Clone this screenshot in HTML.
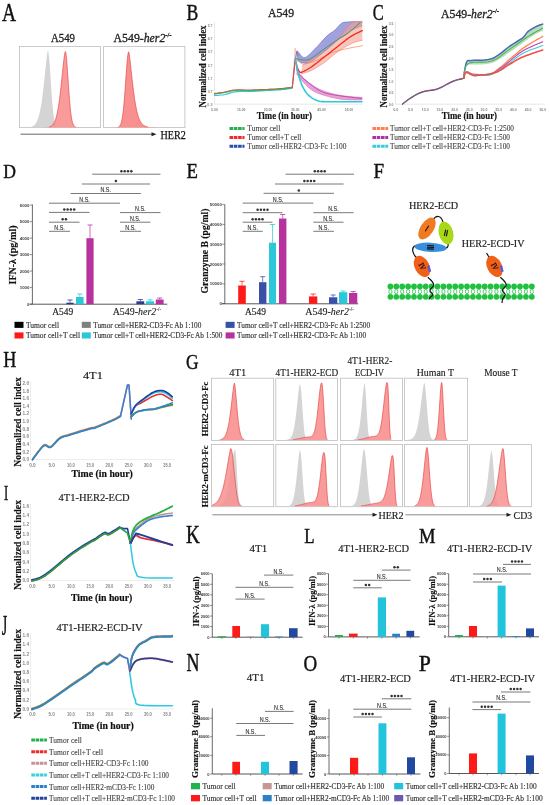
<!DOCTYPE html>
<html><head><meta charset="utf-8"><style>
html,body{margin:0;padding:0;background:#fff;}
svg{display:block;will-change:transform;}
</style></head><body>
<svg width="550" height="805" viewBox="0 0 550 805">
<rect x="0" y="0" width="550" height="805" fill="#fff"/>
<text transform="translate(2.00 20.90) scale(0.805 1)" font-family="Liberation Serif" font-size="24.24" fill="#111" stroke="#111" stroke-width="0.45">A</text>
<text transform="translate(186.40 20.34) scale(0.796 1)" font-family="Liberation Serif" font-size="22.21" fill="#111" stroke="#111" stroke-width="0.45">B</text>
<text transform="translate(372.70 20.18) scale(0.737 1)" font-family="Liberation Serif" font-size="22.16" fill="#111" stroke="#111" stroke-width="0.45">C</text>
<text transform="translate(3.30 178.15) scale(0.910 1)" font-family="Liberation Serif" font-size="19.32" fill="#111" stroke="#111" stroke-width="0.45">D</text>
<text transform="translate(186.40 178.20) scale(0.862 1)" font-family="Liberation Serif" font-size="21.68" fill="#111" stroke="#111" stroke-width="0.45">E</text>
<text transform="translate(373.60 178.20) scale(0.913 1)" font-family="Liberation Serif" font-size="20.92" fill="#111" stroke="#111" stroke-width="0.45">F</text>
<text transform="translate(3.30 367.30) scale(0.813 1)" font-family="Liberation Serif" font-size="22.29" fill="#111" stroke="#111" stroke-width="0.45">H</text>
<text transform="translate(186.00 368.78) scale(0.792 1)" font-family="Liberation Serif" font-size="22.01" fill="#111" stroke="#111" stroke-width="0.45">G</text>
<text transform="translate(4.00 500.40) scale(0.591 1)" font-family="Liberation Serif" font-size="21.37" fill="#111" stroke="#111" stroke-width="0.45">I</text>
<text transform="translate(1.80 635.21) scale(0.491 1)" font-family="Liberation Serif" font-size="28.72" fill="#111" stroke="#111" stroke-width="0.45">J</text>
<text transform="translate(186.00 542.80) scale(0.768 1)" font-family="Liberation Serif" font-size="24.89" fill="#111" stroke="#111" stroke-width="0.45">K</text>
<text transform="translate(304.20 543.20) scale(0.807 1)" font-family="Liberation Serif" font-size="20.92" fill="#111" stroke="#111" stroke-width="0.45">L</text>
<text transform="translate(419.00 542.60) scale(0.927 1)" font-family="Liberation Serif" font-size="20.00" fill="#111" stroke="#111" stroke-width="0.45">M</text>
<text transform="translate(186.50 671.00) scale(0.737 1)" font-family="Liberation Serif" font-size="24.43" fill="#111" stroke="#111" stroke-width="0.45">N</text>
<text transform="translate(303.60 671.07) scale(0.807 1)" font-family="Liberation Serif" font-size="23.49" fill="#111" stroke="#111" stroke-width="0.45">O</text>
<text transform="translate(418.70 671.00) scale(0.921 1)" font-family="Liberation Serif" font-size="23.66" fill="#111" stroke="#111" stroke-width="0.45">P</text>
<text x="51" y="41.6" font-family="Liberation Serif" font-size="11.5" font-weight="normal" font-style="normal" text-anchor="start" fill="#222" textLength="24" lengthAdjust="spacingAndGlyphs" stroke="#222" stroke-width="0.3">A549</text>
<text x="113.6" y="41.6" font-family="Liberation Serif" font-size="11.5" font-weight="normal" font-style="normal" text-anchor="start" fill="#222" textLength="58" lengthAdjust="spacingAndGlyphs" stroke="#222" stroke-width="0.3">A549-<tspan font-style="italic">her2</tspan><tspan font-size="6.5" dy="-4.5">-/-</tspan></text>
<rect x="19.5" y="46.4" width="81" height="81.2" fill="none" stroke="#bdbdbd" stroke-width="0.8"/>
<rect x="103.6" y="46.4" width="81.3" height="81.2" fill="none" stroke="#bdbdbd" stroke-width="0.8"/>
<path d="M20.0,127.4 L20.00,127.40 L20.50,127.40 L21.00,127.40 L21.50,127.39 L22.00,127.39 L22.50,127.39 L23.00,127.39 L23.50,127.38 L24.00,127.38 L24.50,127.37 L25.00,127.37 L25.50,127.36 L26.00,127.34 L26.50,127.33 L27.00,127.31 L27.50,127.28 L28.00,127.25 L28.50,127.21 L29.00,127.16 L29.50,127.10 L30.00,127.02 L30.50,126.93 L31.00,126.82 L31.50,126.68 L32.00,126.51 L32.50,126.30 L33.00,126.05 L33.50,125.75 L34.00,125.38 L34.50,124.95 L35.00,124.43 L35.50,123.82 L36.00,123.10 L36.50,122.25 L37.00,121.26 L37.50,120.11 L38.00,118.78 L38.50,117.25 L39.00,115.49 L39.50,113.50 L40.00,111.24 L40.50,108.70 L41.00,105.88 L41.50,102.74 L42.00,99.30 L42.50,95.55 L43.00,91.51 L43.50,87.19 L44.00,82.63 L44.50,77.89 L45.00,73.04 L45.50,68.18 L46.00,63.42 L46.50,58.95 L47.00,54.98 L47.50,51.85 L47.90,50.50 L48.00,50.57 L48.50,52.45 L49.00,56.50 L49.50,62.23 L50.00,69.13 L50.50,76.69 L51.00,84.41 L51.50,91.89 L52.00,98.80 L52.50,104.94 L53.00,110.20 L53.50,114.54 L54.00,118.02 L54.50,120.72 L55.00,122.76 L55.50,124.25 L56.00,125.31 L56.50,126.05 L57.00,126.55 L57.50,126.87 L58.00,127.08 L58.50,127.21 L59.00,127.29 L59.50,127.34 L60.00,127.37 L60.50,127.38 L61.00,127.39 L61.50,127.40 L62.00,127.40 L62.50,127.40 L63.00,127.40 L63.50,127.40 L64.00,127.40 L64.50,127.40 L65.00,127.40 L65.50,127.40 L66.00,127.40 L66.50,127.40 L67.00,127.40 L67.50,127.40 L68.00,127.40 L68.50,127.40 L69.00,127.40 L69.50,127.40 L70.00,127.40 L70.50,127.40 L71.00,127.40 L71.50,127.40 L72.00,127.40 L72.50,127.40 L73.00,127.40 L73.50,127.40 L74.00,127.40 L74.50,127.40 L75.00,127.40 L75.50,127.40 L76.00,127.40 L76.50,127.40 L77.00,127.40 L77.50,127.40 L78.00,127.40 L78.50,127.40 L79.00,127.40 L79.50,127.40 L80.00,127.40 L80.50,127.40 L81.00,127.40 L81.50,127.40 L82.00,127.40 L82.50,127.40 L83.00,127.40 L83.50,127.40 L84.00,127.40 L84.50,127.40 L85.00,127.40 L85.50,127.40 L86.00,127.40 L86.50,127.40 L87.00,127.40 L87.50,127.40 L88.00,127.40 L88.50,127.40 L89.00,127.40 L89.50,127.40 L90.00,127.40 L90.50,127.40 L91.00,127.40 L91.50,127.40 L92.00,127.40 L92.50,127.40 L93.00,127.40 L93.50,127.40 L94.00,127.40 L94.50,127.40 L95.00,127.40 L95.50,127.40 L96.00,127.40 L96.50,127.40 L97.00,127.40 L97.50,127.40 L98.00,127.40 L98.50,127.40 L99.00,127.40 L99.50,127.40 L100.00,127.40 L100.0,127.4 Z" fill="#d4d4d4" fill-opacity="1.0" stroke="none"/>
<path d="M20.0,127.4 L20.00,127.40 L20.50,127.40 L21.00,127.40 L21.50,127.40 L22.00,127.40 L22.50,127.40 L23.00,127.40 L23.50,127.40 L24.00,127.40 L24.50,127.40 L25.00,127.40 L25.50,127.40 L26.00,127.40 L26.50,127.40 L27.00,127.40 L27.50,127.40 L28.00,127.40 L28.50,127.40 L29.00,127.40 L29.50,127.40 L30.00,127.40 L30.50,127.40 L31.00,127.40 L31.50,127.40 L32.00,127.40 L32.50,127.40 L33.00,127.40 L33.50,127.40 L34.00,127.40 L34.50,127.40 L35.00,127.40 L35.50,127.40 L36.00,127.40 L36.50,127.40 L37.00,127.40 L37.50,127.40 L38.00,127.40 L38.50,127.40 L39.00,127.40 L39.50,127.40 L40.00,127.40 L40.50,127.40 L41.00,127.40 L41.50,127.39 L42.00,127.39 L42.50,127.39 L43.00,127.38 L43.50,127.38 L44.00,127.37 L44.50,127.36 L45.00,127.35 L45.50,127.33 L46.00,127.31 L46.50,127.28 L47.00,127.24 L47.50,127.19 L48.00,127.13 L48.50,127.05 L49.00,126.95 L49.50,126.82 L50.00,126.66 L50.50,126.46 L51.00,126.21 L51.50,125.91 L52.00,125.53 L52.50,125.08 L53.00,124.52 L53.50,123.86 L54.00,123.06 L54.50,122.11 L55.00,120.98 L55.50,119.66 L56.00,118.12 L56.50,116.33 L57.00,114.28 L57.50,111.94 L58.00,109.29 L58.50,106.32 L59.00,103.03 L59.50,99.40 L60.00,95.46 L60.50,91.22 L61.00,86.72 L61.50,82.01 L62.00,77.17 L62.50,72.29 L63.00,67.48 L63.50,62.90 L64.00,58.71 L64.50,55.15 L65.00,52.51 L65.40,51.50 L65.50,51.60 L66.00,53.91 L66.50,58.44 L67.00,64.53 L67.50,71.58 L68.00,79.06 L68.50,86.54 L69.00,93.66 L69.50,100.15 L70.00,105.87 L70.50,110.76 L71.00,114.80 L71.50,118.05 L72.00,120.61 L72.50,122.56 L73.00,124.02 L73.50,125.08 L74.00,125.84 L74.50,126.37 L75.00,126.74 L75.50,126.98 L76.00,127.14 L76.50,127.24 L77.00,127.30 L77.50,127.34 L78.00,127.37 L78.50,127.38 L79.00,127.39 L79.50,127.39 L80.00,127.40 L80.50,127.40 L81.00,127.40 L81.50,127.40 L82.00,127.40 L82.50,127.40 L83.00,127.40 L83.50,127.40 L84.00,127.40 L84.50,127.40 L85.00,127.40 L85.50,127.40 L86.00,127.40 L86.50,127.40 L87.00,127.40 L87.50,127.40 L88.00,127.40 L88.50,127.40 L89.00,127.40 L89.50,127.40 L90.00,127.40 L90.50,127.40 L91.00,127.40 L91.50,127.40 L92.00,127.40 L92.50,127.40 L93.00,127.40 L93.50,127.40 L94.00,127.40 L94.50,127.40 L95.00,127.40 L95.50,127.40 L96.00,127.40 L96.50,127.40 L97.00,127.40 L97.50,127.40 L98.00,127.40 L98.50,127.40 L99.00,127.40 L99.50,127.40 L100.00,127.40 L100.0,127.4 Z" fill="#f89090" fill-opacity="0.9" stroke="none"/>
<path d="M49.00,126.95 L49.50,126.82 L50.00,126.66 L50.50,126.46 L51.00,126.21 L51.50,125.91 L52.00,125.53 L52.50,125.08 L53.00,124.52 L53.50,123.86 L54.00,123.06 L54.50,122.11 L55.00,120.98 L55.50,119.66 L56.00,118.12 L56.50,116.33 L57.00,114.28 L57.50,111.94 L58.00,109.29 L58.50,106.32 L59.00,103.03 L59.50,99.40 L60.00,95.46 L60.50,91.22 L61.00,86.72 L61.50,82.01 L62.00,77.17 L62.50,72.29 L63.00,67.48 L63.50,62.90 L64.00,58.71 L64.50,55.15 L65.00,52.51 L65.40,51.50 L65.50,51.60 L66.00,53.91 L66.50,58.44 L67.00,64.53 L67.50,71.58 L68.00,79.06 L68.50,86.54 L69.00,93.66 L69.50,100.15 L70.00,105.87 L70.50,110.76 L71.00,114.80 L71.50,118.05 L72.00,120.61 L72.50,122.56 L73.00,124.02 L73.50,125.08 L74.00,125.84 L74.50,126.37 L75.00,126.74 L75.50,126.98" fill="none" stroke="#e84848" stroke-width="0.7" stroke-linejoin="round"/>
<path d="M104.0,127.4 L104.00,127.40 L104.50,127.40 L105.00,127.40 L105.50,127.40 L106.00,127.40 L106.50,127.40 L107.00,127.40 L107.50,127.40 L108.00,127.40 L108.50,127.40 L109.00,127.40 L109.50,127.40 L110.00,127.40 L110.50,127.40 L111.00,127.40 L111.50,127.40 L112.00,127.40 L112.50,127.40 L113.00,127.40 L113.50,127.40 L114.00,127.40 L114.50,127.39 L115.00,127.39 L115.50,127.38 L116.00,127.36 L116.50,127.33 L117.00,127.29 L117.50,127.21 L118.00,127.09 L118.50,126.90 L119.00,126.61 L119.50,126.17 L120.00,125.54 L120.50,124.64 L121.00,123.40 L121.50,121.71 L122.00,119.48 L122.50,116.61 L123.00,113.02 L123.50,108.64 L124.00,103.47 L124.50,97.54 L125.00,90.97 L125.50,83.96 L126.00,76.79 L126.50,69.80 L127.00,63.40 L127.50,58.03 L128.00,54.10 L128.50,52.02 L128.70,51.80 L129.00,52.94 L129.50,56.19 L130.00,60.23 L130.50,64.65 L131.00,69.26 L131.50,73.91 L132.00,78.48 L132.50,82.92 L133.00,87.16 L133.50,91.17 L134.00,94.93 L134.50,98.42 L135.00,101.64 L135.50,104.58 L136.00,107.27 L136.50,109.70 L137.00,111.88 L137.50,113.85 L138.00,115.60 L138.50,117.15 L139.00,118.53 L139.50,119.74 L140.00,120.81 L140.50,121.74 L141.00,122.55 L141.50,123.26 L142.00,123.87 L142.50,124.40 L143.00,124.86 L143.50,125.25 L144.00,125.58 L144.50,125.87 L145.00,126.11 L145.50,126.32 L146.00,126.50 L146.50,126.65 L147.00,126.77 L147.50,126.88 L148.00,126.97 L148.50,127.04 L149.00,127.10 L149.50,127.15 L150.00,127.20 L150.50,127.23 L151.00,127.26 L151.50,127.29 L152.00,127.31 L152.50,127.33 L153.00,127.34 L153.50,127.35 L154.00,127.36 L154.50,127.37 L155.00,127.37 L155.50,127.38 L156.00,127.38 L156.50,127.39 L157.00,127.39 L157.50,127.39 L158.00,127.39 L158.50,127.39 L159.00,127.40 L159.50,127.40 L160.00,127.40 L160.50,127.40 L161.00,127.40 L161.50,127.40 L162.00,127.40 L162.50,127.40 L163.00,127.40 L163.50,127.40 L164.00,127.40 L164.50,127.40 L165.00,127.40 L165.50,127.40 L166.00,127.40 L166.50,127.40 L167.00,127.40 L167.50,127.40 L168.00,127.40 L168.50,127.40 L169.00,127.40 L169.50,127.40 L170.00,127.40 L170.50,127.40 L171.00,127.40 L171.50,127.40 L172.00,127.40 L172.50,127.40 L173.00,127.40 L173.50,127.40 L174.00,127.40 L174.50,127.40 L175.00,127.40 L175.50,127.40 L176.00,127.40 L176.50,127.40 L177.00,127.40 L177.50,127.40 L178.00,127.40 L178.50,127.40 L179.00,127.40 L179.50,127.40 L180.00,127.40 L180.50,127.40 L181.00,127.40 L181.50,127.40 L182.00,127.40 L182.50,127.40 L183.00,127.40 L183.50,127.40 L184.00,127.40 L184.0,127.4 Z" fill="#f89090" fill-opacity="1.0" stroke="none"/>
<path d="M118.50,126.90 L119.00,126.61 L119.50,126.17 L120.00,125.54 L120.50,124.64 L121.00,123.40 L121.50,121.71 L122.00,119.48 L122.50,116.61 L123.00,113.02 L123.50,108.64 L124.00,103.47 L124.50,97.54 L125.00,90.97 L125.50,83.96 L126.00,76.79 L126.50,69.80 L127.00,63.40 L127.50,58.03 L128.00,54.10 L128.50,52.02 L128.70,51.80 L129.00,52.94 L129.50,56.19 L130.00,60.23 L130.50,64.65 L131.00,69.26 L131.50,73.91 L132.00,78.48 L132.50,82.92 L133.00,87.16 L133.50,91.17 L134.00,94.93 L134.50,98.42 L135.00,101.64 L135.50,104.58 L136.00,107.27 L136.50,109.70 L137.00,111.88 L137.50,113.85 L138.00,115.60 L138.50,117.15 L139.00,118.53 L139.50,119.74 L140.00,120.81 L140.50,121.74 L141.00,122.55 L141.50,123.26 L142.00,123.87 L142.50,124.40 L143.00,124.86 L143.50,125.25 L144.00,125.58 L144.50,125.87 L145.00,126.11 L145.50,126.32 L146.00,126.50 L146.50,126.65 L147.00,126.77 L147.50,126.88 L148.00,126.97" fill="none" stroke="#e84848" stroke-width="0.7" stroke-linejoin="round"/>
<line x1="20.5" y1="134.2" x2="154" y2="134.2" stroke="#666" stroke-width="1.0"/>
<path d="M156.5,134.2 L151.5,132.2 L151.5,136.2 Z" fill="#222"/>
<text x="160.5" y="139" font-family="Liberation Serif" font-size="12" font-weight="normal" font-style="normal" text-anchor="start" fill="#111" textLength="25.3" lengthAdjust="spacingAndGlyphs" stroke="#111" stroke-width="0.25">HER2</text>
<text x="281" y="17.3" font-family="Liberation Serif" font-size="11.8" font-weight="normal" font-style="normal" text-anchor="middle" fill="#222" stroke="#222" stroke-width="0.3">A549</text>
<line x1="214.5" y1="22" x2="214.5" y2="104.2" stroke="#d8d8d8" stroke-width="0.6"/>
<line x1="214.5" y1="104.2" x2="363" y2="104.2" stroke="#d8d8d8" stroke-width="0.6"/>
<text x="212.5" y="27.2" font-family="Liberation Sans" font-size="4.0" font-weight="bold" font-style="normal" text-anchor="end" fill="#888" textLength="4.800000000000001" lengthAdjust="spacingAndGlyphs">5.7</text>
<text x="212.5" y="40.3" font-family="Liberation Sans" font-size="4.0" font-weight="bold" font-style="normal" text-anchor="end" fill="#888" textLength="4.800000000000001" lengthAdjust="spacingAndGlyphs">4.7</text>
<text x="212.5" y="53.4" font-family="Liberation Sans" font-size="4.0" font-weight="bold" font-style="normal" text-anchor="end" fill="#888" textLength="4.800000000000001" lengthAdjust="spacingAndGlyphs">3.7</text>
<text x="212.5" y="66.5" font-family="Liberation Sans" font-size="4.0" font-weight="bold" font-style="normal" text-anchor="end" fill="#888" textLength="4.800000000000001" lengthAdjust="spacingAndGlyphs">2.7</text>
<text x="212.5" y="79.60000000000001" font-family="Liberation Sans" font-size="4.0" font-weight="bold" font-style="normal" text-anchor="end" fill="#888" textLength="4.800000000000001" lengthAdjust="spacingAndGlyphs">1.7</text>
<text x="212.5" y="92.7" font-family="Liberation Sans" font-size="4.0" font-weight="bold" font-style="normal" text-anchor="end" fill="#888" textLength="4.800000000000001" lengthAdjust="spacingAndGlyphs">0.7</text>
<text x="212.5" y="105.80000000000001" font-family="Liberation Sans" font-size="4.0" font-weight="bold" font-style="normal" text-anchor="end" fill="#888" textLength="6.4" lengthAdjust="spacingAndGlyphs">-0.3</text>
<text x="214.5" y="110.5" font-family="Liberation Sans" font-size="4.2" font-weight="bold" font-style="normal" text-anchor="middle" fill="#888" textLength="6.8" lengthAdjust="spacingAndGlyphs">5.00</text>
<text x="241.2" y="110.5" font-family="Liberation Sans" font-size="4.2" font-weight="bold" font-style="normal" text-anchor="middle" fill="#888" textLength="8.5" lengthAdjust="spacingAndGlyphs">15.00</text>
<text x="268" y="110.5" font-family="Liberation Sans" font-size="4.2" font-weight="bold" font-style="normal" text-anchor="middle" fill="#888" textLength="8.5" lengthAdjust="spacingAndGlyphs">25.00</text>
<text x="295.2" y="110.5" font-family="Liberation Sans" font-size="4.2" font-weight="bold" font-style="normal" text-anchor="middle" fill="#888" textLength="8.5" lengthAdjust="spacingAndGlyphs">35.00</text>
<text x="321.5" y="110.5" font-family="Liberation Sans" font-size="4.2" font-weight="bold" font-style="normal" text-anchor="middle" fill="#888" textLength="8.5" lengthAdjust="spacingAndGlyphs">45.00</text>
<text x="349" y="110.5" font-family="Liberation Sans" font-size="4.2" font-weight="bold" font-style="normal" text-anchor="middle" fill="#888" textLength="8.5" lengthAdjust="spacingAndGlyphs">55.00</text>
<text x="206" y="66.5" font-family="Liberation Serif" font-size="10" font-weight="bold" font-style="normal" text-anchor="middle" fill="#111" textLength="82" lengthAdjust="spacingAndGlyphs" transform="rotate(-90 206 66.5)" stroke="#111" stroke-width="0.15">Normalized cell index</text>
<text x="284.3" y="118.6" font-family="Liberation Serif" font-size="9.5" font-weight="bold" font-style="normal" text-anchor="middle" fill="#111" textLength="55.3" lengthAdjust="spacingAndGlyphs" stroke="#111" stroke-width="0.15">Time (in hour)</text>
<path d="M296.1,51.2 L296.3,51.2 L296.5,51.2 L296.9,51.2 L297.2,51.2 L297.7,51.4 L298.2,51.8 L298.8,52.5 L299.6,53.5 L300.4,54.7 L301.3,55.8 L302.2,56.7 L303.0,57.3 L303.7,57.6 L304.4,57.6 L305.1,57.5 L305.8,57.2 L306.6,56.7 L307.7,55.9 L309.0,54.8 L310.5,53.4 L312.2,51.7 L313.9,49.9 L315.6,48.1 L317.3,46.4 L318.9,44.7 L320.5,42.9 L322.1,41.0 L323.7,39.3 L325.3,37.6 L326.8,36.1 L328.3,34.8 L329.7,33.8 L331.1,32.8 L332.4,31.9 L333.7,31.0 L335.0,30.0 L336.2,28.8 L337.3,27.6 L338.4,26.3 L339.5,25.1 L340.6,24.0 L341.8,23.2 L343.0,22.6 L344.3,22.3 L345.6,22.1 L346.9,22.0 L348.4,21.9 L350.0,21.8 L351.9,21.7 L354.2,21.7 L356.5,21.7 L358.7,21.7 L360.7,21.8 L362.0,21.8 L362.0,26.0 L360.9,26.4 L359.3,27.0 L357.5,27.7 L355.5,28.4 L353.6,29.2 L352.0,30.0 L350.6,30.8 L349.3,31.8 L348.1,32.7 L346.9,33.7 L345.8,34.6 L344.6,35.5 L343.5,36.2 L342.5,36.9 L341.5,37.5 L340.5,38.2 L339.2,39.0 L337.7,40.2 L335.8,41.8 L333.6,43.6 L331.3,45.7 L328.8,47.8 L326.4,49.9 L324.0,51.8 L321.7,53.7 L319.3,55.7 L316.9,57.6 L314.6,59.4 L312.4,60.9 L310.5,62.0 L308.8,62.7 L307.3,63.1 L305.9,63.2 L304.6,63.1 L303.4,62.9 L302.3,62.7 L301.2,62.4 L300.1,62.0 L299.0,61.4 L298.1,60.8 L297.4,60.3 L296.8,60.0Z" fill="#8a8ad8" fill-opacity="0.8" stroke="none"/>
<path d="M296.1,51.2 L296.3,51.2 L296.5,51.2 L296.9,51.2 L297.2,51.2 L297.7,51.4 L298.2,51.8 L298.8,52.5 L299.6,53.5 L300.4,54.7 L301.3,55.8 L302.2,56.7 L303.0,57.3 L303.7,57.6 L304.4,57.6 L305.1,57.5 L305.8,57.2 L306.6,56.7 L307.7,55.9 L309.0,54.8 L310.5,53.4 L312.2,51.7 L313.9,49.9 L315.6,48.1 L317.3,46.4 L318.9,44.7 L320.5,42.9 L322.1,41.0 L323.7,39.3 L325.3,37.6 L326.8,36.1 L328.3,34.8 L329.7,33.8 L331.1,32.8 L332.4,31.9 L333.7,31.0 L335.0,30.0 L336.2,28.8 L337.3,27.6 L338.4,26.3 L339.5,25.1 L340.6,24.0 L341.8,23.2 L343.0,22.6 L344.3,22.3 L345.6,22.1 L346.9,22.0 L348.4,21.9 L350.0,21.8 L351.9,21.7 L354.2,21.7 L356.5,21.7 L358.7,21.7 L360.7,21.8 L362.0,21.8" fill="none" stroke="#6a6ac8" stroke-width="0.6" stroke-linejoin="round" stroke-linecap="round"/>
<path d="M362.0,26.0 L360.9,26.4 L359.3,27.0 L357.5,27.7 L355.5,28.4 L353.6,29.2 L352.0,30.0 L350.6,30.8 L349.3,31.8 L348.1,32.7 L346.9,33.7 L345.8,34.6 L344.6,35.5 L343.5,36.2 L342.5,36.9 L341.5,37.5 L340.5,38.2 L339.2,39.0 L337.7,40.2 L335.8,41.8 L333.6,43.6 L331.3,45.7 L328.8,47.8 L326.4,49.9 L324.0,51.8 L321.7,53.7 L319.3,55.7 L316.9,57.6 L314.6,59.4 L312.4,60.9 L310.5,62.0 L308.8,62.7 L307.3,63.1 L305.9,63.2 L304.6,63.1 L303.4,62.9 L302.3,62.7 L301.2,62.4 L300.1,62.0 L299.0,61.4 L298.1,60.8 L297.4,60.3 L296.8,60.0" fill="none" stroke="#6a6ac8" stroke-width="0.6" stroke-linejoin="round" stroke-linecap="round"/>
<path d="M302.3,65.5 L303.1,64.9 L304.2,64.2 L305.6,63.3 L307.1,62.2 L308.7,61.1 L310.5,60.0 L312.4,58.8 L314.6,57.6 L316.9,56.3 L319.3,54.9 L321.7,53.4 L324.0,51.8 L326.3,50.0 L328.6,48.2 L330.8,46.2 L333.1,44.1 L335.4,41.9 L337.7,39.6 L340.0,36.9 L342.4,33.9 L344.7,30.7 L347.0,27.7 L349.3,25.1 L351.4,23.2 L353.5,22.1 L355.6,21.6 L357.7,21.5 L359.6,21.6 L361.1,21.8 L362.3,21.8 L362.3,40.2 L361.1,40.5 L359.6,40.9 L357.7,41.4 L355.6,42.0 L353.5,42.7 L351.4,43.6 L349.3,44.7 L347.0,45.9 L344.7,47.2 L342.4,48.7 L340.0,50.2 L337.7,51.8 L335.4,53.5 L333.1,55.3 L330.8,57.2 L328.6,59.2 L326.3,61.0 L324.0,62.7 L321.7,64.3 L319.3,65.8 L317.0,67.3 L314.7,68.7 L312.5,69.9 L310.5,70.9 L308.6,71.7 L306.7,72.3 L304.9,72.8 L303.3,73.2 L302.0,73.5 L301.0,73.7Z" fill="#f5a090" fill-opacity="0.6" stroke="none"/>
<path d="M302.3,65.5 L303.1,64.9 L304.2,64.2 L305.6,63.3 L307.1,62.2 L308.7,61.1 L310.5,60.0 L312.4,58.8 L314.6,57.6 L316.9,56.3 L319.3,54.9 L321.7,53.4 L324.0,51.8 L326.3,50.0 L328.6,48.2 L330.8,46.2 L333.1,44.1 L335.4,41.9 L337.7,39.6 L340.0,36.9 L342.4,33.9 L344.7,30.7 L347.0,27.7 L349.3,25.1 L351.4,23.2 L353.5,22.1 L355.6,21.6 L357.7,21.5 L359.6,21.6 L361.1,21.8 L362.3,21.8" fill="none" stroke="#f07060" stroke-width="0.5" stroke-linejoin="round" stroke-linecap="round"/>
<path d="M362.3,40.2 L361.1,40.5 L359.6,40.9 L357.7,41.4 L355.6,42.0 L353.5,42.7 L351.4,43.6 L349.3,44.7 L347.0,45.9 L344.7,47.2 L342.4,48.7 L340.0,50.2 L337.7,51.8 L335.4,53.5 L333.1,55.3 L330.8,57.2 L328.6,59.2 L326.3,61.0 L324.0,62.7 L321.7,64.3 L319.3,65.8 L317.0,67.3 L314.7,68.7 L312.5,69.9 L310.5,70.9 L308.6,71.7 L306.7,72.3 L304.9,72.8 L303.3,73.2 L302.0,73.5 L301.0,73.7" fill="none" stroke="#f07060" stroke-width="0.5" stroke-linejoin="round" stroke-linecap="round"/>
<path d="M296.6,69.7 L297.2,70.5 L298.0,71.6 L299.0,72.9 L300.1,74.3 L301.3,75.7 L302.5,77.0 L303.8,78.2 L305.1,79.5 L306.6,80.7 L308.1,82.0 L309.6,83.2 L311.2,84.3 L312.8,85.4 L314.3,86.4 L315.9,87.4 L317.6,88.3 L319.4,89.2 L321.4,90.1 L323.6,90.9 L325.9,91.8 L328.4,92.5 L330.9,93.3 L333.4,93.9 L335.9,94.5 L338.4,95.0 L340.9,95.4 L343.4,95.8 L345.9,96.1 L348.2,96.4 L350.5,96.6 L352.7,96.8 L355.0,97.0 L357.2,97.1 L359.1,97.2 L360.8,97.3 L362.0,97.4 L362.0,100.0 L359.9,100.0 L357.0,100.0 L353.5,99.9 L349.9,99.9 L346.3,99.7 L343.2,99.5 L340.5,99.2 L338.0,98.8 L335.6,98.3 L333.3,97.8 L331.0,97.2 L328.6,96.6 L326.1,95.9 L323.6,95.2 L321.1,94.4 L318.6,93.5 L316.3,92.6 L314.1,91.5 L312.1,90.3 L310.3,88.9 L308.5,87.4 L306.9,85.8 L305.4,84.3 L303.9,82.8 L302.4,81.2 L301.0,79.5 L299.6,77.9 L298.4,76.3 L297.4,75.0 L296.6,74.0Z" fill="#e080c8" fill-opacity="0.75" stroke="none"/>
<path d="M296.6,69.7 L297.2,70.5 L298.0,71.6 L299.0,72.9 L300.1,74.3 L301.3,75.7 L302.5,77.0 L303.8,78.2 L305.1,79.5 L306.6,80.7 L308.1,82.0 L309.6,83.2 L311.2,84.3 L312.8,85.4 L314.3,86.4 L315.9,87.4 L317.6,88.3 L319.4,89.2 L321.4,90.1 L323.6,90.9 L325.9,91.8 L328.4,92.5 L330.9,93.3 L333.4,93.9 L335.9,94.5 L338.4,95.0 L340.9,95.4 L343.4,95.8 L345.9,96.1 L348.2,96.4 L350.5,96.6 L352.7,96.8 L355.0,97.0 L357.2,97.1 L359.1,97.2 L360.8,97.3 L362.0,97.4" fill="none" stroke="#d060b8" stroke-width="0.5" stroke-linejoin="round" stroke-linecap="round"/>
<path d="M362.0,100.0 L359.9,100.0 L357.0,100.0 L353.5,99.9 L349.9,99.9 L346.3,99.7 L343.2,99.5 L340.5,99.2 L338.0,98.8 L335.6,98.3 L333.3,97.8 L331.0,97.2 L328.6,96.6 L326.1,95.9 L323.6,95.2 L321.1,94.4 L318.6,93.5 L316.3,92.6 L314.1,91.5 L312.1,90.3 L310.3,88.9 L308.5,87.4 L306.9,85.8 L305.4,84.3 L303.9,82.8 L302.4,81.2 L301.0,79.5 L299.6,77.9 L298.4,76.3 L297.4,75.0 L296.6,74.0" fill="none" stroke="#d060b8" stroke-width="0.5" stroke-linejoin="round" stroke-linecap="round"/>
<path d="M214.5,95.5 L215.6,95.4 L217.2,95.3 L219.1,95.2 L221.1,95.0 L223.2,94.8 L225.0,94.5 L226.6,94.1 L228.2,93.6 L229.7,93.1 L231.3,92.6 L233.0,92.1 L235.0,91.8 L237.2,91.6 L239.7,91.5 L242.4,91.5 L245.0,91.5 L247.6,91.5 L250.0,91.5 L252.1,91.4 L254.0,91.3 L255.8,91.2 L257.7,91.1 L259.7,90.9 L262.0,90.8 L264.7,90.7 L267.8,90.5 L271.0,90.4 L274.2,90.2 L277.3,90.0 L280.0,89.8 L282.5,89.5 L285.0,89.3 L287.3,88.9 L289.3,88.6 L291.0,88.4 L292.3,88.2" fill="none" stroke="#33c8e0" stroke-width="1.2" stroke-linejoin="round" stroke-linecap="round"/>
<path d="M214.5,93.6 L215.6,93.4 L217.2,93.2 L219.1,92.9 L221.1,92.6 L223.2,92.3 L225.0,92.0 L226.6,91.7 L228.2,91.3 L229.7,90.9 L231.3,90.5 L233.0,90.2 L235.0,90.0 L237.2,89.9 L239.7,89.9 L242.4,89.9 L245.0,90.0 L247.6,90.0 L250.0,90.0 L252.1,90.0 L254.0,89.9 L255.8,89.9 L257.7,89.8 L259.7,89.7 L262.0,89.6 L264.7,89.5 L267.8,89.4 L271.0,89.2 L274.2,89.1 L277.3,88.9 L280.0,88.7 L282.5,88.5 L285.0,88.2 L287.3,87.9 L289.3,87.6 L291.0,87.4 L292.3,87.2" fill="none" stroke="#e84a3a" stroke-width="1.2" stroke-linejoin="round" stroke-linecap="round"/>
<path d="M214.5,94.1 L215.6,93.9 L217.2,93.7 L219.1,93.4 L221.1,93.1 L223.2,92.8 L225.0,92.5 L226.6,92.2 L228.2,91.8 L229.7,91.4 L231.3,91.0 L233.0,90.7 L235.0,90.5 L237.2,90.4 L239.7,90.4 L242.4,90.4 L245.0,90.5 L247.6,90.5 L250.0,90.5 L252.1,90.5 L254.0,90.4 L255.8,90.4 L257.7,90.3 L259.7,90.2 L262.0,90.1 L264.7,90.0 L267.8,89.9 L271.0,89.7 L274.2,89.6 L277.3,89.4 L280.0,89.2 L282.5,89.0 L285.0,88.7 L287.3,88.4 L289.3,88.1 L291.0,87.9 L292.3,87.7" fill="none" stroke="#3ab04a" stroke-width="1.0" stroke-linejoin="round" stroke-linecap="round"/>
<path d="M292.3,87.5 L295.2,47.9 L297.0,62.0" fill="none" stroke="#f6c0a0" stroke-width="0.9" stroke-linejoin="round" stroke-linecap="round"/>
<path d="M292.3,87.5 L295.2,59.5 L296.8,51.5 L298.2,56.0" fill="none" stroke="#7070c8" stroke-width="0.9" stroke-linejoin="round" stroke-linecap="round"/>
<path d="M292.3,87.5 L295.2,59.5 L298.2,69.6" fill="none" stroke="#e84a3a" stroke-width="1.1" stroke-linejoin="round" stroke-linecap="round"/>
<path d="M296.1,58.7 L296.9,58.9 L298.1,59.1 L299.4,59.4 L300.9,59.7 L302.3,59.9 L303.6,60.0 L304.7,60.0 L305.7,60.1 L306.7,60.0 L307.7,59.8 L309.0,59.4 L310.5,58.7 L312.4,57.6 L314.5,56.1 L316.8,54.4 L319.2,52.6 L321.7,50.8 L324.0,49.1 L326.3,47.5 L328.7,45.8 L331.0,44.2 L333.3,42.6 L335.6,41.0 L337.7,39.6 L339.7,38.3 L341.5,37.2 L343.3,36.2 L345.0,35.1 L346.8,34.0 L348.6,32.7 L350.6,31.1 L352.9,29.2 L355.1,27.2 L357.2,25.3 L359.0,23.6 L360.3,22.5" fill="none" stroke="#3a9a50" stroke-width="1.0" stroke-linejoin="round" stroke-linecap="round"/>
<path d="M298.2,60.0 L298.7,60.5 L299.3,61.4 L300.0,62.3 L301.0,63.2 L302.2,63.8 L303.6,64.1 L305.4,63.9 L307.6,63.4 L309.9,62.7 L312.4,61.9 L314.9,60.9 L317.3,60.0 L319.6,59.0 L321.8,57.8 L324.1,56.6 L326.4,55.4 L328.6,54.2 L330.9,53.2 L333.1,52.4 L335.3,51.6 L337.5,50.9 L339.7,50.3 L342.1,49.7 L344.6,49.1 L347.5,48.5 L350.9,47.8 L354.3,47.1 L357.6,46.6 L360.3,46.1 L362.3,45.7" fill="none" stroke="#ff8050" stroke-width="0.7" stroke-linejoin="round" stroke-linecap="round"/>
<path d="M298.2,69.6 L298.4,70.0 L298.7,70.6 L299.0,71.2 L299.5,71.9 L300.1,72.3 L301.0,72.3 L302.1,72.0 L303.5,71.5 L305.1,70.7 L306.8,69.8 L308.6,68.7 L310.5,67.5 L312.5,66.1 L314.7,64.5 L317.0,62.8 L319.3,61.0 L321.7,59.1 L324.0,57.3 L326.3,55.5 L328.6,53.7 L330.8,51.9 L333.1,50.0 L335.4,48.2 L337.7,46.4 L340.0,44.6 L342.4,42.7 L344.7,40.9 L347.0,39.1 L349.3,37.5 L351.4,36.1 L353.5,34.9 L355.6,33.7 L357.7,32.8 L359.6,31.9 L361.1,31.2 L362.3,30.7" fill="none" stroke="#f02a20" stroke-width="1.3" stroke-linejoin="round" stroke-linecap="round"/>
<path d="M296.0,62.0 L296.1,63.2 L296.3,64.8 L296.4,66.8 L296.8,68.8 L297.2,70.8 L298.0,72.6 L299.0,74.2 L300.2,75.6 L301.6,77.0 L303.2,78.4 L304.9,79.9 L306.8,81.4 L308.9,83.1 L311.2,84.9 L313.7,86.8 L316.3,88.6 L318.9,90.2 L321.4,91.5 L323.7,92.5 L325.8,93.2 L327.9,93.8 L330.2,94.2 L332.8,94.7 L335.9,95.2 L339.9,95.8 L344.7,96.5 L349.9,97.1 L354.8,97.7 L359.0,98.1 L362.0,98.5" fill="none" stroke="#b040a0" stroke-width="0.8" stroke-linejoin="round" stroke-linecap="round"/>
<path d="M295.5,60.0 L295.8,61.4 L296.2,63.4 L296.6,65.7 L297.1,68.1 L297.6,70.5 L298.1,72.6 L298.5,74.5 L299.0,76.2 L299.4,77.9 L299.9,79.6 L300.4,81.2 L301.0,82.8 L301.6,84.4 L302.3,85.9 L303.0,87.4 L303.8,88.9 L304.6,90.2 L305.4,91.5 L306.3,92.7 L307.2,93.8 L308.1,94.8 L309.1,95.7 L310.1,96.6 L311.2,97.4 L312.3,98.2 L313.4,98.9 L314.6,99.5 L315.8,100.1 L317.1,100.6 L318.5,101.0 L319.8,101.3 L320.8,101.5 L321.9,101.6 L323.4,101.6 L325.5,101.7 L328.6,101.7 L333.2,101.7 L339.2,101.8 L345.9,101.7 L352.5,101.7 L358.1,101.7 L362.0,101.7" fill="none" stroke="#30c8d8" stroke-width="1.6" stroke-linejoin="round" stroke-linecap="round"/>
<line x1="229.5" y1="128.5" x2="244.5" y2="128.5" stroke="#22b04b" stroke-width="3.0" stroke-dasharray="3.6,0.7"/>
<text x="247.3" y="131.2" font-family="Liberation Serif" font-size="8" font-weight="normal" font-style="normal" text-anchor="start" fill="#444" textLength="33" lengthAdjust="spacingAndGlyphs" stroke="#444" stroke-width="0.12">Tumor cell</text>
<line x1="229.5" y1="137.4" x2="244.5" y2="137.4" stroke="#f02a2a" stroke-width="3.0" stroke-dasharray="3.6,0.7"/>
<text x="247.3" y="140.1" font-family="Liberation Serif" font-size="8" font-weight="normal" font-style="normal" text-anchor="start" fill="#444" textLength="54" lengthAdjust="spacingAndGlyphs" stroke="#444" stroke-width="0.12">Tumor cell+T cell</text>
<line x1="229.5" y1="146.3" x2="244.5" y2="146.3" stroke="#2c4eaa" stroke-width="3.0" stroke-dasharray="3.6,0.7"/>
<text x="247.3" y="149.0" font-family="Liberation Serif" font-size="8" font-weight="normal" font-style="normal" text-anchor="start" fill="#444" textLength="99" lengthAdjust="spacingAndGlyphs" stroke="#444" stroke-width="0.12">Tumor cell+HER2-CD3-Fc 1:100</text>
<text x="441" y="17.5" font-family="Liberation Serif" font-size="11.5" font-weight="normal" font-style="normal" text-anchor="start" fill="#222" textLength="58" lengthAdjust="spacingAndGlyphs" stroke="#222" stroke-width="0.3">A549-<tspan font-style="italic">her2</tspan><tspan font-size="6.5" dy="-4.5">-/-</tspan></text>
<line x1="395.5" y1="22" x2="395.5" y2="104.2" stroke="#d8d8d8" stroke-width="0.6"/>
<line x1="395.5" y1="104.2" x2="545" y2="104.2" stroke="#d8d8d8" stroke-width="0.6"/>
<text x="393.5" y="24.7" font-family="Liberation Sans" font-size="4.0" font-weight="bold" font-style="normal" text-anchor="end" fill="#888" textLength="4.800000000000001" lengthAdjust="spacingAndGlyphs">3.5</text>
<text x="393.5" y="36.3" font-family="Liberation Sans" font-size="4.0" font-weight="bold" font-style="normal" text-anchor="end" fill="#888" textLength="4.800000000000001" lengthAdjust="spacingAndGlyphs">3.0</text>
<text x="393.5" y="47.9" font-family="Liberation Sans" font-size="4.0" font-weight="bold" font-style="normal" text-anchor="end" fill="#888" textLength="4.800000000000001" lengthAdjust="spacingAndGlyphs">2.5</text>
<text x="393.5" y="59.5" font-family="Liberation Sans" font-size="4.0" font-weight="bold" font-style="normal" text-anchor="end" fill="#888" textLength="4.800000000000001" lengthAdjust="spacingAndGlyphs">2.0</text>
<text x="393.5" y="71.10000000000001" font-family="Liberation Sans" font-size="4.0" font-weight="bold" font-style="normal" text-anchor="end" fill="#888" textLength="4.800000000000001" lengthAdjust="spacingAndGlyphs">1.5</text>
<text x="393.5" y="82.7" font-family="Liberation Sans" font-size="4.0" font-weight="bold" font-style="normal" text-anchor="end" fill="#888" textLength="4.800000000000001" lengthAdjust="spacingAndGlyphs">1.0</text>
<text x="393.5" y="94.30000000000001" font-family="Liberation Sans" font-size="4.0" font-weight="bold" font-style="normal" text-anchor="end" fill="#888" textLength="4.800000000000001" lengthAdjust="spacingAndGlyphs">0.5</text>
<text x="393.5" y="105.9" font-family="Liberation Sans" font-size="4.0" font-weight="bold" font-style="normal" text-anchor="end" fill="#888" textLength="4.800000000000001" lengthAdjust="spacingAndGlyphs">0.0</text>
<text x="395.8" y="110.5" font-family="Liberation Sans" font-size="4.2" font-weight="bold" font-style="normal" text-anchor="middle" fill="#888" textLength="5.1" lengthAdjust="spacingAndGlyphs">0.0</text>
<text x="410.5" y="110.5" font-family="Liberation Sans" font-size="4.2" font-weight="bold" font-style="normal" text-anchor="middle" fill="#888" textLength="5.1" lengthAdjust="spacingAndGlyphs">5.0</text>
<text x="425.2" y="110.5" font-family="Liberation Sans" font-size="4.2" font-weight="bold" font-style="normal" text-anchor="middle" fill="#888" textLength="6.8" lengthAdjust="spacingAndGlyphs">10.0</text>
<text x="439.90000000000003" y="110.5" font-family="Liberation Sans" font-size="4.2" font-weight="bold" font-style="normal" text-anchor="middle" fill="#888" textLength="6.8" lengthAdjust="spacingAndGlyphs">15.0</text>
<text x="454.6" y="110.5" font-family="Liberation Sans" font-size="4.2" font-weight="bold" font-style="normal" text-anchor="middle" fill="#888" textLength="6.8" lengthAdjust="spacingAndGlyphs">20.0</text>
<text x="469.3" y="110.5" font-family="Liberation Sans" font-size="4.2" font-weight="bold" font-style="normal" text-anchor="middle" fill="#888" textLength="6.8" lengthAdjust="spacingAndGlyphs">25.0</text>
<text x="484.0" y="110.5" font-family="Liberation Sans" font-size="4.2" font-weight="bold" font-style="normal" text-anchor="middle" fill="#888" textLength="6.8" lengthAdjust="spacingAndGlyphs">30.0</text>
<text x="498.7" y="110.5" font-family="Liberation Sans" font-size="4.2" font-weight="bold" font-style="normal" text-anchor="middle" fill="#888" textLength="6.8" lengthAdjust="spacingAndGlyphs">35.0</text>
<text x="513.4" y="110.5" font-family="Liberation Sans" font-size="4.2" font-weight="bold" font-style="normal" text-anchor="middle" fill="#888" textLength="6.8" lengthAdjust="spacingAndGlyphs">40.0</text>
<text x="528.1" y="110.5" font-family="Liberation Sans" font-size="4.2" font-weight="bold" font-style="normal" text-anchor="middle" fill="#888" textLength="6.8" lengthAdjust="spacingAndGlyphs">45.0</text>
<text x="542.8" y="110.5" font-family="Liberation Sans" font-size="4.2" font-weight="bold" font-style="normal" text-anchor="middle" fill="#888" textLength="6.8" lengthAdjust="spacingAndGlyphs">50.0</text>
<text x="387" y="66.5" font-family="Liberation Serif" font-size="10" font-weight="bold" font-style="normal" text-anchor="middle" fill="#111" textLength="82" lengthAdjust="spacingAndGlyphs" transform="rotate(-90 387 66.5)" stroke="#111" stroke-width="0.15">Normalized cell index</text>
<text x="469.4" y="118.6" font-family="Liberation Serif" font-size="9.5" font-weight="bold" font-style="normal" text-anchor="middle" fill="#111" textLength="55.3" lengthAdjust="spacingAndGlyphs" stroke="#111" stroke-width="0.15">Time (in hour)</text>
<path d="M402.4,104.2 L403.2,103.6 L404.3,102.7 L405.6,101.7 L407.1,100.6 L408.6,99.5 L410.0,98.5 L411.5,97.6 L413.0,96.6 L414.6,95.7 L416.1,94.8 L417.7,94.0 L419.1,93.3 L420.4,92.8 L421.5,92.3 L422.6,92.0 L423.7,91.7 L425.0,91.4 L426.4,91.1 L428.1,90.8 L429.8,90.6 L431.7,90.3 L433.8,90.0 L435.8,89.6 L438.0,88.9 L440.3,87.9 L442.8,86.7 L445.3,85.3 L447.9,83.9 L450.3,82.6 L452.5,81.6 L454.6,80.8 L456.6,80.2 L458.4,79.7 L460.1,79.3 L461.6,79.0 L462.7,78.7 L463.4,78.5 L463.7,78.4 L463.8,78.3 L463.7,78.3 L463.6,78.3 L463.6,78.3" fill="none" stroke="#3a7a4a" stroke-width="1.3" stroke-linejoin="round" stroke-linecap="round"/>
<path d="M402.4,103.8 L403.2,103.2 L404.3,102.3 L405.6,101.3 L407.1,100.2 L408.6,99.1 L410.0,98.1 L411.5,97.2 L413.0,96.2 L414.6,95.3 L416.1,94.4 L417.7,93.6 L419.1,92.9 L420.4,92.4 L421.5,91.9 L422.6,91.6 L423.7,91.3 L425.0,91.0 L426.4,90.7 L428.1,90.4 L429.8,90.2 L431.7,89.9 L433.8,89.6 L435.8,89.2 L438.0,88.5 L440.3,87.5 L442.8,86.3 L445.3,84.9 L447.9,83.5 L450.3,82.2 L452.5,81.2 L454.6,80.4 L456.6,79.8 L458.4,79.3 L460.1,78.9 L461.6,78.6 L462.7,78.3 L463.4,78.1 L463.7,78.0 L463.8,77.9 L463.7,77.9 L463.6,77.9 L463.6,77.9" fill="none" stroke="#b03aa8" stroke-width="1.0" stroke-linejoin="round" stroke-linecap="round"/>
<path d="M466.4,61.8 L466.8,61.6 L467.3,61.3 L467.8,61.0 L468.7,60.7 L470.0,60.3 L471.8,60.0 L474.3,59.8 L477.5,59.8 L481.0,59.8 L484.7,59.6 L488.4,59.1 L491.8,58.2 L495.0,56.7 L498.2,54.6 L501.4,52.2 L504.4,49.8 L507.3,47.5 L510.0,45.5 L512.5,43.9 L514.9,42.4 L517.1,41.0 L519.2,39.7 L521.1,38.5 L522.7,37.3 L524.0,36.1 L524.9,35.0 L525.7,33.9 L526.4,32.9 L527.2,31.9 L528.2,30.9 L529.6,29.9 L531.1,28.9 L532.8,27.9 L534.4,27.0 L536.0,26.2 L537.3,25.5 L538.5,25.0 L539.6,24.5 L540.6,24.2 L541.4,24.0 L542.2,23.8 L542.7,23.6 L542.7,31.0 L542.2,31.2 L541.4,31.4 L540.6,31.6 L539.6,32.0 L538.5,32.4 L537.3,33.0 L536.0,33.8 L534.4,34.8 L532.8,35.9 L531.1,37.0 L529.6,38.1 L528.2,39.0 L527.2,39.7 L526.4,40.3 L525.7,40.8 L524.9,41.4 L524.0,42.1 L522.7,43.0 L521.1,44.2 L519.2,45.6 L517.1,47.1 L514.9,48.7 L512.5,50.3 L510.0,52.0 L507.3,53.8 L504.4,55.9 L501.4,58.0 L498.2,60.0 L495.0,61.7 L491.8,63.0 L488.4,63.8 L484.7,64.2 L481.0,64.4 L477.5,64.4 L474.3,64.4 L471.8,64.5 L470.0,64.6 L468.7,64.8 L467.8,64.8 L467.3,64.9 L466.8,65.0 L466.4,65.0Z" fill="#80c888" fill-opacity="0.6" stroke="none"/>
<path d="M463.6,78.3 L463.9,76.4 L464.2,73.7 L464.7,70.5 L465.2,67.3 L465.8,64.5 L466.4,62.5 L467.0,61.4 L467.5,60.8 L468.0,60.6 L468.8,60.6 L470.0,60.7 L471.8,60.5 L474.3,60.3 L477.5,60.3 L481.0,60.3 L484.7,60.1 L488.4,59.6 L491.8,58.7 L495.0,57.2 L498.2,55.1 L501.4,52.8 L504.4,50.3 L507.3,48.0 L510.0,46.0 L512.5,44.4 L514.9,42.9 L517.1,41.5 L519.2,40.2 L521.1,39.0 L522.7,37.8 L524.0,36.6 L524.9,35.5 L525.7,34.4 L526.4,33.4 L527.2,32.4 L528.2,31.4 L529.6,30.4 L531.1,29.4 L532.8,28.4 L534.4,27.5 L536.0,26.7 L537.3,26.0 L538.5,25.5 L539.6,25.0 L540.6,24.7 L541.4,24.5 L542.2,24.3 L542.7,24.1" fill="none" stroke="#4a6ab8" stroke-width="1.5" stroke-linejoin="round" stroke-linecap="round"/>
<path d="M463.6,78.3 L463.9,76.6 L464.1,74.0 L464.4,71.1 L465.1,68.1 L466.3,65.5 L468.2,63.6 L471.1,62.6 L474.9,62.2 L479.1,62.1 L483.6,62.1 L488.0,61.8 L491.8,61.0 L495.1,59.6 L498.3,57.7 L501.2,55.6 L504.1,53.4 L507.0,51.1 L510.0,49.0 L513.1,46.9 L516.2,44.7 L519.3,42.5 L522.4,40.3 L525.4,38.3 L528.2,36.4 L531.0,34.7 L533.8,33.0 L536.6,31.5 L539.1,30.2 L541.2,29.0 L542.7,28.2" fill="none" stroke="#58b060" stroke-width="1.1" stroke-linejoin="round" stroke-linecap="round"/>
<path d="M463.6,78.3 L463.8,77.5 L464.1,76.4 L464.4,75.0 L464.8,73.7 L465.4,72.6 L466.0,72.0 L466.8,71.9 L467.8,72.1 L468.8,72.6 L469.9,73.1 L471.0,73.7 L472.0,74.0 L472.8,74.2 L473.5,74.3 L474.2,74.4 L475.0,74.4 L476.0,74.5 L477.3,74.5 L479.0,74.6 L481.1,74.7 L483.3,74.8 L485.6,74.8 L487.9,74.7 L490.0,74.2 L492.0,73.4 L494.0,72.2 L496.0,70.8 L497.9,69.3 L499.5,68.0 L500.9,67.0 L501.8,66.4 L502.1,66.2 L502.2,66.0 L502.5,65.8 L503.1,65.2 L504.5,64.0 L506.7,62.1 L509.4,59.6 L512.6,56.8 L516.0,53.9 L519.4,51.0 L522.7,48.5 L526.2,46.1 L530.0,43.8 L533.8,41.5 L537.4,39.4 L540.5,37.7 L542.7,36.4" fill="none" stroke="#ff8050" stroke-width="1.3" stroke-linejoin="round" stroke-linecap="round"/>
<path d="M463.6,78.3 L463.8,77.5 L464.1,76.4 L464.4,75.0 L464.8,73.7 L465.4,72.6 L466.0,72.0 L466.8,71.9 L467.8,72.1 L468.8,72.6 L469.9,73.1 L471.0,73.7 L472.0,74.0 L472.8,74.2 L473.5,74.3 L474.2,74.4 L475.0,74.4 L476.0,74.5 L477.3,74.5 L479.0,74.6 L481.1,74.8 L483.3,74.9 L485.6,75.0 L487.9,74.9 L490.0,74.5 L492.0,73.7 L494.0,72.7 L496.0,71.4 L497.9,70.1 L499.5,68.9 L500.9,68.0 L501.8,67.5 L502.1,67.3 L502.2,67.2 L502.5,67.1 L503.1,66.6 L504.5,65.5 L506.7,63.7 L509.4,61.4 L512.6,58.7 L516.0,55.9 L519.4,53.2 L522.7,51.0 L526.2,49.1 L530.0,47.2 L533.8,45.5 L537.4,44.0 L540.5,42.7 L542.7,41.8" fill="none" stroke="#c040b0" stroke-width="1.1" stroke-linejoin="round" stroke-linecap="round"/>
<path d="M463.6,78.3 L463.8,77.5 L464.1,76.3 L464.4,75.0 L464.8,73.7 L465.4,72.6 L466.0,72.0 L466.8,71.9 L467.8,72.3 L468.8,72.8 L469.9,73.5 L471.0,74.1 L472.0,74.5 L472.8,74.7 L473.5,74.8 L474.2,74.9 L475.0,74.9 L476.0,75.0 L477.3,75.0 L479.0,75.1 L481.1,75.3 L483.3,75.4 L485.6,75.5 L487.9,75.4 L490.0,75.0 L492.0,74.3 L494.0,73.3 L496.0,72.1 L497.9,70.9 L499.5,69.8 L500.9,69.0 L501.8,68.6 L502.1,68.5 L502.2,68.5 L502.5,68.4 L503.1,68.0 L504.5,67.0 L506.7,65.4 L509.4,63.1 L512.6,60.6 L516.0,58.0 L519.4,55.6 L522.7,53.5 L526.2,51.8 L530.0,50.1 L533.8,48.7 L537.4,47.4 L540.5,46.3 L542.7,45.5" fill="none" stroke="#40c8e0" stroke-width="1.1" stroke-linejoin="round" stroke-linecap="round"/>
<path d="M463.6,78.3 L463.8,77.6 L464.1,76.5 L464.4,75.2 L464.8,74.0 L465.4,73.1 L466.0,72.5 L466.8,72.5 L467.8,72.8 L468.8,73.4 L469.9,74.0 L471.0,74.6 L472.0,75.0 L472.8,75.2 L473.3,75.4 L473.9,75.6 L474.6,75.7 L475.7,75.6 L477.3,75.5 L479.6,75.3 L482.5,75.0 L485.8,74.6 L489.2,74.0 L492.5,73.4 L495.5,72.5 L498.2,71.4 L500.7,70.0 L503.1,68.5 L505.4,66.9 L507.7,65.4 L510.0,64.0 L512.1,62.7 L514.1,61.6 L516.0,60.4 L518.0,59.3 L520.2,58.1 L522.7,57.0 L525.8,55.8 L529.6,54.4 L533.5,53.1 L537.2,51.8 L540.4,50.8 L542.7,50.0" fill="none" stroke="#f05040" stroke-width="1.6" stroke-linejoin="round" stroke-linecap="round"/>
<line x1="372.4" y1="128.5" x2="388.2" y2="128.5" stroke="#ff8050" stroke-width="3.0" stroke-dasharray="3.6,0.7"/>
<text x="390" y="131.2" font-family="Liberation Serif" font-size="8" font-weight="normal" font-style="normal" text-anchor="start" fill="#444" textLength="124" lengthAdjust="spacingAndGlyphs" stroke="#444" stroke-width="0.12">Tumor cell+T cell+HER2-CD3-Fc 1:2500</text>
<line x1="372.4" y1="137.4" x2="388.2" y2="137.4" stroke="#b030a8" stroke-width="3.0" stroke-dasharray="3.6,0.7"/>
<text x="390" y="140.1" font-family="Liberation Serif" font-size="8" font-weight="normal" font-style="normal" text-anchor="start" fill="#444" textLength="120" lengthAdjust="spacingAndGlyphs" stroke="#444" stroke-width="0.12">Tumor cell+T cell+HER2-CD3-Fc 1:500</text>
<line x1="372.4" y1="146.3" x2="388.2" y2="146.3" stroke="#40c8e0" stroke-width="3.0" stroke-dasharray="3.6,0.7"/>
<text x="390" y="149.0" font-family="Liberation Serif" font-size="8" font-weight="normal" font-style="normal" text-anchor="start" fill="#444" textLength="120" lengthAdjust="spacingAndGlyphs" stroke="#444" stroke-width="0.12">Tumor cell+T cell+HER2-CD3-Fc 1:100</text>
<line x1="32.4" y1="204.5" x2="32.4" y2="304.2" stroke="#444" stroke-width="0.8"/>
<line x1="29.9" y1="304.1" x2="32.4" y2="304.1" stroke="#444" stroke-width="0.6"/>
<text x="29.4" y="305.6" font-family="Liberation Sans" font-size="4.3" font-weight="bold" font-style="normal" text-anchor="end" fill="#3a3a3a">0</text>
<line x1="29.9" y1="287.6" x2="32.4" y2="287.6" stroke="#444" stroke-width="0.6"/>
<text x="29.4" y="289.1" font-family="Liberation Sans" font-size="4.3" font-weight="bold" font-style="normal" text-anchor="end" fill="#3a3a3a">1000</text>
<line x1="29.9" y1="271.1" x2="32.4" y2="271.1" stroke="#444" stroke-width="0.6"/>
<text x="29.4" y="272.6" font-family="Liberation Sans" font-size="4.3" font-weight="bold" font-style="normal" text-anchor="end" fill="#3a3a3a">2000</text>
<line x1="29.9" y1="254.60000000000002" x2="32.4" y2="254.60000000000002" stroke="#444" stroke-width="0.6"/>
<text x="29.4" y="256.1" font-family="Liberation Sans" font-size="4.3" font-weight="bold" font-style="normal" text-anchor="end" fill="#3a3a3a">3000</text>
<line x1="29.9" y1="238.10000000000002" x2="32.4" y2="238.10000000000002" stroke="#444" stroke-width="0.6"/>
<text x="29.4" y="239.60000000000002" font-family="Liberation Sans" font-size="4.3" font-weight="bold" font-style="normal" text-anchor="end" fill="#3a3a3a">4000</text>
<line x1="29.9" y1="221.60000000000002" x2="32.4" y2="221.60000000000002" stroke="#444" stroke-width="0.6"/>
<text x="29.4" y="223.10000000000002" font-family="Liberation Sans" font-size="4.3" font-weight="bold" font-style="normal" text-anchor="end" fill="#3a3a3a">5000</text>
<line x1="29.9" y1="205.10000000000002" x2="32.4" y2="205.10000000000002" stroke="#444" stroke-width="0.6"/>
<text x="29.4" y="206.60000000000002" font-family="Liberation Sans" font-size="4.3" font-weight="bold" font-style="normal" text-anchor="end" fill="#3a3a3a">6000</text>
<line x1="29.5" y1="304.2" x2="167.3" y2="304.2" stroke="#444" stroke-width="0.9"/>
<text x="15.5" y="255" font-family="Liberation Serif" font-size="9.5" font-weight="bold" font-style="normal" text-anchor="middle" fill="#111" textLength="59" lengthAdjust="spacingAndGlyphs" transform="rotate(-90 15.5 255)" stroke="#111" stroke-width="0.15">IFN-λ (pg/ml)</text>
<line x1="70.0" y1="300" x2="70.0" y2="302.7" stroke="#2a3a8f" stroke-width="0.7"/>
<line x1="67.5" y1="300" x2="72.5" y2="300" stroke="#2a3a8f" stroke-width="0.8"/>
<rect x="66.4" y="302.7" width="7.199999999999989" height="1.5" fill="#2a3a8f"/>
<line x1="79.8" y1="294" x2="79.8" y2="297" stroke="#2ac8d8" stroke-width="0.7"/>
<line x1="77.3" y1="294" x2="82.3" y2="294" stroke="#2ac8d8" stroke-width="0.8"/>
<rect x="76" y="297" width="7.599999999999994" height="7.199999999999989" fill="#2ac8d8"/>
<line x1="90.0" y1="225" x2="90.0" y2="238.2" stroke="#b8329f" stroke-width="0.7"/>
<line x1="87.5" y1="225" x2="92.5" y2="225" stroke="#b8329f" stroke-width="0.8"/>
<rect x="86.4" y="238.2" width="7.199999999999989" height="66.0" fill="#b8329f"/>
<line x1="140.3" y1="299.5" x2="140.3" y2="301.3" stroke="#2a3a8f" stroke-width="0.7"/>
<line x1="137.8" y1="299.5" x2="142.8" y2="299.5" stroke="#2a3a8f" stroke-width="0.8"/>
<rect x="136.4" y="301.3" width="7.799999999999983" height="2.8999999999999773" fill="#2a3a8f"/>
<line x1="150.0" y1="299.8" x2="150.0" y2="301.3" stroke="#2ac8d8" stroke-width="0.7"/>
<line x1="147.5" y1="299.8" x2="152.5" y2="299.8" stroke="#2ac8d8" stroke-width="0.8"/>
<rect x="146" y="301.3" width="8" height="2.8999999999999773" fill="#2ac8d8"/>
<line x1="159.7" y1="298" x2="159.7" y2="299.5" stroke="#b8329f" stroke-width="0.7"/>
<line x1="157.2" y1="298" x2="162.2" y2="298" stroke="#b8329f" stroke-width="0.8"/>
<rect x="155.8" y="299.5" width="7.799999999999983" height="4.699999999999989" fill="#b8329f"/>
<line x1="92.2" y1="174.2" x2="160.5" y2="174.2" stroke="#6a6a6a" stroke-width="0.9"/>
<circle cx="121.40" cy="171.30" r="1.25" fill="#333"/>
<circle cx="124.70" cy="171.30" r="1.25" fill="#333"/>
<circle cx="128.00" cy="171.30" r="1.25" fill="#333"/>
<circle cx="131.30" cy="171.30" r="1.25" fill="#333"/>
<line x1="81.8" y1="184" x2="150" y2="184" stroke="#6a6a6a" stroke-width="0.9"/>
<circle cx="115.90" cy="181.10" r="1.25" fill="#333"/>
<line x1="70.5" y1="193.5" x2="140.9" y2="193.5" stroke="#6a6a6a" stroke-width="0.9"/>
<text x="105.7" y="191.9" font-family="Liberation Sans" font-size="7.4" font-weight="normal" font-style="normal" text-anchor="middle" fill="#333" textLength="10.5" lengthAdjust="spacingAndGlyphs" stroke="#333" stroke-width="0.15">N.S.</text>
<line x1="49" y1="203.2" x2="120" y2="203.2" stroke="#6a6a6a" stroke-width="0.9"/>
<text x="84.5" y="201.6" font-family="Liberation Sans" font-size="7.4" font-weight="normal" font-style="normal" text-anchor="middle" fill="#333" textLength="10.5" lengthAdjust="spacingAndGlyphs" stroke="#333" stroke-width="0.15">N.S.</text>
<line x1="49" y1="212.4" x2="89.5" y2="212.4" stroke="#6a6a6a" stroke-width="0.9"/>
<circle cx="64.30" cy="209.50" r="1.25" fill="#333"/>
<circle cx="67.60" cy="209.50" r="1.25" fill="#333"/>
<circle cx="70.90" cy="209.50" r="1.25" fill="#333"/>
<circle cx="74.20" cy="209.50" r="1.25" fill="#333"/>
<line x1="49" y1="222.2" x2="79.6" y2="222.2" stroke="#6a6a6a" stroke-width="0.9"/>
<circle cx="62.65" cy="219.30" r="1.25" fill="#333"/>
<circle cx="65.95" cy="219.30" r="1.25" fill="#333"/>
<line x1="49" y1="231.3" x2="70" y2="231.3" stroke="#6a6a6a" stroke-width="0.9"/>
<text x="59.5" y="229.70000000000002" font-family="Liberation Sans" font-size="7.4" font-weight="normal" font-style="normal" text-anchor="middle" fill="#333" textLength="10.5" lengthAdjust="spacingAndGlyphs" stroke="#333" stroke-width="0.15">N.S.</text>
<line x1="120" y1="212.6" x2="160.5" y2="212.6" stroke="#6a6a6a" stroke-width="0.9"/>
<text x="140.25" y="211.0" font-family="Liberation Sans" font-size="7.4" font-weight="normal" font-style="normal" text-anchor="middle" fill="#333" textLength="10.5" lengthAdjust="spacingAndGlyphs" stroke="#333" stroke-width="0.15">N.S.</text>
<line x1="120" y1="222.2" x2="150.4" y2="222.2" stroke="#6a6a6a" stroke-width="0.9"/>
<text x="135.2" y="220.6" font-family="Liberation Sans" font-size="7.4" font-weight="normal" font-style="normal" text-anchor="middle" fill="#333" textLength="10.5" lengthAdjust="spacingAndGlyphs" stroke="#333" stroke-width="0.15">N.S.</text>
<line x1="120" y1="231.3" x2="141" y2="231.3" stroke="#6a6a6a" stroke-width="0.9"/>
<text x="130.5" y="229.70000000000002" font-family="Liberation Sans" font-size="7.4" font-weight="normal" font-style="normal" text-anchor="middle" fill="#333" textLength="10.5" lengthAdjust="spacingAndGlyphs" stroke="#333" stroke-width="0.15">N.S.</text>
<text x="62.7" y="314.5" font-family="Liberation Serif" font-size="11" font-weight="normal" font-style="normal" text-anchor="middle" fill="#222" textLength="21" lengthAdjust="spacingAndGlyphs" stroke="#222" stroke-width="0.18">A549</text>
<text x="112.7" y="314.5" font-family="Liberation Serif" font-size="10.5" font-weight="normal" font-style="normal" text-anchor="start" fill="#222" textLength="48.5" lengthAdjust="spacingAndGlyphs" stroke="#222" stroke-width="0.12">A549-<tspan font-style="italic">her2</tspan><tspan font-size="5.5" dy="-4">-/-</tspan></text>
<rect x="14.5" y="321.8" width="9" height="6.1" fill="#000"/>
<text x="26.0" y="327.70000000000005" font-family="Liberation Serif" font-size="8" font-weight="normal" font-style="normal" text-anchor="start" fill="#333" textLength="33" lengthAdjust="spacingAndGlyphs" stroke="#333" stroke-width="0.15">Tumor cell</text>
<rect x="14.5" y="332.4" width="9" height="6.1" fill="#ff1a1a"/>
<text x="26.0" y="338.3" font-family="Liberation Serif" font-size="8" font-weight="normal" font-style="normal" text-anchor="start" fill="#333" textLength="54" lengthAdjust="spacingAndGlyphs" stroke="#333" stroke-width="0.15">Tumor cell+T cell</text>
<rect x="81.8" y="321.8" width="9" height="6.1" fill="#808080"/>
<text x="93.3" y="327.70000000000005" font-family="Liberation Serif" font-size="8" font-weight="normal" font-style="normal" text-anchor="start" fill="#333" textLength="108" lengthAdjust="spacingAndGlyphs" stroke="#333" stroke-width="0.15">Tumor cell+HER2-CD3-Fc Ab 1:100</text>
<rect x="81.8" y="332.4" width="9" height="6.1" fill="#2ac8d8"/>
<text x="93.3" y="338.3" font-family="Liberation Serif" font-size="8" font-weight="normal" font-style="normal" text-anchor="start" fill="#333" textLength="129" lengthAdjust="spacingAndGlyphs" stroke="#333" stroke-width="0.15">Tumor cell+T cell+HER2-CD3-Fc Ab 1:500</text>
<rect x="225.6" y="321.8" width="9" height="6.1" fill="#3a4fa8"/>
<text x="237.1" y="327.70000000000005" font-family="Liberation Serif" font-size="8" font-weight="normal" font-style="normal" text-anchor="start" fill="#333" textLength="133" lengthAdjust="spacingAndGlyphs" stroke="#333" stroke-width="0.15">Tumor cell+T cell+HER2-CD3-Fc Ab 1:2500</text>
<rect x="225.6" y="332.4" width="9" height="6.1" fill="#b8329f"/>
<text x="237.1" y="338.3" font-family="Liberation Serif" font-size="8" font-weight="normal" font-style="normal" text-anchor="start" fill="#333" textLength="129" lengthAdjust="spacingAndGlyphs" stroke="#333" stroke-width="0.15">Tumor cell+T cell+HER2-CD3-Fc Ab 1:100</text>
<line x1="224.8" y1="204.5" x2="224.8" y2="303.8" stroke="#444" stroke-width="0.8"/>
<line x1="222.3" y1="303.6" x2="224.8" y2="303.6" stroke="#444" stroke-width="0.6"/>
<text x="221.8" y="305.1" font-family="Liberation Sans" font-size="4.3" font-weight="bold" font-style="normal" text-anchor="end" fill="#3a3a3a">0</text>
<line x1="222.3" y1="283.8" x2="224.8" y2="283.8" stroke="#444" stroke-width="0.6"/>
<text x="221.8" y="285.3" font-family="Liberation Sans" font-size="4.3" font-weight="bold" font-style="normal" text-anchor="end" fill="#3a3a3a">10000</text>
<line x1="222.3" y1="264.0" x2="224.8" y2="264.0" stroke="#444" stroke-width="0.6"/>
<text x="221.8" y="265.5" font-family="Liberation Sans" font-size="4.3" font-weight="bold" font-style="normal" text-anchor="end" fill="#3a3a3a">20000</text>
<line x1="222.3" y1="244.20000000000002" x2="224.8" y2="244.20000000000002" stroke="#444" stroke-width="0.6"/>
<text x="221.8" y="245.70000000000002" font-family="Liberation Sans" font-size="4.3" font-weight="bold" font-style="normal" text-anchor="end" fill="#3a3a3a">30000</text>
<line x1="222.3" y1="224.40000000000003" x2="224.8" y2="224.40000000000003" stroke="#444" stroke-width="0.6"/>
<text x="221.8" y="225.90000000000003" font-family="Liberation Sans" font-size="4.3" font-weight="bold" font-style="normal" text-anchor="end" fill="#3a3a3a">40000</text>
<line x1="222.3" y1="204.60000000000002" x2="224.8" y2="204.60000000000002" stroke="#444" stroke-width="0.6"/>
<text x="221.8" y="206.10000000000002" font-family="Liberation Sans" font-size="4.3" font-weight="bold" font-style="normal" text-anchor="end" fill="#3a3a3a">50000</text>
<line x1="222" y1="303.8" x2="358.2" y2="303.8" stroke="#444" stroke-width="0.9"/>
<text x="207.5" y="251" font-family="Liberation Serif" font-size="9.5" font-weight="bold" font-style="normal" text-anchor="middle" fill="#111" textLength="85" lengthAdjust="spacingAndGlyphs" transform="rotate(-90 207.5 251)" stroke="#111" stroke-width="0.15">Granzyme B (pg/ml)</text>
<line x1="242.0" y1="281.3" x2="242.0" y2="285.5" stroke="#ff1a1a" stroke-width="0.7"/>
<line x1="239.5" y1="281.3" x2="244.5" y2="281.3" stroke="#ff1a1a" stroke-width="0.8"/>
<rect x="238.2" y="285.5" width="7.600000000000023" height="18.30000000000001" fill="#ff1a1a"/>
<line x1="262.7" y1="276.7" x2="262.7" y2="282.2" stroke="#3a4fa8" stroke-width="0.7"/>
<line x1="260.2" y1="276.7" x2="265.2" y2="276.7" stroke="#3a4fa8" stroke-width="0.8"/>
<rect x="259" y="282.2" width="7.399999999999977" height="21.600000000000023" fill="#3a4fa8"/>
<line x1="272.5" y1="224.5" x2="272.5" y2="242.7" stroke="#2ac8d8" stroke-width="0.7"/>
<line x1="270.0" y1="224.5" x2="275.0" y2="224.5" stroke="#2ac8d8" stroke-width="0.8"/>
<rect x="269" y="242.7" width="7" height="61.10000000000002" fill="#2ac8d8"/>
<line x1="282.7" y1="214.5" x2="282.7" y2="218.5" stroke="#b8329f" stroke-width="0.7"/>
<line x1="280.2" y1="214.5" x2="285.2" y2="214.5" stroke="#b8329f" stroke-width="0.8"/>
<rect x="279" y="218.5" width="7.399999999999977" height="85.30000000000001" fill="#b8329f"/>
<line x1="313.15" y1="294" x2="313.15" y2="296.4" stroke="#ff1a1a" stroke-width="0.7"/>
<line x1="310.65" y1="294" x2="315.65" y2="294" stroke="#ff1a1a" stroke-width="0.8"/>
<rect x="309" y="296.4" width="8.300000000000011" height="7.400000000000034" fill="#ff1a1a"/>
<line x1="333.15" y1="295" x2="333.15" y2="297.3" stroke="#3a4fa8" stroke-width="0.7"/>
<line x1="330.65" y1="295" x2="335.65" y2="295" stroke="#3a4fa8" stroke-width="0.8"/>
<rect x="329" y="297.3" width="8.300000000000011" height="6.5" fill="#3a4fa8"/>
<line x1="343.15" y1="291" x2="343.15" y2="292.2" stroke="#2ac8d8" stroke-width="0.7"/>
<line x1="340.65" y1="291" x2="345.65" y2="291" stroke="#2ac8d8" stroke-width="0.8"/>
<rect x="339" y="292.2" width="8.300000000000011" height="11.600000000000023" fill="#2ac8d8"/>
<line x1="353.15" y1="291.5" x2="353.15" y2="293" stroke="#b8329f" stroke-width="0.7"/>
<line x1="350.65" y1="291.5" x2="355.65" y2="291.5" stroke="#b8329f" stroke-width="0.8"/>
<rect x="349" y="293" width="8.300000000000011" height="10.800000000000011" fill="#b8329f"/>
<line x1="285.5" y1="174.2" x2="354" y2="174.2" stroke="#6a6a6a" stroke-width="0.9"/>
<circle cx="314.80" cy="171.30" r="1.25" fill="#333"/>
<circle cx="318.10" cy="171.30" r="1.25" fill="#333"/>
<circle cx="321.40" cy="171.30" r="1.25" fill="#333"/>
<circle cx="324.70" cy="171.30" r="1.25" fill="#333"/>
<line x1="275" y1="184" x2="343.6" y2="184" stroke="#6a6a6a" stroke-width="0.9"/>
<circle cx="304.35" cy="181.10" r="1.25" fill="#333"/>
<circle cx="307.65" cy="181.10" r="1.25" fill="#333"/>
<circle cx="310.95" cy="181.10" r="1.25" fill="#333"/>
<circle cx="314.25" cy="181.10" r="1.25" fill="#333"/>
<line x1="263.6" y1="193.3" x2="334" y2="193.3" stroke="#6a6a6a" stroke-width="0.9"/>
<circle cx="298.80" cy="190.40" r="1.25" fill="#333"/>
<line x1="242.7" y1="203.1" x2="313.3" y2="203.1" stroke="#6a6a6a" stroke-width="0.9"/>
<text x="278.0" y="201.5" font-family="Liberation Sans" font-size="7.4" font-weight="normal" font-style="normal" text-anchor="middle" fill="#333" textLength="10.5" lengthAdjust="spacingAndGlyphs" stroke="#333" stroke-width="0.15">N.S.</text>
<line x1="242.7" y1="212.7" x2="282.4" y2="212.7" stroke="#6a6a6a" stroke-width="0.9"/>
<circle cx="257.60" cy="209.80" r="1.25" fill="#333"/>
<circle cx="260.90" cy="209.80" r="1.25" fill="#333"/>
<circle cx="264.20" cy="209.80" r="1.25" fill="#333"/>
<circle cx="267.50" cy="209.80" r="1.25" fill="#333"/>
<line x1="242.7" y1="222.2" x2="272.4" y2="222.2" stroke="#6a6a6a" stroke-width="0.9"/>
<circle cx="252.60" cy="219.30" r="1.25" fill="#333"/>
<circle cx="255.90" cy="219.30" r="1.25" fill="#333"/>
<circle cx="259.20" cy="219.30" r="1.25" fill="#333"/>
<circle cx="262.50" cy="219.30" r="1.25" fill="#333"/>
<line x1="242.7" y1="231.3" x2="262.7" y2="231.3" stroke="#6a6a6a" stroke-width="0.9"/>
<text x="252.7" y="229.70000000000002" font-family="Liberation Sans" font-size="7.4" font-weight="normal" font-style="normal" text-anchor="middle" fill="#333" textLength="10.5" lengthAdjust="spacingAndGlyphs" stroke="#333" stroke-width="0.15">N.S.</text>
<line x1="313.3" y1="212.7" x2="353.6" y2="212.7" stroke="#6a6a6a" stroke-width="0.9"/>
<text x="333.45000000000005" y="211.1" font-family="Liberation Sans" font-size="7.4" font-weight="normal" font-style="normal" text-anchor="middle" fill="#333" textLength="10.5" lengthAdjust="spacingAndGlyphs" stroke="#333" stroke-width="0.15">N.S.</text>
<line x1="313.3" y1="222.2" x2="343.6" y2="222.2" stroke="#6a6a6a" stroke-width="0.9"/>
<text x="328.45000000000005" y="220.6" font-family="Liberation Sans" font-size="7.4" font-weight="normal" font-style="normal" text-anchor="middle" fill="#333" textLength="10.5" lengthAdjust="spacingAndGlyphs" stroke="#333" stroke-width="0.15">N.S.</text>
<line x1="313.3" y1="231.3" x2="334" y2="231.3" stroke="#6a6a6a" stroke-width="0.9"/>
<text x="323.65" y="229.70000000000002" font-family="Liberation Sans" font-size="7.4" font-weight="normal" font-style="normal" text-anchor="middle" fill="#333" textLength="10.5" lengthAdjust="spacingAndGlyphs" stroke="#333" stroke-width="0.15">N.S.</text>
<text x="255.5" y="314.5" font-family="Liberation Serif" font-size="11" font-weight="normal" font-style="normal" text-anchor="middle" fill="#222" textLength="21" lengthAdjust="spacingAndGlyphs" stroke="#222" stroke-width="0.18">A549</text>
<text x="305.3" y="314.5" font-family="Liberation Serif" font-size="10.5" font-weight="normal" font-style="normal" text-anchor="start" fill="#222" textLength="48.7" lengthAdjust="spacingAndGlyphs" stroke="#222" stroke-width="0.12">A549-<tspan font-style="italic">her2</tspan><tspan font-size="5.5" dy="-4">-/-</tspan></text>
<text x="409" y="209" font-family="Liberation Serif" font-size="11" font-weight="normal" font-style="normal" text-anchor="start" fill="#222" textLength="49.2" lengthAdjust="spacingAndGlyphs" stroke="#222" stroke-width="0.18">HER2-ECD</text>
<text x="461.8" y="247.3" font-family="Liberation Serif" font-size="11" font-weight="normal" font-style="normal" text-anchor="start" fill="#222" textLength="62.7" lengthAdjust="spacingAndGlyphs" stroke="#222" stroke-width="0.18">HER2-ECD-IV</text>
<circle cx="390.4" cy="286.4" r="2.9" fill="#22c040"/>
<circle cx="390.4" cy="296.8" r="2.9" fill="#22c040"/>
<ellipse cx="390.4" cy="291.6" rx="1.6" ry="2.2" fill="none" stroke="#3cc85a" stroke-width="0.9"/>
<circle cx="396.3" cy="286.4" r="2.9" fill="#22c040"/>
<circle cx="396.3" cy="296.8" r="2.9" fill="#22c040"/>
<ellipse cx="396.3" cy="291.6" rx="1.6" ry="2.2" fill="none" stroke="#3cc85a" stroke-width="0.9"/>
<circle cx="402.2" cy="286.4" r="2.9" fill="#22c040"/>
<circle cx="402.2" cy="296.8" r="2.9" fill="#22c040"/>
<ellipse cx="402.2" cy="291.6" rx="1.6" ry="2.2" fill="none" stroke="#3cc85a" stroke-width="0.9"/>
<circle cx="408.1" cy="286.4" r="2.9" fill="#22c040"/>
<circle cx="408.1" cy="296.8" r="2.9" fill="#22c040"/>
<ellipse cx="408.1" cy="291.6" rx="1.6" ry="2.2" fill="none" stroke="#3cc85a" stroke-width="0.9"/>
<circle cx="414.0" cy="286.4" r="2.9" fill="#22c040"/>
<circle cx="414.0" cy="296.8" r="2.9" fill="#22c040"/>
<ellipse cx="414.0" cy="291.6" rx="1.6" ry="2.2" fill="none" stroke="#3cc85a" stroke-width="0.9"/>
<circle cx="419.9" cy="286.4" r="2.9" fill="#22c040"/>
<circle cx="419.9" cy="296.8" r="2.9" fill="#22c040"/>
<ellipse cx="419.9" cy="291.6" rx="1.6" ry="2.2" fill="none" stroke="#3cc85a" stroke-width="0.9"/>
<circle cx="425.7" cy="286.4" r="2.9" fill="#22c040"/>
<circle cx="425.7" cy="296.8" r="2.9" fill="#22c040"/>
<ellipse cx="425.7" cy="291.6" rx="1.6" ry="2.2" fill="none" stroke="#3cc85a" stroke-width="0.9"/>
<circle cx="431.6" cy="286.4" r="2.9" fill="#22c040"/>
<circle cx="431.6" cy="296.8" r="2.9" fill="#22c040"/>
<ellipse cx="431.6" cy="291.6" rx="1.6" ry="2.2" fill="none" stroke="#3cc85a" stroke-width="0.9"/>
<circle cx="437.5" cy="286.4" r="2.9" fill="#22c040"/>
<circle cx="437.5" cy="296.8" r="2.9" fill="#22c040"/>
<ellipse cx="437.5" cy="291.6" rx="1.6" ry="2.2" fill="none" stroke="#3cc85a" stroke-width="0.9"/>
<circle cx="443.4" cy="286.4" r="2.9" fill="#22c040"/>
<circle cx="443.4" cy="296.8" r="2.9" fill="#22c040"/>
<ellipse cx="443.4" cy="291.6" rx="1.6" ry="2.2" fill="none" stroke="#3cc85a" stroke-width="0.9"/>
<circle cx="449.3" cy="286.4" r="2.9" fill="#22c040"/>
<circle cx="449.3" cy="296.8" r="2.9" fill="#22c040"/>
<ellipse cx="449.3" cy="291.6" rx="1.6" ry="2.2" fill="none" stroke="#3cc85a" stroke-width="0.9"/>
<circle cx="455.2" cy="286.4" r="2.9" fill="#22c040"/>
<circle cx="455.2" cy="296.8" r="2.9" fill="#22c040"/>
<ellipse cx="455.2" cy="291.6" rx="1.6" ry="2.2" fill="none" stroke="#3cc85a" stroke-width="0.9"/>
<circle cx="461.1" cy="286.4" r="2.9" fill="#22c040"/>
<circle cx="461.1" cy="296.8" r="2.9" fill="#22c040"/>
<ellipse cx="461.1" cy="291.6" rx="1.6" ry="2.2" fill="none" stroke="#3cc85a" stroke-width="0.9"/>
<circle cx="467.0" cy="286.4" r="2.9" fill="#22c040"/>
<circle cx="467.0" cy="296.8" r="2.9" fill="#22c040"/>
<ellipse cx="467.0" cy="291.6" rx="1.6" ry="2.2" fill="none" stroke="#3cc85a" stroke-width="0.9"/>
<circle cx="472.9" cy="286.4" r="2.9" fill="#22c040"/>
<circle cx="472.9" cy="296.8" r="2.9" fill="#22c040"/>
<ellipse cx="472.9" cy="291.6" rx="1.6" ry="2.2" fill="none" stroke="#3cc85a" stroke-width="0.9"/>
<circle cx="478.8" cy="286.4" r="2.9" fill="#22c040"/>
<circle cx="478.8" cy="296.8" r="2.9" fill="#22c040"/>
<ellipse cx="478.8" cy="291.6" rx="1.6" ry="2.2" fill="none" stroke="#3cc85a" stroke-width="0.9"/>
<circle cx="484.7" cy="286.4" r="2.9" fill="#22c040"/>
<circle cx="484.7" cy="296.8" r="2.9" fill="#22c040"/>
<ellipse cx="484.7" cy="291.6" rx="1.6" ry="2.2" fill="none" stroke="#3cc85a" stroke-width="0.9"/>
<circle cx="490.5" cy="286.4" r="2.9" fill="#22c040"/>
<circle cx="490.5" cy="296.8" r="2.9" fill="#22c040"/>
<ellipse cx="490.5" cy="291.6" rx="1.6" ry="2.2" fill="none" stroke="#3cc85a" stroke-width="0.9"/>
<circle cx="496.4" cy="286.4" r="2.9" fill="#22c040"/>
<circle cx="496.4" cy="296.8" r="2.9" fill="#22c040"/>
<ellipse cx="496.4" cy="291.6" rx="1.6" ry="2.2" fill="none" stroke="#3cc85a" stroke-width="0.9"/>
<circle cx="502.3" cy="286.4" r="2.9" fill="#22c040"/>
<circle cx="502.3" cy="296.8" r="2.9" fill="#22c040"/>
<ellipse cx="502.3" cy="291.6" rx="1.6" ry="2.2" fill="none" stroke="#3cc85a" stroke-width="0.9"/>
<circle cx="508.2" cy="286.4" r="2.9" fill="#22c040"/>
<circle cx="508.2" cy="296.8" r="2.9" fill="#22c040"/>
<ellipse cx="508.2" cy="291.6" rx="1.6" ry="2.2" fill="none" stroke="#3cc85a" stroke-width="0.9"/>
<circle cx="514.1" cy="286.4" r="2.9" fill="#22c040"/>
<circle cx="514.1" cy="296.8" r="2.9" fill="#22c040"/>
<ellipse cx="514.1" cy="291.6" rx="1.6" ry="2.2" fill="none" stroke="#3cc85a" stroke-width="0.9"/>
<circle cx="520.0" cy="286.4" r="2.9" fill="#22c040"/>
<circle cx="520.0" cy="296.8" r="2.9" fill="#22c040"/>
<ellipse cx="520.0" cy="291.6" rx="1.6" ry="2.2" fill="none" stroke="#3cc85a" stroke-width="0.9"/>
<circle cx="525.9" cy="286.4" r="2.9" fill="#22c040"/>
<circle cx="525.9" cy="296.8" r="2.9" fill="#22c040"/>
<ellipse cx="525.9" cy="291.6" rx="1.6" ry="2.2" fill="none" stroke="#3cc85a" stroke-width="0.9"/>
<circle cx="531.8" cy="286.4" r="2.9" fill="#22c040"/>
<circle cx="531.8" cy="296.8" r="2.9" fill="#22c040"/>
<ellipse cx="531.8" cy="291.6" rx="1.6" ry="2.2" fill="none" stroke="#3cc85a" stroke-width="0.9"/>
<path d="M433,220 C436,215 441,215 443,222" fill="none" stroke="#111" stroke-width="1.2"/>
<path d="M448,243 C449,247 447,248 445,248" fill="none" stroke="#111" stroke-width="1.2"/>
<path d="M415.5,245.5 C412,247 412.5,251 413.6,253.6 C414.5,256 416,257.5 418,259" fill="none" stroke="#111" stroke-width="1.2"/>
<ellipse cx="427" cy="228.5" rx="12.3" ry="6.6" transform="rotate(-57 427 228.5)" fill="#f07a20"/>
<ellipse cx="446" cy="233" rx="7.2" ry="11.5" transform="rotate(-14 446 233)" fill="#a8d818"/>
<ellipse cx="430.5" cy="247.3" rx="16.2" ry="4.6" transform="rotate(3 430.5 247.3)" fill="#3a8ede"/>
<ellipse cx="422" cy="266.4" rx="7.3" ry="11.3" transform="rotate(-27 422 266.4)" fill="#f06018"/>
<rect x="428" y="265.5" width="2.4" height="6.3" fill="#5a5ad8" transform="rotate(-15 429.2 268.6)"/>
<path d="M427.8,277.3 C431,280 434.5,283 433.6,285.5 C432.5,288 429,289 430,291 C431,293 433.5,293.5 432.7,295 C432,297 429,297 429,299.5" fill="none" stroke="#111" stroke-width="1.2"/>
<line x1="427.00" y1="225.25" x2="427.00" y2="231.75" stroke="#111" stroke-width="1.1" transform="rotate(33 427 228.5)"/>
<line x1="445.00" y1="229.75" x2="445.00" y2="236.25" stroke="#111" stroke-width="1.1" transform="rotate(12 446 233)"/>
<line x1="447.00" y1="229.75" x2="447.00" y2="236.25" stroke="#111" stroke-width="1.1" transform="rotate(12 446 233)"/>
<line x1="428.80" y1="243.80" x2="428.80" y2="250.80" stroke="#111" stroke-width="1.1" transform="rotate(92 430.5 247.3)"/>
<line x1="430.50" y1="243.80" x2="430.50" y2="250.80" stroke="#111" stroke-width="1.1" transform="rotate(92 430.5 247.3)"/>
<line x1="432.20" y1="243.80" x2="432.20" y2="250.80" stroke="#111" stroke-width="1.1" transform="rotate(92 430.5 247.3)"/>
<text x="422" y="268.9" font-family="Liberation Serif" font-size="8" font-weight="bold" font-style="normal" text-anchor="middle" fill="#111" textLength="7" lengthAdjust="spacingAndGlyphs" stroke="#111" stroke-width="0.15" transform="rotate(63 422 266.4)">IV</text>
<path d="M486.5,253 L489.5,258" fill="none" stroke="#111" stroke-width="1.2"/>
<ellipse cx="494.5" cy="266.4" rx="7.3" ry="11.3" transform="rotate(-27 494.5 266.4)" fill="#f06018"/>
<rect x="500.5" y="265.5" width="2.4" height="6.3" fill="#5a5ad8" transform="rotate(-15 501.7 268.6)"/>
<path d="M500.3,277.3 C503.5,280 507,283 506.1,285.5 C505,288 501.5,289 502.5,291 C503.5,293 506,293.5 505.2,295 C504.5,297 501.5,298 502,303" fill="none" stroke="#111" stroke-width="1.2"/>
<text x="494.5" y="268.9" font-family="Liberation Serif" font-size="8" font-weight="bold" font-style="normal" text-anchor="middle" fill="#111" textLength="7" lengthAdjust="spacingAndGlyphs" stroke="#111" stroke-width="0.15" transform="rotate(63 494.5 266.4)">IV</text>
<rect x="211.4" y="378.2" width="62.3" height="62.2" fill="none" stroke="#bdbdbd" stroke-width="0.8"/>
<rect x="275.8" y="378.2" width="61.8" height="62.2" fill="none" stroke="#bdbdbd" stroke-width="0.8"/>
<rect x="340.5" y="378.2" width="62.1" height="62.2" fill="none" stroke="#bdbdbd" stroke-width="0.8"/>
<rect x="404.5" y="378.2" width="63.1" height="62.2" fill="none" stroke="#bdbdbd" stroke-width="0.8"/>
<rect x="211.4" y="444.4" width="62.3" height="62.3" fill="none" stroke="#bdbdbd" stroke-width="0.8"/>
<rect x="275.8" y="444.4" width="61.8" height="62.3" fill="none" stroke="#bdbdbd" stroke-width="0.8"/>
<rect x="340.5" y="444.4" width="62.1" height="62.3" fill="none" stroke="#bdbdbd" stroke-width="0.8"/>
<rect x="404.5" y="444.4" width="63.1" height="62.3" fill="none" stroke="#bdbdbd" stroke-width="0.8"/>
<rect x="469.6" y="444.4" width="61.9" height="62.3" fill="none" stroke="#bdbdbd" stroke-width="0.8"/>
<text x="237.7" y="375.5" font-family="Liberation Serif" font-size="11" font-weight="normal" font-style="normal" text-anchor="middle" fill="#222" textLength="17" lengthAdjust="spacingAndGlyphs" stroke="#222" stroke-width="0.15">4T1</text>
<text x="275.5" y="375.5" font-family="Liberation Serif" font-size="11" font-weight="normal" font-style="normal" text-anchor="start" fill="#222" textLength="62.7" lengthAdjust="spacingAndGlyphs" stroke="#222" stroke-width="0.15">4T1-HER2-ECD</text>
<text x="347.4" y="363.6" font-family="Liberation Serif" font-size="11" font-weight="normal" font-style="normal" text-anchor="start" fill="#222" textLength="44.9" lengthAdjust="spacingAndGlyphs" stroke="#222" stroke-width="0.15">4T1-HER2-</text>
<text x="355" y="375.5" font-family="Liberation Serif" font-size="11" font-weight="normal" font-style="normal" text-anchor="start" fill="#222" textLength="29" lengthAdjust="spacingAndGlyphs" stroke="#222" stroke-width="0.15">ECD-IV</text>
<text x="416.7" y="375.5" font-family="Liberation Serif" font-size="11" font-weight="normal" font-style="normal" text-anchor="start" fill="#222" textLength="37.3" lengthAdjust="spacingAndGlyphs" stroke="#222" stroke-width="0.15">Human T</text>
<text x="484.2" y="375.5" font-family="Liberation Serif" font-size="11" font-weight="normal" font-style="normal" text-anchor="start" fill="#222" textLength="33.4" lengthAdjust="spacingAndGlyphs" stroke="#222" stroke-width="0.15">Mouse T</text>
<text x="207.7" y="409" font-family="Liberation Serif" font-size="8.5" font-weight="bold" font-style="normal" text-anchor="middle" fill="#111" textLength="54.6" lengthAdjust="spacingAndGlyphs" transform="rotate(-90 207.7 409)" stroke="#111" stroke-width="0.15">HER2-CD3-Fc</text>
<text x="207.7" y="476.4" font-family="Liberation Serif" font-size="8.5" font-weight="bold" font-style="normal" text-anchor="middle" fill="#111" textLength="61.8" lengthAdjust="spacingAndGlyphs" transform="rotate(-90 207.7 476.4)" stroke="#111" stroke-width="0.15">HER2-mCD3-Fc</text>
<path d="M212.0,440.0 L212.00,440.00 L212.38,440.00 L212.76,440.00 L213.14,439.99 L213.53,439.99 L213.91,439.99 L214.29,439.99 L214.67,439.98 L215.05,439.98 L215.43,439.97 L215.81,439.97 L216.19,439.96 L216.57,439.95 L216.96,439.94 L217.34,439.92 L217.72,439.90 L218.10,439.88 L218.48,439.85 L218.86,439.82 L219.24,439.77 L219.62,439.72 L220.01,439.66 L220.39,439.58 L220.77,439.49 L221.15,439.38 L221.53,439.24 L221.91,439.08 L222.29,438.89 L222.68,438.67 L223.06,438.41 L223.44,438.09 L223.82,437.73 L224.20,437.30 L224.58,436.80 L224.96,436.22 L225.34,435.56 L225.72,434.79 L226.11,433.91 L226.49,432.91 L226.87,431.77 L227.25,430.49 L227.63,429.05 L228.01,427.44 L228.39,425.65 L228.78,423.67 L229.16,421.50 L229.54,419.14 L229.92,416.58 L230.30,413.83 L230.68,410.91 L231.06,407.84 L231.44,404.64 L231.82,401.35 L232.21,398.02 L232.59,394.71 L232.97,391.52 L233.35,388.55 L233.73,385.94 L234.11,383.91 L234.40,383.10 L234.49,383.26 L234.88,385.24 L235.26,388.43 L235.64,392.35 L236.02,396.68 L236.40,401.18 L236.78,405.68 L237.16,410.04 L237.54,414.14 L237.93,417.93 L238.31,421.37 L238.69,424.43 L239.07,427.11 L239.45,429.43 L239.83,431.42 L240.21,433.09 L240.59,434.49 L240.97,435.64 L241.36,436.58 L241.74,437.33 L242.12,437.94 L242.50,438.42 L242.88,438.80 L243.26,439.09 L243.64,439.32 L244.03,439.50 L244.41,439.63 L244.79,439.73 L245.17,439.80 L245.55,439.86 L245.93,439.90 L246.31,439.93 L246.69,439.95 L247.07,439.96 L247.46,439.97 L247.84,439.98 L248.22,439.99 L248.60,439.99 L248.98,439.99 L249.36,440.00 L249.74,440.00 L250.12,440.00 L250.51,440.00 L250.89,440.00 L251.27,440.00 L251.65,440.00 L252.03,440.00 L252.41,440.00 L252.79,440.00 L253.18,440.00 L253.56,440.00 L253.94,440.00 L254.32,440.00 L254.70,440.00 L255.08,440.00 L255.46,440.00 L255.84,440.00 L256.23,440.00 L256.61,440.00 L256.99,440.00 L257.37,440.00 L257.75,440.00 L258.13,440.00 L258.51,440.00 L258.89,440.00 L259.27,440.00 L259.66,440.00 L260.04,440.00 L260.42,440.00 L260.80,440.00 L261.18,440.00 L261.56,440.00 L261.94,440.00 L262.32,440.00 L262.71,440.00 L263.09,440.00 L263.47,440.00 L263.85,440.00 L264.23,440.00 L264.61,440.00 L264.99,440.00 L265.38,440.00 L265.76,440.00 L266.14,440.00 L266.52,440.00 L266.90,440.00 L267.28,440.00 L267.66,440.00 L268.04,440.00 L268.43,440.00 L268.81,440.00 L269.19,440.00 L269.57,440.00 L269.95,440.00 L270.33,440.00 L270.71,440.00 L271.09,440.00 L271.48,440.00 L271.86,440.00 L272.24,440.00 L272.62,440.00 L273.00,440.00 L273.0,440.0 Z" fill="#f89090" fill-opacity="0.9" stroke="none"/>
<path d="M220.39,439.58 L220.77,439.49 L221.15,439.38 L221.53,439.24 L221.91,439.08 L222.29,438.89 L222.68,438.67 L223.06,438.41 L223.44,438.09 L223.82,437.73 L224.20,437.30 L224.58,436.80 L224.96,436.22 L225.34,435.56 L225.72,434.79 L226.11,433.91 L226.49,432.91 L226.87,431.77 L227.25,430.49 L227.63,429.05 L228.01,427.44 L228.39,425.65 L228.78,423.67 L229.16,421.50 L229.54,419.14 L229.92,416.58 L230.30,413.83 L230.68,410.91 L231.06,407.84 L231.44,404.64 L231.82,401.35 L232.21,398.02 L232.59,394.71 L232.97,391.52 L233.35,388.55 L233.73,385.94 L234.11,383.91 L234.40,383.10 L234.49,383.26 L234.88,385.24 L235.26,388.43 L235.64,392.35 L236.02,396.68 L236.40,401.18 L236.78,405.68 L237.16,410.04 L237.54,414.14 L237.93,417.93 L238.31,421.37 L238.69,424.43 L239.07,427.11 L239.45,429.43 L239.83,431.42 L240.21,433.09 L240.59,434.49 L240.97,435.64 L241.36,436.58 L241.74,437.33 L242.12,437.94 L242.50,438.42 L242.88,438.80 L243.26,439.09 L243.64,439.32 L244.03,439.50" fill="none" stroke="#e84848" stroke-width="0.7" stroke-linejoin="round"/>
<path d="M276.5,440.0 L276.50,440.00 L276.88,440.00 L277.26,440.00 L277.63,440.00 L278.01,440.00 L278.39,440.00 L278.77,440.00 L279.15,440.00 L279.52,440.00 L279.90,440.00 L280.28,440.00 L280.66,440.00 L281.04,440.00 L281.42,440.00 L281.79,440.00 L282.17,439.99 L282.55,439.99 L282.93,439.99 L283.31,439.99 L283.68,439.98 L284.06,439.97 L284.44,439.97 L284.82,439.95 L285.20,439.94 L285.57,439.92 L285.95,439.89 L286.33,439.86 L286.71,439.82 L287.09,439.76 L287.47,439.69 L287.84,439.60 L288.22,439.49 L288.60,439.35 L288.98,439.18 L289.36,438.96 L289.73,438.70 L290.11,438.37 L290.49,437.98 L290.87,437.50 L291.25,436.92 L291.62,436.23 L292.00,435.41 L292.38,434.45 L292.76,433.32 L293.14,432.01 L293.52,430.49 L293.89,428.77 L294.27,426.81 L294.65,424.60 L295.03,422.15 L295.41,419.45 L295.78,416.51 L296.16,413.35 L296.54,409.99 L296.92,406.48 L297.30,402.86 L297.68,399.23 L298.05,395.66 L298.43,392.26 L298.81,389.20 L299.19,386.62 L299.57,384.81 L299.80,384.30 L299.94,384.35 L300.32,385.18 L300.70,387.17 L301.08,390.32 L301.46,394.49 L301.83,399.46 L302.21,404.92 L302.59,410.54 L302.97,416.01 L303.35,421.07 L303.73,425.54 L304.10,429.32 L304.48,432.37 L304.86,434.73 L305.24,436.49 L305.62,437.74 L305.99,438.59 L306.37,439.16 L306.75,439.51 L307.13,439.73 L307.51,439.85 L307.88,439.93 L308.26,439.96 L308.64,439.98 L309.02,439.99 L309.40,440.00 L309.77,440.00 L310.15,440.00 L310.53,440.00 L310.91,440.00 L311.29,440.00 L311.67,440.00 L312.04,440.00 L312.42,440.00 L312.80,440.00 L313.18,440.00 L313.56,440.00 L313.93,440.00 L314.31,440.00 L314.69,440.00 L315.07,440.00 L315.45,440.00 L315.82,440.00 L316.20,440.00 L316.58,440.00 L316.96,440.00 L317.34,440.00 L317.72,440.00 L318.09,440.00 L318.47,440.00 L318.85,440.00 L319.23,440.00 L319.61,440.00 L319.98,440.00 L320.36,440.00 L320.74,440.00 L321.12,440.00 L321.50,440.00 L321.88,440.00 L322.25,440.00 L322.63,440.00 L323.01,440.00 L323.39,440.00 L323.77,440.00 L324.14,440.00 L324.52,440.00 L324.90,440.00 L325.28,440.00 L325.66,440.00 L326.03,440.00 L326.41,440.00 L326.79,440.00 L327.17,440.00 L327.55,440.00 L327.93,440.00 L328.30,440.00 L328.68,440.00 L329.06,440.00 L329.44,440.00 L329.82,440.00 L330.19,440.00 L330.57,440.00 L330.95,440.00 L331.33,440.00 L331.71,440.00 L332.08,440.00 L332.46,440.00 L332.84,440.00 L333.22,440.00 L333.60,440.00 L333.98,440.00 L334.35,440.00 L334.73,440.00 L335.11,440.00 L335.49,440.00 L335.87,440.00 L336.24,440.00 L336.62,440.00 L337.00,440.00 L337.0,440.0 Z" fill="#d4d4d4" fill-opacity="1.0" stroke="none"/>
<path d="M276.5,440.0 L276.50,440.00 L276.88,440.00 L277.26,440.00 L277.63,440.00 L278.01,440.00 L278.39,440.00 L278.77,440.00 L279.15,440.00 L279.52,440.00 L279.90,440.00 L280.28,440.00 L280.66,440.00 L281.04,439.99 L281.42,439.99 L281.79,439.99 L282.17,439.99 L282.55,439.99 L282.93,439.99 L283.31,439.98 L283.68,439.98 L284.06,439.98 L284.44,439.98 L284.82,439.97 L285.20,439.97 L285.57,439.96 L285.95,439.96 L286.33,439.95 L286.71,439.94 L287.09,439.93 L287.47,439.92 L287.84,439.91 L288.22,439.90 L288.60,439.89 L288.98,439.87 L289.36,439.85 L289.73,439.84 L290.11,439.82 L290.49,439.79 L290.87,439.77 L291.25,439.74 L291.62,439.71 L292.00,439.68 L292.38,439.65 L292.76,439.61 L293.14,439.57 L293.52,439.53 L293.89,439.48 L294.27,439.43 L294.65,439.38 L295.03,439.32 L295.41,439.27 L295.78,439.21 L296.16,439.14 L296.54,439.07 L296.92,439.00 L297.30,438.93 L297.68,438.86 L298.05,438.78 L298.43,438.70 L298.81,438.62 L299.19,438.53 L299.57,438.45 L299.94,438.36 L300.32,438.28 L300.70,438.19 L301.08,438.11 L301.46,438.02 L301.83,437.94 L302.21,437.86 L302.59,437.78 L302.97,437.70 L303.35,437.63 L303.73,437.56 L304.10,437.50 L304.48,437.43 L304.86,437.38 L305.24,437.33 L305.62,437.28 L305.99,437.24 L306.37,437.20 L306.75,437.17 L307.13,437.14 L307.51,437.12 L307.88,437.10 L308.26,437.08 L308.64,437.06 L309.02,437.03 L309.40,437.00 L309.77,436.95 L310.15,436.89 L310.53,436.81 L310.91,436.69 L311.29,436.53 L311.67,436.32 L312.04,436.03 L312.42,435.67 L312.80,435.20 L313.18,434.61 L313.56,433.88 L313.93,432.98 L314.31,431.89 L314.69,430.59 L315.07,429.06 L315.45,427.28 L315.82,425.24 L316.20,422.91 L316.58,420.32 L316.96,417.45 L317.34,414.34 L317.72,411.01 L318.09,407.52 L318.47,403.91 L318.85,400.26 L319.23,396.67 L319.61,393.22 L319.98,390.04 L320.36,387.24 L320.74,384.95 L321.12,383.30 L321.50,383.00 L321.60,383.00 L321.88,383.34 L322.25,385.21 L322.63,388.84 L323.01,394.02 L323.39,400.33 L323.77,407.21 L324.14,414.07 L324.52,420.42 L324.90,425.90 L325.28,430.32 L325.66,433.68 L326.03,436.07 L326.41,437.68 L326.79,438.70 L327.17,439.31 L327.55,439.65 L327.93,439.83 L328.30,439.93 L328.68,439.97 L329.06,439.99 L329.44,440.00 L329.82,440.00 L330.19,440.00 L330.57,440.00 L330.95,440.00 L331.33,440.00 L331.71,440.00 L332.08,440.00 L332.46,440.00 L332.84,440.00 L333.22,440.00 L333.60,440.00 L333.98,440.00 L334.35,440.00 L334.73,440.00 L335.11,440.00 L335.49,440.00 L335.87,440.00 L336.24,440.00 L336.62,440.00 L337.00,440.00 L337.0,440.0 Z" fill="#f89090" fill-opacity="0.9" stroke="none"/>
<path d="M293.14,439.57 L293.52,439.53 L293.89,439.48 L294.27,439.43 L294.65,439.38 L295.03,439.32 L295.41,439.27 L295.78,439.21 L296.16,439.14 L296.54,439.07 L296.92,439.00 L297.30,438.93 L297.68,438.86 L298.05,438.78 L298.43,438.70 L298.81,438.62 L299.19,438.53 L299.57,438.45 L299.94,438.36 L300.32,438.28 L300.70,438.19 L301.08,438.11 L301.46,438.02 L301.83,437.94 L302.21,437.86 L302.59,437.78 L302.97,437.70 L303.35,437.63 L303.73,437.56 L304.10,437.50 L304.48,437.43 L304.86,437.38 L305.24,437.33 L305.62,437.28 L305.99,437.24 L306.37,437.20 L306.75,437.17 L307.13,437.14 L307.51,437.12 L307.88,437.10 L308.26,437.08 L308.64,437.06 L309.02,437.03 L309.40,437.00 L309.77,436.95 L310.15,436.89 L310.53,436.81 L310.91,436.69 L311.29,436.53 L311.67,436.32 L312.04,436.03 L312.42,435.67 L312.80,435.20 L313.18,434.61 L313.56,433.88 L313.93,432.98 L314.31,431.89 L314.69,430.59 L315.07,429.06 L315.45,427.28 L315.82,425.24 L316.20,422.91 L316.58,420.32 L316.96,417.45 L317.34,414.34 L317.72,411.01 L318.09,407.52 L318.47,403.91 L318.85,400.26 L319.23,396.67 L319.61,393.22 L319.98,390.04 L320.36,387.24 L320.74,384.95 L321.12,383.30 L321.50,383.00 L321.60,383.00 L321.88,383.34 L322.25,385.21 L322.63,388.84 L323.01,394.02 L323.39,400.33 L323.77,407.21 L324.14,414.07 L324.52,420.42 L324.90,425.90 L325.28,430.32 L325.66,433.68 L326.03,436.07 L326.41,437.68 L326.79,438.70 L327.17,439.31" fill="none" stroke="#e84848" stroke-width="0.7" stroke-linejoin="round"/>
<path d="M341.0,440.0 L341.00,440.00 L341.38,440.00 L341.76,440.00 L342.14,440.00 L342.52,440.00 L342.91,440.00 L343.29,440.00 L343.67,440.00 L344.05,440.00 L344.43,440.00 L344.81,440.00 L345.19,440.00 L345.57,440.00 L345.96,440.00 L346.34,440.00 L346.72,440.00 L347.10,440.00 L347.48,440.00 L347.86,440.00 L348.24,440.00 L348.62,440.00 L349.01,439.99 L349.39,439.99 L349.77,439.99 L350.15,439.98 L350.53,439.97 L350.91,439.96 L351.29,439.95 L351.68,439.93 L352.06,439.90 L352.44,439.86 L352.82,439.81 L353.20,439.75 L353.58,439.66 L353.96,439.55 L354.34,439.40 L354.73,439.22 L355.11,438.98 L355.49,438.67 L355.87,438.29 L356.25,437.81 L356.63,437.21 L357.01,436.48 L357.39,435.59 L357.77,434.51 L358.16,433.22 L358.54,431.68 L358.92,429.88 L359.30,427.79 L359.68,425.39 L360.06,422.66 L360.44,419.60 L360.82,416.22 L361.21,412.54 L361.59,408.61 L361.97,404.49 L362.35,400.28 L362.73,396.09 L363.11,392.08 L363.49,388.44 L363.88,385.45 L364.26,383.49 L364.40,383.20 L364.64,383.44 L365.02,385.16 L365.40,388.66 L365.78,393.75 L366.16,400.03 L366.54,406.92 L366.93,413.83 L367.31,420.24 L367.69,425.78 L368.07,430.26 L368.45,433.65 L368.83,436.07 L369.21,437.69 L369.59,438.71 L369.98,439.32 L370.36,439.66 L370.74,439.84 L371.12,439.93 L371.50,439.97 L371.88,439.99 L372.26,440.00 L372.64,440.00 L373.02,440.00 L373.41,440.00 L373.79,440.00 L374.17,440.00 L374.55,440.00 L374.93,440.00 L375.31,440.00 L375.69,440.00 L376.07,440.00 L376.46,440.00 L376.84,440.00 L377.22,440.00 L377.60,440.00 L377.98,440.00 L378.36,440.00 L378.74,440.00 L379.12,440.00 L379.51,440.00 L379.89,440.00 L380.27,440.00 L380.65,440.00 L381.03,440.00 L381.41,440.00 L381.79,440.00 L382.18,440.00 L382.56,440.00 L382.94,440.00 L383.32,440.00 L383.70,440.00 L384.08,440.00 L384.46,440.00 L384.84,440.00 L385.23,440.00 L385.61,440.00 L385.99,440.00 L386.37,440.00 L386.75,440.00 L387.13,440.00 L387.51,440.00 L387.89,440.00 L388.27,440.00 L388.66,440.00 L389.04,440.00 L389.42,440.00 L389.80,440.00 L390.18,440.00 L390.56,440.00 L390.94,440.00 L391.32,440.00 L391.71,440.00 L392.09,440.00 L392.47,440.00 L392.85,440.00 L393.23,440.00 L393.61,440.00 L393.99,440.00 L394.38,440.00 L394.76,440.00 L395.14,440.00 L395.52,440.00 L395.90,440.00 L396.28,440.00 L396.66,440.00 L397.04,440.00 L397.43,440.00 L397.81,440.00 L398.19,440.00 L398.57,440.00 L398.95,440.00 L399.33,440.00 L399.71,440.00 L400.09,440.00 L400.48,440.00 L400.86,440.00 L401.24,440.00 L401.62,440.00 L402.00,440.00 L402.0,440.0 Z" fill="#d4d4d4" fill-opacity="1.0" stroke="none"/>
<path d="M341.0,440.0 L341.00,440.00 L341.38,440.00 L341.76,440.00 L342.14,440.00 L342.52,440.00 L342.91,440.00 L343.29,440.00 L343.67,440.00 L344.05,440.00 L344.43,440.00 L344.81,440.00 L345.19,440.00 L345.57,440.00 L345.96,440.00 L346.34,440.00 L346.72,439.99 L347.10,439.99 L347.48,439.99 L347.86,439.99 L348.24,439.99 L348.62,439.99 L349.01,439.98 L349.39,439.98 L349.77,439.98 L350.15,439.97 L350.53,439.97 L350.91,439.96 L351.29,439.96 L351.68,439.95 L352.06,439.94 L352.44,439.94 L352.82,439.93 L353.20,439.92 L353.58,439.90 L353.96,439.89 L354.34,439.87 L354.73,439.86 L355.11,439.84 L355.49,439.82 L355.87,439.79 L356.25,439.77 L356.63,439.74 L357.01,439.71 L357.39,439.68 L357.77,439.64 L358.16,439.60 L358.54,439.56 L358.92,439.51 L359.30,439.46 L359.68,439.41 L360.06,439.35 L360.44,439.29 L360.82,439.22 L361.21,439.15 L361.59,439.08 L361.97,439.00 L362.35,438.92 L362.73,438.84 L363.11,438.75 L363.49,438.66 L363.88,438.57 L364.26,438.47 L364.64,438.38 L365.02,438.28 L365.40,438.17 L365.78,438.07 L366.16,437.97 L366.54,437.86 L366.93,437.76 L367.31,437.66 L367.69,437.55 L368.07,437.46 L368.45,437.36 L368.83,437.26 L369.21,437.17 L369.59,437.09 L369.98,437.00 L370.36,436.93 L370.74,436.85 L371.12,436.79 L371.50,436.72 L371.88,436.67 L372.26,436.62 L372.64,436.57 L373.02,436.52 L373.41,436.48 L373.79,436.44 L374.17,436.39 L374.55,436.34 L374.93,436.27 L375.31,436.20 L375.69,436.09 L376.07,435.96 L376.46,435.79 L376.84,435.57 L377.22,435.28 L377.60,434.91 L377.98,434.46 L378.36,433.89 L378.74,433.18 L379.12,432.33 L379.51,431.31 L379.89,430.09 L380.27,428.66 L380.65,427.01 L381.03,425.11 L381.41,422.96 L381.79,420.56 L382.18,417.91 L382.56,415.02 L382.94,411.92 L383.32,408.65 L383.70,405.24 L384.08,401.76 L384.46,398.28 L384.84,394.89 L385.23,391.66 L385.61,388.71 L385.99,386.15 L386.37,384.07 L386.75,382.70 L387.13,382.70 L387.20,382.70 L387.51,383.29 L387.89,386.59 L388.27,393.14 L388.66,402.23 L389.04,412.34 L389.42,421.77 L389.80,429.27 L390.18,434.41 L390.56,437.43 L390.94,438.97 L391.32,439.64 L391.71,439.89 L392.09,439.97 L392.47,439.99 L392.85,440.00 L393.23,440.00 L393.61,440.00 L393.99,440.00 L394.38,440.00 L394.76,440.00 L395.14,440.00 L395.52,440.00 L395.90,440.00 L396.28,440.00 L396.66,440.00 L397.04,440.00 L397.43,440.00 L397.81,440.00 L398.19,440.00 L398.57,440.00 L398.95,440.00 L399.33,440.00 L399.71,440.00 L400.09,440.00 L400.48,440.00 L400.86,440.00 L401.24,440.00 L401.62,440.00 L402.00,440.00 L402.0,440.0 Z" fill="#f89090" fill-opacity="0.9" stroke="none"/>
<path d="M358.16,439.60 L358.54,439.56 L358.92,439.51 L359.30,439.46 L359.68,439.41 L360.06,439.35 L360.44,439.29 L360.82,439.22 L361.21,439.15 L361.59,439.08 L361.97,439.00 L362.35,438.92 L362.73,438.84 L363.11,438.75 L363.49,438.66 L363.88,438.57 L364.26,438.47 L364.64,438.38 L365.02,438.28 L365.40,438.17 L365.78,438.07 L366.16,437.97 L366.54,437.86 L366.93,437.76 L367.31,437.66 L367.69,437.55 L368.07,437.46 L368.45,437.36 L368.83,437.26 L369.21,437.17 L369.59,437.09 L369.98,437.00 L370.36,436.93 L370.74,436.85 L371.12,436.79 L371.50,436.72 L371.88,436.67 L372.26,436.62 L372.64,436.57 L373.02,436.52 L373.41,436.48 L373.79,436.44 L374.17,436.39 L374.55,436.34 L374.93,436.27 L375.31,436.20 L375.69,436.09 L376.07,435.96 L376.46,435.79 L376.84,435.57 L377.22,435.28 L377.60,434.91 L377.98,434.46 L378.36,433.89 L378.74,433.18 L379.12,432.33 L379.51,431.31 L379.89,430.09 L380.27,428.66 L380.65,427.01 L381.03,425.11 L381.41,422.96 L381.79,420.56 L382.18,417.91 L382.56,415.02 L382.94,411.92 L383.32,408.65 L383.70,405.24 L384.08,401.76 L384.46,398.28 L384.84,394.89 L385.23,391.66 L385.61,388.71 L385.99,386.15 L386.37,384.07 L386.75,382.70 L387.13,382.70 L387.20,382.70 L387.51,383.29 L387.89,386.59 L388.27,393.14 L388.66,402.23 L389.04,412.34 L389.42,421.77 L389.80,429.27 L390.18,434.41 L390.56,437.43 L390.94,438.97" fill="none" stroke="#e84848" stroke-width="0.7" stroke-linejoin="round"/>
<path d="M405.0,440.0 L405.00,439.97 L405.39,439.97 L405.77,439.96 L406.16,439.94 L406.55,439.93 L406.94,439.91 L407.32,439.89 L407.71,439.86 L408.10,439.83 L408.49,439.78 L408.88,439.73 L409.26,439.67 L409.65,439.59 L410.04,439.49 L410.43,439.38 L410.81,439.24 L411.20,439.07 L411.59,438.88 L411.98,438.64 L412.36,438.36 L412.75,438.04 L413.14,437.65 L413.52,437.20 L413.91,436.68 L414.30,436.07 L414.69,435.37 L415.07,434.57 L415.46,433.65 L415.85,432.61 L416.24,431.43 L416.62,430.11 L417.01,428.63 L417.40,426.99 L417.79,425.17 L418.18,423.18 L418.56,421.02 L418.95,418.67 L419.34,416.16 L419.73,413.49 L420.11,410.67 L420.50,407.72 L420.89,404.69 L421.27,401.59 L421.66,398.49 L422.05,395.43 L422.44,392.47 L422.82,389.70 L423.21,387.22 L423.60,385.12 L423.99,383.59 L424.30,383.00 L424.38,383.04 L424.76,384.12 L425.15,386.49 L425.54,389.89 L425.93,394.08 L426.31,398.80 L426.70,403.79 L427.09,408.81 L427.48,413.66 L427.86,418.19 L428.25,422.29 L428.64,425.89 L429.02,428.98 L429.41,431.55 L429.80,433.64 L430.19,435.30 L430.57,436.59 L430.96,437.57 L431.35,438.30 L431.74,438.83 L432.12,439.21 L432.51,439.48 L432.90,439.66 L433.29,439.78 L433.68,439.86 L434.06,439.92 L434.45,439.95 L434.84,439.97 L435.23,439.98 L435.61,439.99 L436.00,439.99 L436.39,440.00 L436.77,440.00 L437.16,440.00 L437.55,440.00 L437.94,440.00 L438.32,440.00 L438.71,440.00 L439.10,440.00 L439.49,440.00 L439.88,440.00 L440.26,440.00 L440.65,440.00 L441.04,440.00 L441.43,440.00 L441.81,440.00 L442.20,440.00 L442.59,440.00 L442.98,440.00 L443.36,440.00 L443.75,440.00 L444.14,440.00 L444.52,440.00 L444.91,440.00 L445.30,440.00 L445.69,440.00 L446.07,440.00 L446.46,440.00 L446.85,440.00 L447.24,440.00 L447.62,440.00 L448.01,440.00 L448.40,440.00 L448.79,440.00 L449.18,440.00 L449.56,440.00 L449.95,440.00 L450.34,440.00 L450.73,440.00 L451.11,440.00 L451.50,440.00 L451.89,440.00 L452.27,440.00 L452.66,440.00 L453.05,440.00 L453.44,440.00 L453.82,440.00 L454.21,440.00 L454.60,440.00 L454.99,440.00 L455.38,440.00 L455.76,440.00 L456.15,440.00 L456.54,440.00 L456.93,440.00 L457.31,440.00 L457.70,440.00 L458.09,440.00 L458.48,440.00 L458.86,440.00 L459.25,440.00 L459.64,440.00 L460.02,440.00 L460.41,440.00 L460.80,440.00 L461.19,440.00 L461.57,440.00 L461.96,440.00 L462.35,440.00 L462.74,440.00 L463.12,440.00 L463.51,440.00 L463.90,440.00 L464.29,440.00 L464.68,440.00 L465.06,440.00 L465.45,440.00 L465.84,440.00 L466.23,440.00 L466.61,440.00 L467.00,440.00 L467.0,440.0 Z" fill="#d4d4d4" fill-opacity="1.0" stroke="none"/>
<path d="M405.0,440.0 L405.00,440.00 L405.39,440.00 L405.77,440.00 L406.16,440.00 L406.55,440.00 L406.94,440.00 L407.32,440.00 L407.71,440.00 L408.10,440.00 L408.49,440.00 L408.88,440.00 L409.26,440.00 L409.65,440.00 L410.04,440.00 L410.43,440.00 L410.81,440.00 L411.20,440.00 L411.59,440.00 L411.98,440.00 L412.36,440.00 L412.75,440.00 L413.14,440.00 L413.52,440.00 L413.91,440.00 L414.30,440.00 L414.69,440.00 L415.07,440.00 L415.46,440.00 L415.85,440.00 L416.24,440.00 L416.62,440.00 L417.01,440.00 L417.40,440.00 L417.79,440.00 L418.18,440.00 L418.56,440.00 L418.95,440.00 L419.34,440.00 L419.73,440.00 L420.11,440.00 L420.50,440.00 L420.89,440.00 L421.27,440.00 L421.66,440.00 L422.05,440.00 L422.44,440.00 L422.82,440.00 L423.21,440.00 L423.60,440.00 L423.99,440.00 L424.38,440.00 L424.76,440.00 L425.15,440.00 L425.54,440.00 L425.93,440.00 L426.31,440.00 L426.70,440.00 L427.09,440.00 L427.48,440.00 L427.86,440.00 L428.25,440.00 L428.64,440.00 L429.02,440.00 L429.41,440.00 L429.80,440.00 L430.19,440.00 L430.57,440.00 L430.96,440.00 L431.35,440.00 L431.74,439.99 L432.12,439.98 L432.51,439.97 L432.90,439.95 L433.29,439.91 L433.68,439.85 L434.06,439.75 L434.45,439.59 L434.84,439.34 L435.23,438.97 L435.61,438.42 L436.00,437.62 L436.39,436.50 L436.77,434.97 L437.16,432.93 L437.55,430.28 L437.94,426.95 L438.32,422.90 L438.71,418.13 L439.10,412.73 L439.49,406.85 L439.88,400.78 L440.26,394.86 L440.65,389.55 L441.04,385.35 L441.43,382.86 L441.60,382.50 L441.81,382.95 L442.20,385.98 L442.59,391.44 L442.98,398.56 L443.36,406.43 L443.75,414.19 L444.14,421.16 L444.52,426.94 L444.91,431.41 L445.30,434.64 L445.69,436.82 L446.07,438.21 L446.46,439.04 L446.85,439.52 L447.24,439.77 L447.62,439.89 L448.01,439.95 L448.40,439.98 L448.79,439.99 L449.18,440.00 L449.56,440.00 L449.95,440.00 L450.34,440.00 L450.73,440.00 L451.11,440.00 L451.50,440.00 L451.89,440.00 L452.27,440.00 L452.66,440.00 L453.05,440.00 L453.44,440.00 L453.82,440.00 L454.21,440.00 L454.60,440.00 L454.99,440.00 L455.38,440.00 L455.76,440.00 L456.15,440.00 L456.54,440.00 L456.93,440.00 L457.31,440.00 L457.70,440.00 L458.09,440.00 L458.48,440.00 L458.86,440.00 L459.25,440.00 L459.64,440.00 L460.02,440.00 L460.41,440.00 L460.80,440.00 L461.19,440.00 L461.57,440.00 L461.96,440.00 L462.35,440.00 L462.74,440.00 L463.12,440.00 L463.51,440.00 L463.90,440.00 L464.29,440.00 L464.68,440.00 L465.06,440.00 L465.45,440.00 L465.84,440.00 L466.23,440.00 L466.61,440.00 L467.00,440.00 L467.0,440.0 Z" fill="#f89090" fill-opacity="0.9" stroke="none"/>
<path d="M434.45,439.59 L434.84,439.34 L435.23,438.97 L435.61,438.42 L436.00,437.62 L436.39,436.50 L436.77,434.97 L437.16,432.93 L437.55,430.28 L437.94,426.95 L438.32,422.90 L438.71,418.13 L439.10,412.73 L439.49,406.85 L439.88,400.78 L440.26,394.86 L440.65,389.55 L441.04,385.35 L441.43,382.86 L441.60,382.50 L441.81,382.95 L442.20,385.98 L442.59,391.44 L442.98,398.56 L443.36,406.43 L443.75,414.19 L444.14,421.16 L444.52,426.94 L444.91,431.41 L445.30,434.64 L445.69,436.82 L446.07,438.21 L446.46,439.04 L446.85,439.52" fill="none" stroke="#e84848" stroke-width="0.7" stroke-linejoin="round"/>
<path d="M212.0,506.3 L212.00,506.28 L212.38,506.27 L212.76,506.27 L213.14,506.26 L213.53,506.25 L213.91,506.24 L214.29,506.23 L214.67,506.21 L215.05,506.19 L215.43,506.17 L215.81,506.14 L216.19,506.11 L216.57,506.07 L216.96,506.02 L217.34,505.96 L217.72,505.90 L218.10,505.82 L218.48,505.73 L218.86,505.62 L219.24,505.50 L219.62,505.36 L220.01,505.19 L220.39,504.99 L220.77,504.77 L221.15,504.51 L221.53,504.22 L221.91,503.88 L222.29,503.49 L222.68,503.05 L223.06,502.55 L223.44,501.99 L223.82,501.36 L224.20,500.65 L224.58,499.86 L224.96,498.98 L225.34,498.00 L225.72,496.92 L226.11,495.73 L226.49,494.42 L226.87,493.00 L227.25,491.46 L227.63,489.79 L228.01,487.99 L228.39,486.07 L228.78,484.02 L229.16,481.85 L229.54,479.58 L229.92,477.20 L230.30,474.73 L230.68,472.19 L231.06,469.60 L231.44,466.99 L231.82,464.38 L232.21,461.81 L232.59,459.32 L232.97,456.96 L233.35,454.77 L233.73,452.83 L234.11,451.22 L234.49,450.05 L234.80,449.60 L234.88,449.61 L235.26,450.26 L235.64,452.38 L236.02,456.19 L236.40,461.59 L236.78,468.16 L237.16,475.34 L237.54,482.46 L237.93,488.95 L238.31,494.40 L238.69,498.62 L239.07,501.66 L239.45,503.68 L239.83,504.92 L240.21,505.62 L240.59,505.99 L240.97,506.17 L241.36,506.25 L241.74,506.28 L242.12,506.29 L242.50,506.30 L242.88,506.30 L243.26,506.30 L243.64,506.30 L244.03,506.30 L244.41,506.30 L244.79,506.30 L245.17,506.30 L245.55,506.30 L245.93,506.30 L246.31,506.30 L246.69,506.30 L247.07,506.30 L247.46,506.30 L247.84,506.30 L248.22,506.30 L248.60,506.30 L248.98,506.30 L249.36,506.30 L249.74,506.30 L250.12,506.30 L250.51,506.30 L250.89,506.30 L251.27,506.30 L251.65,506.30 L252.03,506.30 L252.41,506.30 L252.79,506.30 L253.18,506.30 L253.56,506.30 L253.94,506.30 L254.32,506.30 L254.70,506.30 L255.08,506.30 L255.46,506.30 L255.84,506.30 L256.23,506.30 L256.61,506.30 L256.99,506.30 L257.37,506.30 L257.75,506.30 L258.13,506.30 L258.51,506.30 L258.89,506.30 L259.27,506.30 L259.66,506.30 L260.04,506.30 L260.42,506.30 L260.80,506.30 L261.18,506.30 L261.56,506.30 L261.94,506.30 L262.32,506.30 L262.71,506.30 L263.09,506.30 L263.47,506.30 L263.85,506.30 L264.23,506.30 L264.61,506.30 L264.99,506.30 L265.38,506.30 L265.76,506.30 L266.14,506.30 L266.52,506.30 L266.90,506.30 L267.28,506.30 L267.66,506.30 L268.04,506.30 L268.43,506.30 L268.81,506.30 L269.19,506.30 L269.57,506.30 L269.95,506.30 L270.33,506.30 L270.71,506.30 L271.09,506.30 L271.48,506.30 L271.86,506.30 L272.24,506.30 L272.62,506.30 L273.00,506.30 L273.0,506.3 Z" fill="#d4d4d4" fill-opacity="1.0" stroke="none"/>
<path d="M212.0,506.3 L212.00,505.22 L212.38,505.09 L212.76,504.94 L213.14,504.79 L213.53,504.61 L213.91,504.42 L214.29,504.20 L214.67,503.97 L215.05,503.71 L215.43,503.42 L215.81,503.11 L216.19,502.76 L216.57,502.38 L216.96,501.97 L217.34,501.52 L217.72,501.02 L218.10,500.49 L218.48,499.90 L218.86,499.27 L219.24,498.58 L219.62,497.83 L220.01,497.02 L220.39,496.15 L220.77,495.21 L221.15,494.20 L221.53,493.12 L221.91,491.96 L222.29,490.72 L222.68,489.40 L223.06,488.00 L223.44,486.50 L223.82,484.92 L224.20,483.26 L224.58,481.50 L224.96,479.66 L225.34,477.74 L225.72,475.74 L226.11,473.66 L226.49,471.51 L226.87,469.30 L227.25,467.05 L227.63,464.76 L228.01,462.46 L228.39,460.16 L228.78,457.89 L229.16,455.69 L229.54,453.60 L229.92,451.68 L230.30,450.01 L230.68,448.79 L230.80,448.60 L231.06,448.77 L231.44,449.63 L231.82,451.17 L232.21,453.34 L232.59,456.06 L232.97,459.24 L233.35,462.76 L233.73,466.53 L234.11,470.43 L234.49,474.35 L234.88,478.20 L235.26,481.89 L235.64,485.36 L236.02,488.57 L236.40,491.47 L236.78,494.05 L237.16,496.31 L237.54,498.25 L237.93,499.90 L238.31,501.27 L238.69,502.40 L239.07,503.32 L239.45,504.04 L239.83,504.61 L240.21,505.06 L240.59,505.39 L240.97,505.65 L241.36,505.84 L241.74,505.98 L242.12,506.08 L242.50,506.15 L242.88,506.20 L243.26,506.23 L243.64,506.25 L244.03,506.27 L244.41,506.28 L244.79,506.29 L245.17,506.29 L245.55,506.30 L245.93,506.30 L246.31,506.30 L246.69,506.30 L247.07,506.30 L247.46,506.30 L247.84,506.30 L248.22,506.30 L248.60,506.30 L248.98,506.30 L249.36,506.30 L249.74,506.30 L250.12,506.30 L250.51,506.30 L250.89,506.30 L251.27,506.30 L251.65,506.30 L252.03,506.30 L252.41,506.30 L252.79,506.30 L253.18,506.30 L253.56,506.30 L253.94,506.30 L254.32,506.30 L254.70,506.30 L255.08,506.30 L255.46,506.30 L255.84,506.30 L256.23,506.30 L256.61,506.30 L256.99,506.30 L257.37,506.30 L257.75,506.30 L258.13,506.30 L258.51,506.30 L258.89,506.30 L259.27,506.30 L259.66,506.30 L260.04,506.30 L260.42,506.30 L260.80,506.30 L261.18,506.30 L261.56,506.30 L261.94,506.30 L262.32,506.30 L262.71,506.30 L263.09,506.30 L263.47,506.30 L263.85,506.30 L264.23,506.30 L264.61,506.30 L264.99,506.30 L265.38,506.30 L265.76,506.30 L266.14,506.30 L266.52,506.30 L266.90,506.30 L267.28,506.30 L267.66,506.30 L268.04,506.30 L268.43,506.30 L268.81,506.30 L269.19,506.30 L269.57,506.30 L269.95,506.30 L270.33,506.30 L270.71,506.30 L271.09,506.30 L271.48,506.30 L271.86,506.30 L272.24,506.30 L272.62,506.30 L273.00,506.30 L273.0,506.3 Z" fill="#f89090" fill-opacity="0.85" stroke="none"/>
<path d="M212.00,505.22 L212.38,505.09 L212.76,504.94 L213.14,504.79 L213.53,504.61 L213.91,504.42 L214.29,504.20 L214.67,503.97 L215.05,503.71 L215.43,503.42 L215.81,503.11 L216.19,502.76 L216.57,502.38 L216.96,501.97 L217.34,501.52 L217.72,501.02 L218.10,500.49 L218.48,499.90 L218.86,499.27 L219.24,498.58 L219.62,497.83 L220.01,497.02 L220.39,496.15 L220.77,495.21 L221.15,494.20 L221.53,493.12 L221.91,491.96 L222.29,490.72 L222.68,489.40 L223.06,488.00 L223.44,486.50 L223.82,484.92 L224.20,483.26 L224.58,481.50 L224.96,479.66 L225.34,477.74 L225.72,475.74 L226.11,473.66 L226.49,471.51 L226.87,469.30 L227.25,467.05 L227.63,464.76 L228.01,462.46 L228.39,460.16 L228.78,457.89 L229.16,455.69 L229.54,453.60 L229.92,451.68 L230.30,450.01 L230.68,448.79 L230.80,448.60 L231.06,448.77 L231.44,449.63 L231.82,451.17 L232.21,453.34 L232.59,456.06 L232.97,459.24 L233.35,462.76 L233.73,466.53 L234.11,470.43 L234.49,474.35 L234.88,478.20 L235.26,481.89 L235.64,485.36 L236.02,488.57 L236.40,491.47 L236.78,494.05 L237.16,496.31 L237.54,498.25 L237.93,499.90 L238.31,501.27 L238.69,502.40 L239.07,503.32 L239.45,504.04 L239.83,504.61 L240.21,505.06 L240.59,505.39 L240.97,505.65 L241.36,505.84" fill="none" stroke="#e84848" stroke-width="0.7" stroke-linejoin="round"/>
<path d="M276.5,506.3 L276.50,506.30 L276.88,506.30 L277.26,506.30 L277.63,506.30 L278.01,506.30 L278.39,506.30 L278.77,506.30 L279.15,506.30 L279.52,506.30 L279.90,506.30 L280.28,506.30 L280.66,506.30 L281.04,506.30 L281.42,506.30 L281.79,506.30 L282.17,506.30 L282.55,506.30 L282.93,506.30 L283.31,506.29 L283.68,506.29 L284.06,506.29 L284.44,506.28 L284.82,506.28 L285.20,506.27 L285.57,506.26 L285.95,506.24 L286.33,506.22 L286.71,506.20 L287.09,506.16 L287.47,506.12 L287.84,506.06 L288.22,505.98 L288.60,505.88 L288.98,505.76 L289.36,505.60 L289.73,505.40 L290.11,505.15 L290.49,504.83 L290.87,504.45 L291.25,503.97 L291.62,503.40 L292.00,502.70 L292.38,501.85 L292.76,500.85 L293.14,499.67 L293.52,498.27 L293.89,496.66 L294.27,494.79 L294.65,492.67 L295.03,490.26 L295.41,487.58 L295.78,484.62 L296.16,481.39 L296.54,477.92 L296.92,474.24 L297.30,470.43 L297.68,466.55 L298.05,462.71 L298.43,459.03 L298.81,455.68 L299.19,452.86 L299.57,450.86 L299.80,450.30 L299.94,450.35 L300.32,451.18 L300.70,453.18 L301.08,456.35 L301.46,460.55 L301.83,465.54 L302.21,471.03 L302.59,476.68 L302.97,482.18 L303.35,487.27 L303.73,491.77 L304.10,495.56 L304.48,498.63 L304.86,501.00 L305.24,502.77 L305.62,504.03 L305.99,504.89 L306.37,505.45 L306.75,505.81 L307.13,506.03 L307.51,506.15 L307.88,506.22 L308.26,506.26 L308.64,506.28 L309.02,506.29 L309.40,506.30 L309.77,506.30 L310.15,506.30 L310.53,506.30 L310.91,506.30 L311.29,506.30 L311.67,506.30 L312.04,506.30 L312.42,506.30 L312.80,506.30 L313.18,506.30 L313.56,506.30 L313.93,506.30 L314.31,506.30 L314.69,506.30 L315.07,506.30 L315.45,506.30 L315.82,506.30 L316.20,506.30 L316.58,506.30 L316.96,506.30 L317.34,506.30 L317.72,506.30 L318.09,506.30 L318.47,506.30 L318.85,506.30 L319.23,506.30 L319.61,506.30 L319.98,506.30 L320.36,506.30 L320.74,506.30 L321.12,506.30 L321.50,506.30 L321.88,506.30 L322.25,506.30 L322.63,506.30 L323.01,506.30 L323.39,506.30 L323.77,506.30 L324.14,506.30 L324.52,506.30 L324.90,506.30 L325.28,506.30 L325.66,506.30 L326.03,506.30 L326.41,506.30 L326.79,506.30 L327.17,506.30 L327.55,506.30 L327.93,506.30 L328.30,506.30 L328.68,506.30 L329.06,506.30 L329.44,506.30 L329.82,506.30 L330.19,506.30 L330.57,506.30 L330.95,506.30 L331.33,506.30 L331.71,506.30 L332.08,506.30 L332.46,506.30 L332.84,506.30 L333.22,506.30 L333.60,506.30 L333.98,506.30 L334.35,506.30 L334.73,506.30 L335.11,506.30 L335.49,506.30 L335.87,506.30 L336.24,506.30 L336.62,506.30 L337.00,506.30 L337.0,506.3 Z" fill="#d4d4d4" fill-opacity="1.0" stroke="none"/>
<path d="M276.5,506.3 L276.50,506.30 L276.88,506.30 L277.26,506.30 L277.63,506.30 L278.01,506.30 L278.39,506.30 L278.77,506.30 L279.15,506.30 L279.52,506.30 L279.90,506.30 L280.28,506.30 L280.66,506.30 L281.04,506.30 L281.42,506.30 L281.79,506.30 L282.17,506.30 L282.55,506.30 L282.93,506.30 L283.31,506.29 L283.68,506.29 L284.06,506.29 L284.44,506.29 L284.82,506.29 L285.20,506.29 L285.57,506.29 L285.95,506.28 L286.33,506.28 L286.71,506.28 L287.09,506.27 L287.47,506.27 L287.84,506.26 L288.22,506.26 L288.60,506.25 L288.98,506.24 L289.36,506.23 L289.73,506.22 L290.11,506.21 L290.49,506.20 L290.87,506.18 L291.25,506.17 L291.62,506.15 L292.00,506.13 L292.38,506.11 L292.76,506.08 L293.14,506.05 L293.52,506.03 L293.89,505.99 L294.27,505.96 L294.65,505.92 L295.03,505.88 L295.41,505.83 L295.78,505.78 L296.16,505.73 L296.54,505.67 L296.92,505.61 L297.30,505.55 L297.68,505.48 L298.05,505.40 L298.43,505.33 L298.81,505.25 L299.19,505.16 L299.57,505.07 L299.94,504.98 L300.32,504.88 L300.70,504.78 L301.08,504.68 L301.46,504.58 L301.83,504.47 L302.21,504.36 L302.59,504.25 L302.97,504.14 L303.35,504.02 L303.73,503.91 L304.10,503.80 L304.48,503.69 L304.86,503.58 L305.24,503.47 L305.62,503.37 L305.99,503.27 L306.37,503.17 L306.75,503.08 L307.13,502.99 L307.51,502.91 L307.88,502.84 L308.26,502.77 L308.64,502.71 L309.02,502.65 L309.40,502.60 L309.77,502.56 L310.15,502.52 L310.53,502.49 L310.91,502.45 L311.29,502.42 L311.67,502.39 L312.04,502.35 L312.42,502.29 L312.80,502.22 L313.18,502.13 L313.56,502.00 L313.93,501.83 L314.31,501.60 L314.69,501.30 L315.07,500.91 L315.45,500.41 L315.82,499.79 L316.20,499.03 L316.58,498.09 L316.96,496.97 L317.34,495.64 L317.72,494.07 L318.09,492.26 L318.47,490.20 L318.85,487.87 L319.23,485.29 L319.61,482.47 L319.98,479.44 L320.36,476.23 L320.74,472.89 L321.12,469.49 L321.50,466.11 L321.88,462.84 L322.25,459.77 L322.63,457.03 L323.01,454.72 L323.39,452.96 L323.77,452.60 L324.00,452.60 L324.14,452.65 L324.52,453.65 L324.90,456.38 L325.28,460.96 L325.66,467.12 L326.03,474.26 L326.41,481.62 L326.79,488.47 L327.17,494.26 L327.55,498.74 L327.93,501.89 L328.30,503.92 L328.68,505.12 L329.06,505.76 L329.44,506.07 L329.82,506.21 L330.19,506.27 L330.57,506.29 L330.95,506.30 L331.33,506.30 L331.71,506.30 L332.08,506.30 L332.46,506.30 L332.84,506.30 L333.22,506.30 L333.60,506.30 L333.98,506.30 L334.35,506.30 L334.73,506.30 L335.11,506.30 L335.49,506.30 L335.87,506.30 L336.24,506.30 L336.62,506.30 L337.00,506.30 L337.0,506.3 Z" fill="#f89090" fill-opacity="0.9" stroke="none"/>
<path d="M295.03,505.88 L295.41,505.83 L295.78,505.78 L296.16,505.73 L296.54,505.67 L296.92,505.61 L297.30,505.55 L297.68,505.48 L298.05,505.40 L298.43,505.33 L298.81,505.25 L299.19,505.16 L299.57,505.07 L299.94,504.98 L300.32,504.88 L300.70,504.78 L301.08,504.68 L301.46,504.58 L301.83,504.47 L302.21,504.36 L302.59,504.25 L302.97,504.14 L303.35,504.02 L303.73,503.91 L304.10,503.80 L304.48,503.69 L304.86,503.58 L305.24,503.47 L305.62,503.37 L305.99,503.27 L306.37,503.17 L306.75,503.08 L307.13,502.99 L307.51,502.91 L307.88,502.84 L308.26,502.77 L308.64,502.71 L309.02,502.65 L309.40,502.60 L309.77,502.56 L310.15,502.52 L310.53,502.49 L310.91,502.45 L311.29,502.42 L311.67,502.39 L312.04,502.35 L312.42,502.29 L312.80,502.22 L313.18,502.13 L313.56,502.00 L313.93,501.83 L314.31,501.60 L314.69,501.30 L315.07,500.91 L315.45,500.41 L315.82,499.79 L316.20,499.03 L316.58,498.09 L316.96,496.97 L317.34,495.64 L317.72,494.07 L318.09,492.26 L318.47,490.20 L318.85,487.87 L319.23,485.29 L319.61,482.47 L319.98,479.44 L320.36,476.23 L320.74,472.89 L321.12,469.49 L321.50,466.11 L321.88,462.84 L322.25,459.77 L322.63,457.03 L323.01,454.72 L323.39,452.96 L323.77,452.60 L324.00,452.60 L324.14,452.65 L324.52,453.65 L324.90,456.38 L325.28,460.96 L325.66,467.12 L326.03,474.26 L326.41,481.62 L326.79,488.47 L327.17,494.26 L327.55,498.74 L327.93,501.89 L328.30,503.92 L328.68,505.12 L329.06,505.76" fill="none" stroke="#e84848" stroke-width="0.7" stroke-linejoin="round"/>
<path d="M341.0,506.3 L341.00,506.30 L341.38,506.30 L341.76,506.30 L342.14,506.30 L342.52,506.30 L342.91,506.30 L343.29,506.30 L343.67,506.30 L344.05,506.30 L344.43,506.30 L344.81,506.30 L345.19,506.30 L345.57,506.29 L345.96,506.29 L346.34,506.29 L346.72,506.29 L347.10,506.28 L347.48,506.28 L347.86,506.27 L348.24,506.26 L348.62,506.24 L349.01,506.23 L349.39,506.20 L349.77,506.17 L350.15,506.14 L350.53,506.09 L350.91,506.02 L351.29,505.95 L351.68,505.85 L352.06,505.72 L352.44,505.57 L352.82,505.38 L353.20,505.15 L353.58,504.86 L353.96,504.51 L354.34,504.09 L354.73,503.58 L355.11,502.97 L355.49,502.24 L355.87,501.39 L356.25,500.38 L356.63,499.21 L357.01,497.86 L357.39,496.31 L357.77,494.54 L358.16,492.54 L358.54,490.30 L358.92,487.82 L359.30,485.09 L359.68,482.13 L360.06,478.95 L360.44,475.57 L360.82,472.04 L361.21,468.41 L361.59,464.76 L361.97,461.16 L362.35,457.73 L362.73,454.60 L363.11,451.93 L363.49,449.96 L363.80,449.20 L363.88,449.21 L364.26,449.62 L364.64,450.78 L365.02,452.74 L365.40,455.47 L365.78,458.91 L366.16,462.90 L366.54,467.30 L366.93,471.93 L367.31,476.61 L367.69,481.17 L368.07,485.47 L368.45,489.39 L368.83,492.87 L369.21,495.87 L369.59,498.37 L369.98,500.41 L370.36,502.02 L370.74,503.27 L371.12,504.20 L371.50,504.88 L371.88,505.36 L372.26,505.69 L372.64,505.92 L373.02,506.07 L373.41,506.16 L373.79,506.22 L374.17,506.25 L374.55,506.27 L374.93,506.29 L375.31,506.29 L375.69,506.30 L376.07,506.30 L376.46,506.30 L376.84,506.30 L377.22,506.30 L377.60,506.30 L377.98,506.30 L378.36,506.30 L378.74,506.30 L379.12,506.30 L379.51,506.30 L379.89,506.30 L380.27,506.30 L380.65,506.30 L381.03,506.30 L381.41,506.30 L381.79,506.30 L382.18,506.30 L382.56,506.30 L382.94,506.30 L383.32,506.30 L383.70,506.30 L384.08,506.30 L384.46,506.30 L384.84,506.30 L385.23,506.30 L385.61,506.30 L385.99,506.30 L386.37,506.30 L386.75,506.30 L387.13,506.30 L387.51,506.30 L387.89,506.30 L388.27,506.30 L388.66,506.30 L389.04,506.30 L389.42,506.30 L389.80,506.30 L390.18,506.30 L390.56,506.30 L390.94,506.30 L391.32,506.30 L391.71,506.30 L392.09,506.30 L392.47,506.30 L392.85,506.30 L393.23,506.30 L393.61,506.30 L393.99,506.30 L394.38,506.30 L394.76,506.30 L395.14,506.30 L395.52,506.30 L395.90,506.30 L396.28,506.30 L396.66,506.30 L397.04,506.30 L397.43,506.30 L397.81,506.30 L398.19,506.30 L398.57,506.30 L398.95,506.30 L399.33,506.30 L399.71,506.30 L400.09,506.30 L400.48,506.30 L400.86,506.30 L401.24,506.30 L401.62,506.30 L402.00,506.30 L402.0,506.3 Z" fill="#d4d4d4" fill-opacity="1.0" stroke="none"/>
<path d="M341.0,506.3 L341.00,506.30 L341.38,506.30 L341.76,506.30 L342.14,506.30 L342.52,506.30 L342.91,506.30 L343.29,506.30 L343.67,506.30 L344.05,506.30 L344.43,506.30 L344.81,506.30 L345.19,506.30 L345.57,506.30 L345.96,506.30 L346.34,506.30 L346.72,506.30 L347.10,506.30 L347.48,506.30 L347.86,506.29 L348.24,506.29 L348.62,506.29 L349.01,506.29 L349.39,506.29 L349.77,506.29 L350.15,506.29 L350.53,506.28 L350.91,506.28 L351.29,506.28 L351.68,506.28 L352.06,506.27 L352.44,506.27 L352.82,506.26 L353.20,506.26 L353.58,506.25 L353.96,506.24 L354.34,506.24 L354.73,506.23 L355.11,506.22 L355.49,506.21 L355.87,506.20 L356.25,506.19 L356.63,506.17 L357.01,506.16 L357.39,506.14 L357.77,506.12 L358.16,506.10 L358.54,506.08 L358.92,506.06 L359.30,506.03 L359.68,506.00 L360.06,505.97 L360.44,505.94 L360.82,505.91 L361.21,505.87 L361.59,505.83 L361.97,505.79 L362.35,505.74 L362.73,505.70 L363.11,505.65 L363.49,505.59 L363.88,505.54 L364.26,505.48 L364.64,505.42 L365.02,505.35 L365.40,505.29 L365.78,505.22 L366.16,505.15 L366.54,505.07 L366.93,505.00 L367.31,504.92 L367.69,504.84 L368.07,504.76 L368.45,504.68 L368.83,504.60 L369.21,504.52 L369.59,504.43 L369.98,504.35 L370.36,504.27 L370.74,504.18 L371.12,504.10 L371.50,504.02 L371.88,503.94 L372.26,503.87 L372.64,503.79 L373.02,503.72 L373.41,503.64 L373.79,503.58 L374.17,503.51 L374.55,503.44 L374.93,503.38 L375.31,503.32 L375.69,503.26 L376.07,503.20 L376.46,503.14 L376.84,503.08 L377.22,503.01 L377.60,502.94 L377.98,502.86 L378.36,502.78 L378.74,502.68 L379.12,502.57 L379.51,502.44 L379.89,502.28 L380.27,502.10 L380.65,501.89 L381.03,501.63 L381.41,501.33 L381.79,500.98 L382.18,500.57 L382.56,500.09 L382.94,499.53 L383.32,498.88 L383.70,498.14 L384.08,497.29 L384.46,496.33 L384.84,495.24 L385.23,494.02 L385.61,492.66 L385.99,491.16 L386.37,489.50 L386.75,487.69 L387.13,485.73 L387.51,483.62 L387.89,481.37 L388.27,478.99 L388.66,476.51 L389.04,473.93 L389.42,471.31 L389.80,468.66 L390.18,466.04 L390.56,463.50 L390.94,461.11 L391.32,458.93 L391.71,457.07 L392.09,455.65 L392.47,455.60 L392.50,455.60 L392.85,456.07 L393.23,458.32 L393.61,462.70 L393.99,468.97 L394.38,476.40 L394.76,484.05 L395.14,490.99 L395.52,496.62 L395.90,500.70 L396.28,503.35 L396.66,504.89 L397.04,505.69 L397.43,506.06 L397.81,506.22 L398.19,506.27 L398.57,506.29 L398.95,506.30 L399.33,506.30 L399.71,506.30 L400.09,506.30 L400.48,506.30 L400.86,506.30 L401.24,506.30 L401.62,506.30 L402.00,506.30 L402.0,506.3 Z" fill="#f89090" fill-opacity="0.9" stroke="none"/>
<path d="M361.21,505.87 L361.59,505.83 L361.97,505.79 L362.35,505.74 L362.73,505.70 L363.11,505.65 L363.49,505.59 L363.88,505.54 L364.26,505.48 L364.64,505.42 L365.02,505.35 L365.40,505.29 L365.78,505.22 L366.16,505.15 L366.54,505.07 L366.93,505.00 L367.31,504.92 L367.69,504.84 L368.07,504.76 L368.45,504.68 L368.83,504.60 L369.21,504.52 L369.59,504.43 L369.98,504.35 L370.36,504.27 L370.74,504.18 L371.12,504.10 L371.50,504.02 L371.88,503.94 L372.26,503.87 L372.64,503.79 L373.02,503.72 L373.41,503.64 L373.79,503.58 L374.17,503.51 L374.55,503.44 L374.93,503.38 L375.31,503.32 L375.69,503.26 L376.07,503.20 L376.46,503.14 L376.84,503.08 L377.22,503.01 L377.60,502.94 L377.98,502.86 L378.36,502.78 L378.74,502.68 L379.12,502.57 L379.51,502.44 L379.89,502.28 L380.27,502.10 L380.65,501.89 L381.03,501.63 L381.41,501.33 L381.79,500.98 L382.18,500.57 L382.56,500.09 L382.94,499.53 L383.32,498.88 L383.70,498.14 L384.08,497.29 L384.46,496.33 L384.84,495.24 L385.23,494.02 L385.61,492.66 L385.99,491.16 L386.37,489.50 L386.75,487.69 L387.13,485.73 L387.51,483.62 L387.89,481.37 L388.27,478.99 L388.66,476.51 L389.04,473.93 L389.42,471.31 L389.80,468.66 L390.18,466.04 L390.56,463.50 L390.94,461.11 L391.32,458.93 L391.71,457.07 L392.09,455.65 L392.47,455.60 L392.50,455.60 L392.85,456.07 L393.23,458.32 L393.61,462.70 L393.99,468.97 L394.38,476.40 L394.76,484.05 L395.14,490.99 L395.52,496.62 L395.90,500.70 L396.28,503.35 L396.66,504.89 L397.04,505.69" fill="none" stroke="#e84848" stroke-width="0.7" stroke-linejoin="round"/>
<path d="M405.0,506.3 L405.00,506.30 L405.39,506.30 L405.77,506.30 L406.16,506.30 L406.55,506.30 L406.94,506.30 L407.32,506.30 L407.71,506.30 L408.10,506.30 L408.49,506.30 L408.88,506.29 L409.26,506.29 L409.65,506.29 L410.04,506.28 L410.43,506.28 L410.81,506.27 L411.20,506.26 L411.59,506.25 L411.98,506.23 L412.36,506.21 L412.75,506.18 L413.14,506.14 L413.52,506.09 L413.91,506.03 L414.30,505.96 L414.69,505.86 L415.07,505.74 L415.46,505.58 L415.85,505.39 L416.24,505.15 L416.62,504.86 L417.01,504.50 L417.40,504.07 L417.79,503.55 L418.18,502.92 L418.56,502.17 L418.95,501.28 L419.34,500.23 L419.73,499.01 L420.11,497.59 L420.50,495.96 L420.89,494.10 L421.27,492.00 L421.66,489.64 L422.05,487.02 L422.44,484.13 L422.82,481.00 L423.21,477.64 L423.60,474.07 L423.99,470.35 L424.38,466.54 L424.76,462.71 L425.15,458.96 L425.54,455.42 L425.93,452.24 L426.31,449.60 L426.70,447.80 L426.90,447.40 L427.09,447.62 L427.48,449.26 L427.86,452.21 L428.25,456.22 L428.64,460.97 L429.02,466.18 L429.41,471.55 L429.80,476.85 L430.19,481.86 L430.57,486.44 L430.96,490.49 L431.35,493.97 L431.74,496.87 L432.12,499.24 L432.51,501.12 L432.90,502.57 L433.29,503.67 L433.68,504.48 L434.06,505.06 L434.45,505.48 L434.84,505.76 L435.23,505.96 L435.61,506.08 L436.00,506.17 L436.39,506.22 L436.77,506.25 L437.16,506.27 L437.55,506.28 L437.94,506.29 L438.32,506.30 L438.71,506.30 L439.10,506.30 L439.49,506.30 L439.88,506.30 L440.26,506.30 L440.65,506.30 L441.04,506.30 L441.43,506.30 L441.81,506.30 L442.20,506.30 L442.59,506.30 L442.98,506.30 L443.36,506.30 L443.75,506.30 L444.14,506.30 L444.52,506.30 L444.91,506.30 L445.30,506.30 L445.69,506.30 L446.07,506.30 L446.46,506.30 L446.85,506.30 L447.24,506.30 L447.62,506.30 L448.01,506.30 L448.40,506.30 L448.79,506.30 L449.18,506.30 L449.56,506.30 L449.95,506.30 L450.34,506.30 L450.73,506.30 L451.11,506.30 L451.50,506.30 L451.89,506.30 L452.27,506.30 L452.66,506.30 L453.05,506.30 L453.44,506.30 L453.82,506.30 L454.21,506.30 L454.60,506.30 L454.99,506.30 L455.38,506.30 L455.76,506.30 L456.15,506.30 L456.54,506.30 L456.93,506.30 L457.31,506.30 L457.70,506.30 L458.09,506.30 L458.48,506.30 L458.86,506.30 L459.25,506.30 L459.64,506.30 L460.02,506.30 L460.41,506.30 L460.80,506.30 L461.19,506.30 L461.57,506.30 L461.96,506.30 L462.35,506.30 L462.74,506.30 L463.12,506.30 L463.51,506.30 L463.90,506.30 L464.29,506.30 L464.68,506.30 L465.06,506.30 L465.45,506.30 L465.84,506.30 L466.23,506.30 L466.61,506.30 L467.00,506.30 L467.0,506.3 Z" fill="#f89090" fill-opacity="0.9" stroke="none"/>
<path d="M414.69,505.86 L415.07,505.74 L415.46,505.58 L415.85,505.39 L416.24,505.15 L416.62,504.86 L417.01,504.50 L417.40,504.07 L417.79,503.55 L418.18,502.92 L418.56,502.17 L418.95,501.28 L419.34,500.23 L419.73,499.01 L420.11,497.59 L420.50,495.96 L420.89,494.10 L421.27,492.00 L421.66,489.64 L422.05,487.02 L422.44,484.13 L422.82,481.00 L423.21,477.64 L423.60,474.07 L423.99,470.35 L424.38,466.54 L424.76,462.71 L425.15,458.96 L425.54,455.42 L425.93,452.24 L426.31,449.60 L426.70,447.80 L426.90,447.40 L427.09,447.62 L427.48,449.26 L427.86,452.21 L428.25,456.22 L428.64,460.97 L429.02,466.18 L429.41,471.55 L429.80,476.85 L430.19,481.86 L430.57,486.44 L430.96,490.49 L431.35,493.97 L431.74,496.87 L432.12,499.24 L432.51,501.12 L432.90,502.57 L433.29,503.67 L433.68,504.48 L434.06,505.06 L434.45,505.48 L434.84,505.76" fill="none" stroke="#e84848" stroke-width="0.7" stroke-linejoin="round"/>
<path d="M470.0,506.3 L470.00,506.30 L470.38,506.30 L470.76,506.30 L471.14,506.30 L471.52,506.30 L471.91,506.30 L472.29,506.30 L472.67,506.30 L473.05,506.30 L473.43,506.29 L473.81,506.29 L474.19,506.29 L474.57,506.28 L474.96,506.28 L475.34,506.27 L475.72,506.26 L476.10,506.25 L476.48,506.23 L476.86,506.21 L477.24,506.19 L477.62,506.15 L478.01,506.11 L478.39,506.05 L478.77,505.98 L479.15,505.90 L479.53,505.78 L479.91,505.65 L480.29,505.47 L480.68,505.26 L481.06,505.00 L481.44,504.68 L481.82,504.30 L482.20,503.83 L482.58,503.28 L482.96,502.61 L483.34,501.83 L483.73,500.90 L484.11,499.83 L484.49,498.58 L484.87,497.14 L485.25,495.49 L485.63,493.63 L486.01,491.54 L486.39,489.22 L486.77,486.65 L487.16,483.86 L487.54,480.84 L487.92,477.63 L488.30,474.25 L488.68,470.77 L489.06,467.23 L489.44,463.71 L489.82,460.32 L490.21,457.18 L490.59,454.43 L490.97,452.27 L491.35,451.04 L491.40,451.00 L491.73,451.50 L492.11,453.27 L492.49,456.19 L492.88,460.08 L493.26,464.67 L493.64,469.70 L494.02,474.88 L494.40,479.96 L494.78,484.75 L495.16,489.08 L495.54,492.87 L495.93,496.07 L496.31,498.69 L496.69,500.78 L497.07,502.39 L497.45,503.59 L497.83,504.47 L498.21,505.09 L498.59,505.52 L498.98,505.81 L499.36,506.00 L499.74,506.12 L500.12,506.19 L500.50,506.24 L500.88,506.27 L501.26,506.28 L501.64,506.29 L502.02,506.29 L502.41,506.30 L502.79,506.30 L503.17,506.30 L503.55,506.30 L503.93,506.30 L504.31,506.30 L504.69,506.30 L505.07,506.30 L505.46,506.30 L505.84,506.30 L506.22,506.30 L506.60,506.30 L506.98,506.30 L507.36,506.30 L507.74,506.30 L508.12,506.30 L508.51,506.30 L508.89,506.30 L509.27,506.30 L509.65,506.30 L510.03,506.30 L510.41,506.30 L510.79,506.30 L511.18,506.30 L511.56,506.30 L511.94,506.30 L512.32,506.30 L512.70,506.30 L513.08,506.30 L513.46,506.30 L513.84,506.30 L514.23,506.30 L514.61,506.30 L514.99,506.30 L515.37,506.30 L515.75,506.30 L516.13,506.30 L516.51,506.30 L516.89,506.30 L517.27,506.30 L517.66,506.30 L518.04,506.30 L518.42,506.30 L518.80,506.30 L519.18,506.30 L519.56,506.30 L519.94,506.30 L520.33,506.30 L520.71,506.30 L521.09,506.30 L521.47,506.30 L521.85,506.30 L522.23,506.30 L522.61,506.30 L522.99,506.30 L523.38,506.30 L523.76,506.30 L524.14,506.30 L524.52,506.30 L524.90,506.30 L525.28,506.30 L525.66,506.30 L526.04,506.30 L526.42,506.30 L526.81,506.30 L527.19,506.30 L527.57,506.30 L527.95,506.30 L528.33,506.30 L528.71,506.30 L529.09,506.30 L529.48,506.30 L529.86,506.30 L530.24,506.30 L530.62,506.30 L531.00,506.30 L531.0,506.3 Z" fill="#d4d4d4" fill-opacity="1.0" stroke="none"/>
<path d="M470.0,506.3 L470.00,506.30 L470.38,506.30 L470.76,506.30 L471.14,506.30 L471.52,506.30 L471.91,506.30 L472.29,506.30 L472.67,506.30 L473.05,506.30 L473.43,506.30 L473.81,506.30 L474.19,506.30 L474.57,506.30 L474.96,506.30 L475.34,506.30 L475.72,506.30 L476.10,506.30 L476.48,506.30 L476.86,506.30 L477.24,506.30 L477.62,506.30 L478.01,506.30 L478.39,506.30 L478.77,506.30 L479.15,506.29 L479.53,506.29 L479.91,506.29 L480.29,506.29 L480.68,506.29 L481.06,506.28 L481.44,506.28 L481.82,506.27 L482.20,506.27 L482.58,506.26 L482.96,506.25 L483.34,506.23 L483.73,506.22 L484.11,506.20 L484.49,506.18 L484.87,506.15 L485.25,506.12 L485.63,506.08 L486.01,506.03 L486.39,505.97 L486.77,505.90 L487.16,505.82 L487.54,505.73 L487.92,505.61 L488.30,505.48 L488.68,505.32 L489.06,505.13 L489.44,504.91 L489.82,504.66 L490.21,504.37 L490.59,504.03 L490.97,503.64 L491.35,503.19 L491.73,502.67 L492.11,502.09 L492.49,501.42 L492.88,500.67 L493.26,499.82 L493.64,498.87 L494.02,497.81 L494.40,496.64 L494.78,495.33 L495.16,493.89 L495.54,492.32 L495.93,490.60 L496.31,488.74 L496.69,486.73 L497.07,484.58 L497.45,482.29 L497.83,479.86 L498.21,477.31 L498.59,474.66 L498.98,471.92 L499.36,469.12 L499.74,466.28 L500.12,463.45 L500.50,460.67 L500.88,457.99 L501.26,455.46 L501.64,453.15 L502.02,451.16 L502.41,449.58 L502.79,448.60 L502.90,448.50 L503.17,448.96 L503.55,450.95 L503.93,454.20 L504.31,458.45 L504.69,463.37 L505.07,468.66 L505.46,474.03 L505.84,479.25 L506.22,484.11 L506.60,488.49 L506.98,492.30 L507.36,495.53 L507.74,498.19 L508.12,500.31 L508.51,501.97 L508.89,503.24 L509.27,504.17 L509.65,504.85 L510.03,505.34 L510.41,505.67 L510.79,505.90 L511.18,506.05 L511.56,506.14 L511.94,506.21 L512.32,506.24 L512.70,506.27 L513.08,506.28 L513.46,506.29 L513.84,506.29 L514.23,506.30 L514.61,506.30 L514.99,506.30 L515.37,506.30 L515.75,506.30 L516.13,506.30 L516.51,506.30 L516.89,506.30 L517.27,506.30 L517.66,506.30 L518.04,506.30 L518.42,506.30 L518.80,506.30 L519.18,506.30 L519.56,506.30 L519.94,506.30 L520.33,506.30 L520.71,506.30 L521.09,506.30 L521.47,506.30 L521.85,506.30 L522.23,506.30 L522.61,506.30 L522.99,506.30 L523.38,506.30 L523.76,506.30 L524.14,506.30 L524.52,506.30 L524.90,506.30 L525.28,506.30 L525.66,506.30 L526.04,506.30 L526.42,506.30 L526.81,506.30 L527.19,506.30 L527.57,506.30 L527.95,506.30 L528.33,506.30 L528.71,506.30 L529.09,506.30 L529.48,506.30 L529.86,506.30 L530.24,506.30 L530.62,506.30 L531.00,506.30 L531.0,506.3 Z" fill="#f89090" fill-opacity="0.85" stroke="none"/>
<path d="M487.16,505.82 L487.54,505.73 L487.92,505.61 L488.30,505.48 L488.68,505.32 L489.06,505.13 L489.44,504.91 L489.82,504.66 L490.21,504.37 L490.59,504.03 L490.97,503.64 L491.35,503.19 L491.73,502.67 L492.11,502.09 L492.49,501.42 L492.88,500.67 L493.26,499.82 L493.64,498.87 L494.02,497.81 L494.40,496.64 L494.78,495.33 L495.16,493.89 L495.54,492.32 L495.93,490.60 L496.31,488.74 L496.69,486.73 L497.07,484.58 L497.45,482.29 L497.83,479.86 L498.21,477.31 L498.59,474.66 L498.98,471.92 L499.36,469.12 L499.74,466.28 L500.12,463.45 L500.50,460.67 L500.88,457.99 L501.26,455.46 L501.64,453.15 L502.02,451.16 L502.41,449.58 L502.79,448.60 L502.90,448.50 L503.17,448.96 L503.55,450.95 L503.93,454.20 L504.31,458.45 L504.69,463.37 L505.07,468.66 L505.46,474.03 L505.84,479.25 L506.22,484.11 L506.60,488.49 L506.98,492.30 L507.36,495.53 L507.74,498.19 L508.12,500.31 L508.51,501.97 L508.89,503.24 L509.27,504.17 L509.65,504.85 L510.03,505.34 L510.41,505.67 L510.79,505.90" fill="none" stroke="#e84848" stroke-width="0.7" stroke-linejoin="round"/>
<line x1="212.3" y1="514.8" x2="375" y2="514.8" stroke="#8a8a8a" stroke-width="1.0"/>
<path d="M377.5,514.8 L372.5,512.8 L372.5,516.8 Z" fill="#222"/>
<text x="378.4" y="518.6" font-family="Liberation Serif" font-size="11" font-weight="normal" font-style="normal" text-anchor="start" fill="#222" textLength="25.2" lengthAdjust="spacingAndGlyphs" stroke="#222" stroke-width="0.18">HER2</text>
<line x1="405.5" y1="514.8" x2="509" y2="514.8" stroke="#8a8a8a" stroke-width="1.0"/>
<path d="M511.5,514.8 L506.5,512.8 L506.5,516.8 Z" fill="#222"/>
<text x="513.6" y="518.6" font-family="Liberation Serif" font-size="11" font-weight="normal" font-style="normal" text-anchor="start" fill="#222" textLength="18.6" lengthAdjust="spacingAndGlyphs" stroke="#222" stroke-width="0.18">CD3</text>
<line x1="30.5" y1="381.1" x2="30.5" y2="459.5" stroke="#e0e0e0" stroke-width="0.6"/>
<line x1="30.5" y1="459.5" x2="174.5" y2="459.5" stroke="#e0e0e0" stroke-width="0.6"/>
<text x="29" y="461.3" font-family="Liberation Sans" font-size="5.0" font-weight="bold" font-style="normal" text-anchor="end" fill="#888" textLength="6.5" lengthAdjust="spacingAndGlyphs">0.0</text>
<text x="29" y="453.66" font-family="Liberation Sans" font-size="5.0" font-weight="bold" font-style="normal" text-anchor="end" fill="#888" textLength="6.5" lengthAdjust="spacingAndGlyphs">0.2</text>
<text x="29" y="446.02000000000004" font-family="Liberation Sans" font-size="5.0" font-weight="bold" font-style="normal" text-anchor="end" fill="#888" textLength="6.5" lengthAdjust="spacingAndGlyphs">0.4</text>
<text x="29" y="438.38" font-family="Liberation Sans" font-size="5.0" font-weight="bold" font-style="normal" text-anchor="end" fill="#888" textLength="6.5" lengthAdjust="spacingAndGlyphs">0.6</text>
<text x="29" y="430.74" font-family="Liberation Sans" font-size="5.0" font-weight="bold" font-style="normal" text-anchor="end" fill="#888" textLength="6.5" lengthAdjust="spacingAndGlyphs">0.8</text>
<text x="29" y="423.1" font-family="Liberation Sans" font-size="5.0" font-weight="bold" font-style="normal" text-anchor="end" fill="#888" textLength="6.5" lengthAdjust="spacingAndGlyphs">1.0</text>
<text x="29" y="415.46" font-family="Liberation Sans" font-size="5.0" font-weight="bold" font-style="normal" text-anchor="end" fill="#888" textLength="6.5" lengthAdjust="spacingAndGlyphs">1.2</text>
<text x="29" y="407.82" font-family="Liberation Sans" font-size="5.0" font-weight="bold" font-style="normal" text-anchor="end" fill="#888" textLength="6.5" lengthAdjust="spacingAndGlyphs">1.4</text>
<text x="29" y="400.18" font-family="Liberation Sans" font-size="5.0" font-weight="bold" font-style="normal" text-anchor="end" fill="#888" textLength="6.5" lengthAdjust="spacingAndGlyphs">1.6</text>
<text x="29" y="392.54" font-family="Liberation Sans" font-size="5.0" font-weight="bold" font-style="normal" text-anchor="end" fill="#888" textLength="6.5" lengthAdjust="spacingAndGlyphs">1.8</text>
<text x="29" y="384.90000000000003" font-family="Liberation Sans" font-size="5.0" font-weight="bold" font-style="normal" text-anchor="end" fill="#888" textLength="6.5" lengthAdjust="spacingAndGlyphs">2.0</text>
<text x="32.4" y="466.5" font-family="Liberation Sans" font-size="5.0" font-weight="bold" font-style="normal" text-anchor="middle" fill="#888" textLength="6.5" lengthAdjust="spacingAndGlyphs">0.0</text>
<text x="51.65" y="466.5" font-family="Liberation Sans" font-size="5.0" font-weight="bold" font-style="normal" text-anchor="middle" fill="#888" textLength="6.5" lengthAdjust="spacingAndGlyphs">5.0</text>
<text x="70.9" y="466.5" font-family="Liberation Sans" font-size="5.0" font-weight="bold" font-style="normal" text-anchor="middle" fill="#888" textLength="8" lengthAdjust="spacingAndGlyphs">10.0</text>
<text x="90.15" y="466.5" font-family="Liberation Sans" font-size="5.0" font-weight="bold" font-style="normal" text-anchor="middle" fill="#888" textLength="8" lengthAdjust="spacingAndGlyphs">15.0</text>
<text x="109.4" y="466.5" font-family="Liberation Sans" font-size="5.0" font-weight="bold" font-style="normal" text-anchor="middle" fill="#888" textLength="8" lengthAdjust="spacingAndGlyphs">20.0</text>
<text x="128.65" y="466.5" font-family="Liberation Sans" font-size="5.0" font-weight="bold" font-style="normal" text-anchor="middle" fill="#888" textLength="8" lengthAdjust="spacingAndGlyphs">25.0</text>
<text x="147.9" y="466.5" font-family="Liberation Sans" font-size="5.0" font-weight="bold" font-style="normal" text-anchor="middle" fill="#888" textLength="8" lengthAdjust="spacingAndGlyphs">30.0</text>
<text x="167.15" y="466.5" font-family="Liberation Sans" font-size="5.0" font-weight="bold" font-style="normal" text-anchor="middle" fill="#888" textLength="8" lengthAdjust="spacingAndGlyphs">35.0</text>
<text x="82.9" y="379.3" font-family="Liberation Serif" font-size="11" font-weight="normal" font-style="normal" text-anchor="start" fill="#222" textLength="20" lengthAdjust="spacingAndGlyphs" stroke="#222" stroke-width="0.18">4T1</text>
<text x="71.5" y="477.2" font-family="Liberation Serif" font-size="10" font-weight="bold" font-style="normal" text-anchor="start" fill="#111" textLength="61.3" lengthAdjust="spacingAndGlyphs" stroke="#111" stroke-width="0.2">Time (in hour)</text>
<text x="20.5" y="422" font-family="Liberation Serif" font-size="11" font-weight="bold" font-style="normal" text-anchor="middle" fill="#111" textLength="89.5" lengthAdjust="spacingAndGlyphs" transform="rotate(-90 20.5 422)" stroke="#111" stroke-width="0.15">Normalized cell index</text>
<path d="M32.4,459.0 L33.0,458.2 L33.9,457.0 L34.9,455.6 L36.0,454.2 L37.0,452.8 L38.0,451.5 L38.9,450.4 L39.8,449.2 L40.7,448.1 L41.5,447.1 L42.3,446.2 L43.0,445.5 L43.6,445.0 L44.1,444.8 L44.6,444.6 L45.1,444.6 L45.5,444.6 L46.0,444.7 L46.5,444.9 L47.0,445.2 L47.5,445.6 L48.0,446.0 L48.5,446.3 L49.0,446.5 L49.4,446.6 L49.8,446.6 L50.2,446.6 L50.6,446.5 L51.2,446.1 L52.0,445.5 L53.0,444.5 L54.2,443.2 L55.6,441.7 L57.0,440.1 L58.5,438.7 L60.0,437.5 L61.4,436.7 L62.8,436.1 L64.2,435.6 L65.9,435.2 L67.7,434.7 L70.0,434.0 L72.9,433.1 L76.5,432.0 L80.3,430.8 L84.1,429.7 L87.4,428.7 L90.0,428.0 L91.7,427.6 L92.6,427.4 L93.2,427.4 L93.6,427.4 L94.1,427.3 L95.0,427.0 L96.3,426.5 L97.8,425.9 L99.4,425.3 L101.0,424.6 L102.7,423.9 L104.3,423.2 L105.9,422.6 L107.5,421.9 L109.0,421.2 L110.6,420.6 L112.1,419.9 L113.5,419.3 L114.9,418.6 L116.3,417.9 L117.6,417.2 L118.8,416.5 L119.8,415.9 L120.5,415.5" fill="none" stroke="#e08080" stroke-width="1.5" stroke-linejoin="round" stroke-linecap="round"/>
<path d="M32.4,459.7 L33.0,458.9 L33.9,457.7 L34.9,456.3 L36.0,454.9 L37.0,453.4 L38.0,452.2 L38.9,451.1 L39.8,449.9 L40.7,448.8 L41.5,447.8 L42.3,446.9 L43.0,446.2 L43.6,445.7 L44.1,445.5 L44.6,445.3 L45.1,445.3 L45.5,445.3 L46.0,445.4 L46.5,445.6 L47.0,445.9 L47.5,446.3 L48.0,446.7 L48.5,447.0 L49.0,447.2 L49.4,447.3 L49.8,447.3 L50.2,447.3 L50.6,447.2 L51.2,446.8 L52.0,446.2 L53.0,445.2 L54.2,443.9 L55.6,442.4 L57.0,440.8 L58.5,439.4 L60.0,438.2 L61.4,437.4 L62.8,436.8 L64.2,436.3 L65.9,435.9 L67.7,435.4 L70.0,434.7 L72.9,433.8 L76.5,432.7 L80.3,431.5 L84.1,430.4 L87.4,429.4 L90.0,428.7 L91.7,428.3 L92.6,428.1 L93.2,428.1 L93.6,428.1 L94.1,428.0 L95.0,427.7 L96.3,427.2 L97.8,426.6 L99.4,426.0 L101.0,425.3 L102.7,424.6 L104.3,423.9 L105.9,423.3 L107.5,422.6 L109.0,421.9 L110.6,421.3 L112.1,420.6 L113.5,420.0 L114.9,419.3 L116.3,418.6 L117.6,417.9 L118.8,417.2 L119.8,416.6 L120.5,416.2" fill="none" stroke="#28a040" stroke-width="1.5" stroke-linejoin="round" stroke-linecap="round"/>
<path d="M32.4,460.0 L33.0,459.2 L33.9,458.0 L34.9,456.6 L36.0,455.2 L37.0,453.8 L38.0,452.5 L38.9,451.4 L39.8,450.2 L40.7,449.1 L41.5,448.1 L42.3,447.2 L43.0,446.5 L43.6,446.0 L44.1,445.8 L44.6,445.6 L45.1,445.6 L45.5,445.6 L46.0,445.7 L46.5,445.9 L47.0,446.2 L47.5,446.6 L48.0,447.0 L48.5,447.3 L49.0,447.5 L49.4,447.6 L49.8,447.6 L50.2,447.6 L50.6,447.5 L51.2,447.1 L52.0,446.5 L53.0,445.5 L54.2,444.2 L55.6,442.7 L57.0,441.1 L58.5,439.7 L60.0,438.5 L61.4,437.7 L62.8,437.1 L64.2,436.6 L65.9,436.2 L67.7,435.7 L70.0,435.0 L72.9,434.1 L76.5,433.0 L80.3,431.8 L84.1,430.7 L87.4,429.7 L90.0,429.0 L91.7,428.6 L92.6,428.4 L93.2,428.4 L93.6,428.4 L94.1,428.3 L95.0,428.0 L96.3,427.5 L97.8,426.9 L99.4,426.3 L101.0,425.6 L102.7,424.9 L104.3,424.2 L105.9,423.6 L107.5,422.9 L109.0,422.2 L110.6,421.6 L112.1,420.9 L113.5,420.3 L114.9,419.6 L116.3,418.9 L117.6,418.2 L118.8,417.5 L119.8,416.9 L120.5,416.5" fill="none" stroke="#3a80d0" stroke-width="1.5" stroke-linejoin="round" stroke-linecap="round"/>
<path d="M120.5,416.0 L127.5,385.0 L129.0,385.0 L131.3,419.0" fill="none" stroke="#e08080" stroke-width="1.5" stroke-linejoin="round" stroke-linecap="round"/>
<path d="M120.5,416.0 L127.5,385.0 L129.0,385.0 L131.3,419.0" fill="none" stroke="#3a80d0" stroke-width="1.5" stroke-linejoin="round" stroke-linecap="round"/>
<path d="M131.3,416.7 L131.8,416.2 L132.6,415.4 L133.4,414.5 L134.4,413.6 L135.5,412.8 L136.7,412.1 L138.0,411.6 L139.6,411.1 L141.2,410.7 L142.9,410.3 L144.5,410.0 L146.0,409.8 L147.4,409.7 L148.7,409.6 L149.9,409.6 L151.2,409.7 L152.4,409.6 L153.7,409.5 L155.0,409.3 L156.2,409.0 L157.4,408.6 L158.7,408.3 L160.0,407.9 L161.5,407.5 L163.3,407.1 L165.3,406.6 L167.4,406.2 L169.4,405.7 L171.1,405.4 L172.3,405.1" fill="none" stroke="#c89090" stroke-width="1.6" stroke-linejoin="round" stroke-linecap="round"/>
<path d="M131.3,416.7 L131.8,416.2 L132.6,415.4 L133.4,414.5 L134.4,413.6 L135.5,412.8 L136.7,412.1 L138.0,411.6 L139.6,411.1 L141.2,410.7 L142.9,410.4 L144.5,410.1 L146.0,409.8 L147.4,409.6 L148.7,409.5 L149.9,409.5 L151.2,409.4 L152.4,409.4 L153.7,409.2 L155.0,409.0 L156.2,408.7 L157.4,408.3 L158.7,408.0 L160.0,407.6 L161.5,407.2 L163.3,406.8 L165.3,406.3 L167.4,405.8 L169.4,405.3 L171.1,404.9 L172.3,404.6" fill="none" stroke="#28a040" stroke-width="1.6" stroke-linejoin="round" stroke-linecap="round"/>
<path d="M131.3,416.7 L131.8,416.2 L132.6,415.4 L133.4,414.5 L134.4,413.6 L135.5,412.8 L136.7,412.1 L138.0,411.6 L139.6,411.1 L141.2,410.7 L142.9,410.4 L144.5,410.1 L146.0,409.8 L147.4,409.6 L148.7,409.5 L149.9,409.4 L151.2,409.3 L152.4,409.2 L153.7,409.0 L155.0,408.7 L156.2,408.4 L157.4,408.0 L158.7,407.6 L160.0,407.2 L161.5,406.7 L163.3,406.1 L165.3,405.4 L167.4,404.6 L169.4,403.9 L171.1,403.2 L172.3,402.8" fill="none" stroke="#3a80d0" stroke-width="1.6" stroke-linejoin="round" stroke-linecap="round"/>
<path d="M131.3,414.0 L131.7,413.1 L132.2,411.9 L132.9,410.5 L133.6,409.0 L134.4,407.6 L135.2,406.5 L136.0,405.7 L136.9,405.1 L137.8,404.6 L138.8,404.1 L140.0,403.6 L141.4,402.8 L143.1,401.8 L145.2,400.5 L147.5,399.2 L149.7,397.9 L151.8,396.8 L153.7,395.9 L155.3,395.3 L156.7,394.8 L158.0,394.5 L159.2,394.3 L160.4,394.2 L161.5,394.3 L162.6,394.5 L163.7,395.0 L164.7,395.6 L165.7,396.2 L166.7,396.8 L167.6,397.4 L168.5,398.0 L169.4,398.5 L170.3,399.1 L171.1,399.7 L171.8,400.2 L172.3,400.5" fill="none" stroke="#e83030" stroke-width="1.6" stroke-linejoin="round" stroke-linecap="round"/>
<path d="M131.3,413.8 L131.7,412.9 L132.2,411.7 L132.9,410.3 L133.6,408.8 L134.4,407.4 L135.2,406.2 L136.0,405.2 L136.9,404.4 L137.9,403.6 L138.9,402.8 L140.1,402.0 L141.4,401.0 L143.0,399.9 L144.8,398.6 L146.7,397.2 L148.7,395.9 L150.5,394.7 L152.2,393.8 L153.7,393.1 L155.1,392.6 L156.4,392.2 L157.6,392.0 L158.8,391.9 L160.0,391.8 L161.1,391.8 L162.2,392.0 L163.2,392.2 L164.1,392.6 L165.1,393.0 L166.1,393.5 L167.2,394.2 L168.4,395.0 L169.6,396.0 L170.7,396.9 L171.6,397.7 L172.3,398.2" fill="none" stroke="#30c8e0" stroke-width="1.6" stroke-linejoin="round" stroke-linecap="round"/>
<path d="M131.3,413.6 L131.7,412.7 L132.2,411.5 L132.9,410.1 L133.6,408.6 L134.4,407.1 L135.2,405.9 L136.0,404.9 L136.9,404.0 L137.9,403.2 L138.9,402.4 L140.1,401.5 L141.4,400.5 L143.0,399.3 L144.8,397.9 L146.7,396.5 L148.7,395.1 L150.5,393.8 L152.2,392.8 L153.7,392.1 L155.1,391.5 L156.4,391.1 L157.6,390.8 L158.8,390.6 L160.0,390.5 L161.1,390.5 L162.2,390.6 L163.2,390.8 L164.1,391.1 L165.1,391.5 L166.1,392.0 L167.2,392.6 L168.4,393.5 L169.6,394.4 L170.7,395.3 L171.6,396.1 L172.3,396.6" fill="none" stroke="#2040a0" stroke-width="1.6" stroke-linejoin="round" stroke-linecap="round"/>
<line x1="30.5" y1="504.0" x2="30.5" y2="580.4" stroke="#e0e0e0" stroke-width="0.6"/>
<line x1="30.5" y1="580.4" x2="174.5" y2="580.4" stroke="#e0e0e0" stroke-width="0.6"/>
<text x="29" y="582.1999999999999" font-family="Liberation Sans" font-size="5.0" font-weight="bold" font-style="normal" text-anchor="end" fill="#888" textLength="6.5" lengthAdjust="spacingAndGlyphs">0.0</text>
<text x="29" y="572.9" font-family="Liberation Sans" font-size="5.0" font-weight="bold" font-style="normal" text-anchor="end" fill="#888" textLength="6.5" lengthAdjust="spacingAndGlyphs">0.2</text>
<text x="29" y="563.5999999999999" font-family="Liberation Sans" font-size="5.0" font-weight="bold" font-style="normal" text-anchor="end" fill="#888" textLength="6.5" lengthAdjust="spacingAndGlyphs">0.4</text>
<text x="29" y="554.3" font-family="Liberation Sans" font-size="5.0" font-weight="bold" font-style="normal" text-anchor="end" fill="#888" textLength="6.5" lengthAdjust="spacingAndGlyphs">0.6</text>
<text x="29" y="544.9999999999999" font-family="Liberation Sans" font-size="5.0" font-weight="bold" font-style="normal" text-anchor="end" fill="#888" textLength="6.5" lengthAdjust="spacingAndGlyphs">0.8</text>
<text x="29" y="535.6999999999999" font-family="Liberation Sans" font-size="5.0" font-weight="bold" font-style="normal" text-anchor="end" fill="#888" textLength="6.5" lengthAdjust="spacingAndGlyphs">1.0</text>
<text x="29" y="526.4" font-family="Liberation Sans" font-size="5.0" font-weight="bold" font-style="normal" text-anchor="end" fill="#888" textLength="6.5" lengthAdjust="spacingAndGlyphs">1.2</text>
<text x="29" y="517.0999999999999" font-family="Liberation Sans" font-size="5.0" font-weight="bold" font-style="normal" text-anchor="end" fill="#888" textLength="6.5" lengthAdjust="spacingAndGlyphs">1.4</text>
<text x="29" y="507.8" font-family="Liberation Sans" font-size="5.0" font-weight="bold" font-style="normal" text-anchor="end" fill="#888" textLength="6.5" lengthAdjust="spacingAndGlyphs">1.6</text>
<text x="32.4" y="587.5" font-family="Liberation Sans" font-size="5.0" font-weight="bold" font-style="normal" text-anchor="middle" fill="#888" textLength="6.5" lengthAdjust="spacingAndGlyphs">0.0</text>
<text x="51.65" y="587.5" font-family="Liberation Sans" font-size="5.0" font-weight="bold" font-style="normal" text-anchor="middle" fill="#888" textLength="6.5" lengthAdjust="spacingAndGlyphs">5.0</text>
<text x="70.9" y="587.5" font-family="Liberation Sans" font-size="5.0" font-weight="bold" font-style="normal" text-anchor="middle" fill="#888" textLength="8" lengthAdjust="spacingAndGlyphs">10.0</text>
<text x="90.15" y="587.5" font-family="Liberation Sans" font-size="5.0" font-weight="bold" font-style="normal" text-anchor="middle" fill="#888" textLength="8" lengthAdjust="spacingAndGlyphs">15.0</text>
<text x="109.4" y="587.5" font-family="Liberation Sans" font-size="5.0" font-weight="bold" font-style="normal" text-anchor="middle" fill="#888" textLength="8" lengthAdjust="spacingAndGlyphs">20.0</text>
<text x="128.65" y="587.5" font-family="Liberation Sans" font-size="5.0" font-weight="bold" font-style="normal" text-anchor="middle" fill="#888" textLength="8" lengthAdjust="spacingAndGlyphs">25.0</text>
<text x="147.9" y="587.5" font-family="Liberation Sans" font-size="5.0" font-weight="bold" font-style="normal" text-anchor="middle" fill="#888" textLength="8" lengthAdjust="spacingAndGlyphs">30.0</text>
<text x="167.15" y="587.5" font-family="Liberation Sans" font-size="5.0" font-weight="bold" font-style="normal" text-anchor="middle" fill="#888" textLength="8" lengthAdjust="spacingAndGlyphs">35.0</text>
<text x="58.5" y="501" font-family="Liberation Serif" font-size="11" font-weight="normal" font-style="normal" text-anchor="start" fill="#222" textLength="71.1" lengthAdjust="spacingAndGlyphs" stroke="#222" stroke-width="0.18">4T1-HER2-ECD</text>
<text x="71" y="600.8" font-family="Liberation Serif" font-size="10" font-weight="bold" font-style="normal" text-anchor="start" fill="#111" textLength="61.3" lengthAdjust="spacingAndGlyphs" stroke="#111" stroke-width="0.2">Time (in hour)</text>
<text x="20.5" y="545" font-family="Liberation Serif" font-size="11" font-weight="bold" font-style="normal" text-anchor="middle" fill="#111" textLength="90" lengthAdjust="spacingAndGlyphs" transform="rotate(-90 20.5 545)" stroke="#111" stroke-width="0.15">Normalized cell index</text>
<path d="M31.8,581.0 L32.7,580.8 L33.9,580.5 L35.3,580.2 L36.8,579.8 L38.4,579.3 L40.0,578.6 L41.4,577.9 L42.8,577.1 L44.3,576.2 L45.9,575.2 L47.7,573.8 L50.0,572.1 L52.8,569.9 L55.9,567.2 L59.4,564.3 L63.0,561.2 L66.6,558.3 L70.0,555.6 L73.5,553.1 L77.2,550.6 L80.9,548.2 L84.4,546.0 L87.5,544.1 L90.0,542.6 L91.7,541.6 L92.6,541.1 L93.2,540.9 L93.6,540.7 L94.1,540.5 L95.0,540.0 L96.4,539.1 L98.0,537.9 L99.7,536.7 L101.4,535.5 L103.0,534.5 L104.3,533.8 L105.3,533.6 L106.0,533.8 L106.5,534.2 L107.1,534.6 L107.8,534.8 L108.9,534.6 L110.5,533.9 L112.4,532.7 L114.6,531.4 L116.7,530.1 L118.5,528.9 L119.7,528.1" fill="none" stroke="#e83030" stroke-width="1.6" stroke-linejoin="round" stroke-linecap="round"/>
<path d="M31.8,579.8 L32.7,579.6 L33.9,579.3 L35.3,579.0 L36.8,578.6 L38.4,578.1 L40.0,577.4 L41.4,576.7 L42.8,575.9 L44.3,575.0 L45.9,574.0 L47.7,572.6 L50.0,570.9 L52.8,568.7 L55.9,566.0 L59.4,563.1 L63.0,560.0 L66.6,557.1 L70.0,554.4 L73.5,551.9 L77.2,549.4 L80.9,547.0 L84.4,544.8 L87.5,542.9 L90.0,541.4 L91.7,540.4 L92.6,539.9 L93.2,539.7 L93.6,539.5 L94.1,539.3 L95.0,538.8 L96.4,537.9 L98.0,536.7 L99.7,535.5 L101.4,534.3 L103.0,533.3 L104.3,532.6 L105.3,532.4 L106.0,532.6 L106.5,533.0 L107.1,533.4 L107.8,533.6 L108.9,533.4 L110.5,532.7 L112.4,531.5 L114.6,530.2 L116.7,528.9 L118.5,527.7 L119.7,526.9" fill="none" stroke="#2040a0" stroke-width="1.6" stroke-linejoin="round" stroke-linecap="round"/>
<path d="M31.8,581.0 L32.7,580.8 L33.9,580.5 L35.3,580.2 L36.8,579.8 L38.4,579.3 L40.0,578.6 L41.4,577.9 L42.8,577.1 L44.3,576.2 L45.9,575.2 L47.7,573.8 L50.0,572.1 L52.8,569.9 L55.9,567.2 L59.4,564.3 L63.0,561.2 L66.6,558.3 L70.0,555.6 L73.5,553.1 L77.2,550.6 L80.9,548.2 L84.4,546.0 L87.5,544.1 L90.0,542.6 L91.7,541.6 L92.6,541.1 L93.2,540.9 L93.6,540.7 L94.1,540.5 L95.0,540.0 L96.4,539.1 L98.0,537.9 L99.7,536.7 L101.4,535.5 L103.0,534.5 L104.3,533.8 L105.3,533.6 L106.0,533.8 L106.5,534.2 L107.1,534.6 L107.8,534.8 L108.9,534.6 L110.5,533.9 L112.4,532.7 L114.6,531.4 L116.7,530.1 L118.5,528.9 L119.7,528.1" fill="none" stroke="#28a040" stroke-width="1.6" stroke-linejoin="round" stroke-linecap="round"/>
<path d="M119.7,527.5 L123.6,528.6 L127.5,528.6 L130.5,543.3" fill="none" stroke="#2040a0" stroke-width="1.6" stroke-linejoin="round" stroke-linecap="round"/>
<path d="M119.7,527.5 L127.5,533.2 L130.5,543.3" fill="none" stroke="#28a040" stroke-width="1.6" stroke-linejoin="round" stroke-linecap="round"/>
<path d="M130.5,543.3 L130.7,542.1 L131.0,540.5 L131.4,538.6 L131.8,536.5 L132.3,534.6 L132.9,533.0 L133.6,531.7 L134.3,530.5 L135.1,529.5 L136.0,528.5 L137.1,527.4 L138.3,526.3 L139.8,525.0 L141.5,523.6 L143.4,522.2 L145.3,520.8 L147.2,519.6 L149.1,518.5 L150.9,517.6 L152.7,517.0 L154.5,516.4 L156.3,515.9 L158.1,515.4 L160.0,515.0 L162.1,514.6 L164.5,514.2 L166.8,513.8 L169.1,513.5 L170.9,513.3 L172.3,513.1" fill="none" stroke="#c89090" stroke-width="1.5" stroke-linejoin="round" stroke-linecap="round"/>
<path d="M130.5,543.3 L130.7,542.3 L131.0,540.8 L131.4,539.0 L131.8,537.2 L132.3,535.5 L132.9,534.0 L133.6,532.8 L134.3,531.8 L135.1,530.8 L136.0,529.9 L137.1,528.9 L138.3,527.8 L139.8,526.6 L141.5,525.2 L143.4,523.8 L145.3,522.4 L147.2,521.1 L149.1,520.1 L150.9,519.3 L152.7,518.7 L154.5,518.2 L156.3,517.7 L158.1,517.4 L160.0,517.0 L162.1,516.6 L164.5,516.3 L166.8,516.1 L169.1,515.8 L170.9,515.6 L172.3,515.5" fill="none" stroke="#3a80d0" stroke-width="1.6" stroke-linejoin="round" stroke-linecap="round"/>
<path d="M130.5,543.3 L130.7,541.9 L131.0,539.9 L131.4,537.6 L131.8,535.1 L132.3,532.8 L132.9,530.9 L133.6,529.3 L134.3,527.9 L135.1,526.7 L136.0,525.5 L137.1,524.3 L138.3,523.2 L139.8,522.1 L141.5,521.0 L143.4,519.9 L145.3,518.9 L147.2,517.9 L149.1,517.0 L150.9,516.2 L152.7,515.4 L154.5,514.7 L156.3,514.0 L158.1,513.2 L160.0,512.4 L162.1,511.4 L164.5,510.2 L166.8,509.0 L169.1,507.9 L170.9,506.9 L172.3,506.2" fill="none" stroke="#28b040" stroke-width="1.8" stroke-linejoin="round" stroke-linecap="round"/>
<path d="M130.5,543.3 L131.0,542.3 L131.7,540.9 L132.5,539.2 L133.3,537.6 L134.3,536.3 L135.2,535.5 L136.0,535.3 L136.8,535.5 L137.6,536.0 L138.6,536.7 L139.8,537.3 L141.4,537.9 L143.4,538.4 L145.8,538.9 L148.5,539.4 L151.3,539.9 L154.1,540.4 L156.8,541.0 L159.6,541.6 L162.5,542.4 L165.5,543.1 L168.3,543.8 L170.6,544.4 L172.3,544.8" fill="none" stroke="#e83030" stroke-width="1.9" stroke-linejoin="round" stroke-linecap="round"/>
<path d="M130.5,543.3 L131.0,542.3 L131.8,540.8 L132.7,539.1 L133.6,537.4 L134.5,535.9 L135.2,534.8 L135.7,534.1 L135.8,533.7 L136.0,533.5 L136.3,533.5 L137.0,533.7 L138.3,534.0 L140.3,534.6 L142.8,535.4 L145.8,536.3 L148.9,537.4 L152.0,538.5 L155.0,539.5 L158.0,540.5 L161.4,541.6 L164.7,542.6 L167.8,543.6 L170.4,544.5 L172.3,545.1" fill="none" stroke="#2040a0" stroke-width="1.9" stroke-linejoin="round" stroke-linecap="round"/>
<path d="M130.5,544.0 L130.8,546.0 L131.1,548.9 L131.5,552.2 L132.0,555.7 L132.4,559.0 L132.9,561.8 L133.3,564.1 L133.8,566.1 L134.3,568.0 L134.8,569.7 L135.3,571.2 L136.0,572.6 L136.5,573.8 L136.7,574.8 L137.0,575.6 L137.6,576.3 L139.0,576.8 L141.4,577.3 L145.4,577.7 L151.0,577.9 L157.2,577.9 L163.3,578.0 L168.6,578.0 L172.3,578.0" fill="none" stroke="#30c8e0" stroke-width="1.5" stroke-linejoin="round" stroke-linecap="round"/>
<line x1="30.5" y1="633.4" x2="30.5" y2="709" stroke="#e0e0e0" stroke-width="0.6"/>
<line x1="30.5" y1="709" x2="174.5" y2="709" stroke="#e0e0e0" stroke-width="0.6"/>
<text x="29" y="710.8" font-family="Liberation Sans" font-size="5.0" font-weight="bold" font-style="normal" text-anchor="end" fill="#888" textLength="6.5" lengthAdjust="spacingAndGlyphs">0.0</text>
<text x="29" y="701.5999999999999" font-family="Liberation Sans" font-size="5.0" font-weight="bold" font-style="normal" text-anchor="end" fill="#888" textLength="6.5" lengthAdjust="spacingAndGlyphs">0.2</text>
<text x="29" y="692.4" font-family="Liberation Sans" font-size="5.0" font-weight="bold" font-style="normal" text-anchor="end" fill="#888" textLength="6.5" lengthAdjust="spacingAndGlyphs">0.4</text>
<text x="29" y="683.1999999999999" font-family="Liberation Sans" font-size="5.0" font-weight="bold" font-style="normal" text-anchor="end" fill="#888" textLength="6.5" lengthAdjust="spacingAndGlyphs">0.6</text>
<text x="29" y="674.0" font-family="Liberation Sans" font-size="5.0" font-weight="bold" font-style="normal" text-anchor="end" fill="#888" textLength="6.5" lengthAdjust="spacingAndGlyphs">0.8</text>
<text x="29" y="664.8" font-family="Liberation Sans" font-size="5.0" font-weight="bold" font-style="normal" text-anchor="end" fill="#888" textLength="6.5" lengthAdjust="spacingAndGlyphs">1.0</text>
<text x="29" y="655.5999999999999" font-family="Liberation Sans" font-size="5.0" font-weight="bold" font-style="normal" text-anchor="end" fill="#888" textLength="6.5" lengthAdjust="spacingAndGlyphs">1.2</text>
<text x="29" y="646.4" font-family="Liberation Sans" font-size="5.0" font-weight="bold" font-style="normal" text-anchor="end" fill="#888" textLength="6.5" lengthAdjust="spacingAndGlyphs">1.4</text>
<text x="29" y="637.1999999999999" font-family="Liberation Sans" font-size="5.0" font-weight="bold" font-style="normal" text-anchor="end" fill="#888" textLength="6.5" lengthAdjust="spacingAndGlyphs">1.6</text>
<text x="32.4" y="716" font-family="Liberation Sans" font-size="5.0" font-weight="bold" font-style="normal" text-anchor="middle" fill="#888" textLength="6.5" lengthAdjust="spacingAndGlyphs">0.0</text>
<text x="51.65" y="716" font-family="Liberation Sans" font-size="5.0" font-weight="bold" font-style="normal" text-anchor="middle" fill="#888" textLength="6.5" lengthAdjust="spacingAndGlyphs">5.0</text>
<text x="70.9" y="716" font-family="Liberation Sans" font-size="5.0" font-weight="bold" font-style="normal" text-anchor="middle" fill="#888" textLength="8" lengthAdjust="spacingAndGlyphs">10.0</text>
<text x="90.15" y="716" font-family="Liberation Sans" font-size="5.0" font-weight="bold" font-style="normal" text-anchor="middle" fill="#888" textLength="8" lengthAdjust="spacingAndGlyphs">15.0</text>
<text x="109.4" y="716" font-family="Liberation Sans" font-size="5.0" font-weight="bold" font-style="normal" text-anchor="middle" fill="#888" textLength="8" lengthAdjust="spacingAndGlyphs">20.0</text>
<text x="128.65" y="716" font-family="Liberation Sans" font-size="5.0" font-weight="bold" font-style="normal" text-anchor="middle" fill="#888" textLength="8" lengthAdjust="spacingAndGlyphs">25.0</text>
<text x="147.9" y="716" font-family="Liberation Sans" font-size="5.0" font-weight="bold" font-style="normal" text-anchor="middle" fill="#888" textLength="8" lengthAdjust="spacingAndGlyphs">30.0</text>
<text x="167.15" y="716" font-family="Liberation Sans" font-size="5.0" font-weight="bold" font-style="normal" text-anchor="middle" fill="#888" textLength="8" lengthAdjust="spacingAndGlyphs">35.0</text>
<text x="56.4" y="631" font-family="Liberation Serif" font-size="11" font-weight="normal" font-style="normal" text-anchor="start" fill="#222" textLength="86.3" lengthAdjust="spacingAndGlyphs" stroke="#222" stroke-width="0.18">4T1-HER2-ECD-IV</text>
<text x="72.4" y="729.0" font-family="Liberation Serif" font-size="10" font-weight="bold" font-style="normal" text-anchor="start" fill="#111" textLength="61.3" lengthAdjust="spacingAndGlyphs" stroke="#111" stroke-width="0.2">Time (in hour)</text>
<text x="20.5" y="674" font-family="Liberation Serif" font-size="11" font-weight="bold" font-style="normal" text-anchor="middle" fill="#111" textLength="90" lengthAdjust="spacingAndGlyphs" transform="rotate(-90 20.5 674)" stroke="#111" stroke-width="0.15">Normalized cell index</text>
<path d="M31.8,708.4 L32.7,708.1 L33.9,707.7 L35.3,707.3 L36.8,706.7 L38.4,706.1 L40.0,705.4 L41.4,704.7 L42.8,703.9 L44.3,703.1 L45.9,702.1 L47.7,700.9 L50.0,699.4 L52.8,697.5 L55.9,695.3 L59.4,692.9 L63.0,690.3 L66.6,687.8 L70.0,685.4 L73.5,683.0 L77.2,680.5 L80.9,678.1 L84.4,675.7 L87.5,673.6 L90.0,671.9 L91.7,670.6 L92.6,669.7 L93.2,669.1 L93.6,668.5 L94.1,668.0 L95.0,667.3 L96.3,666.4 L97.7,665.4 L99.3,664.4 L100.8,663.5 L102.3,662.7 L103.5,662.2 L104.4,662.1 L105.1,662.4 L105.6,662.9 L106.2,663.3 L107.0,663.5 L108.1,663.1 L109.8,662.1 L111.9,660.5 L114.2,658.7 L116.4,656.8 L118.4,655.2 L119.7,654.1" fill="none" stroke="#e08080" stroke-width="1.6" stroke-linejoin="round" stroke-linecap="round"/>
<path d="M31.8,709.0 L32.7,708.7 L33.9,708.3 L35.3,707.9 L36.8,707.3 L38.4,706.7 L40.0,706.0 L41.4,705.3 L42.8,704.5 L44.3,703.7 L45.9,702.7 L47.7,701.5 L50.0,700.0 L52.8,698.1 L55.9,695.9 L59.4,693.5 L63.0,690.9 L66.6,688.4 L70.0,686.0 L73.5,683.6 L77.2,681.1 L80.9,678.7 L84.4,676.3 L87.5,674.2 L90.0,672.5 L91.7,671.2 L92.6,670.3 L93.2,669.7 L93.6,669.1 L94.1,668.6 L95.0,667.9 L96.3,667.0 L97.7,666.0 L99.3,665.0 L100.8,664.1 L102.3,663.3 L103.5,662.8 L104.4,662.7 L105.1,663.0 L105.6,663.5 L106.2,663.9 L107.0,664.1 L108.1,663.7 L109.8,662.7 L111.9,661.1 L114.2,659.3 L116.4,657.4 L118.4,655.8 L119.7,654.7" fill="none" stroke="#28a040" stroke-width="1.6" stroke-linejoin="round" stroke-linecap="round"/>
<path d="M31.8,709.7 L32.7,709.4 L33.9,709.0 L35.3,708.6 L36.8,708.0 L38.4,707.4 L40.0,706.7 L41.4,706.0 L42.8,705.2 L44.3,704.4 L45.9,703.4 L47.7,702.2 L50.0,700.7 L52.8,698.8 L55.9,696.6 L59.4,694.2 L63.0,691.6 L66.6,689.1 L70.0,686.7 L73.5,684.3 L77.2,681.8 L80.9,679.4 L84.4,677.0 L87.5,674.9 L90.0,673.2 L91.7,671.9 L92.6,671.0 L93.2,670.4 L93.6,669.8 L94.1,669.3 L95.0,668.6 L96.3,667.7 L97.7,666.7 L99.3,665.7 L100.8,664.8 L102.3,664.0 L103.5,663.5 L104.4,663.4 L105.1,663.7 L105.6,664.2 L106.2,664.6 L107.0,664.8 L108.1,664.4 L109.8,663.4 L111.9,661.8 L114.2,660.0 L116.4,658.1 L118.4,656.5 L119.7,655.4" fill="none" stroke="#3a80d0" stroke-width="1.6" stroke-linejoin="round" stroke-linecap="round"/>
<path d="M119.7,654.7 L123.6,657.0 L127.5,658.6 L129.8,671.0" fill="none" stroke="#e08080" stroke-width="1.6" stroke-linejoin="round" stroke-linecap="round"/>
<path d="M119.7,654.7 L123.6,657.0 L127.5,658.6 L129.8,671.0" fill="none" stroke="#3a80d0" stroke-width="1.6" stroke-linejoin="round" stroke-linecap="round"/>
<path d="M129.8,671.0 L130.0,669.3 L130.3,666.9 L130.6,664.1 L131.0,661.1 L131.5,658.3 L132.1,655.8 L132.9,653.7 L133.8,651.6 L134.9,649.7 L136.0,648.0 L137.1,646.4 L138.3,645.0 L139.5,643.9 L140.8,642.9 L142.1,642.2 L143.4,641.6 L144.7,641.0 L146.0,640.3 L147.2,639.6 L148.2,638.9 L149.2,638.2 L150.3,637.5 L151.8,636.9 L153.7,636.5 L156.4,636.2 L159.8,636.0 L163.5,635.9 L167.1,635.8 L170.2,635.8 L172.3,635.7" fill="none" stroke="#c89090" stroke-width="1.7" stroke-linejoin="round" stroke-linecap="round"/>
<path d="M129.8,671.0 L130.0,669.4 L130.3,667.2 L130.6,664.6 L131.0,661.8 L131.5,659.1 L132.1,656.8 L132.9,654.7 L133.8,652.7 L134.9,650.8 L136.0,649.0 L137.1,647.4 L138.3,646.0 L139.5,644.9 L140.8,643.9 L142.1,643.2 L143.4,642.6 L144.7,642.0 L146.0,641.3 L147.2,640.6 L148.2,639.9 L149.2,639.2 L150.3,638.5 L151.8,637.9 L153.7,637.5 L156.4,637.2 L159.8,637.0 L163.5,636.9 L167.1,636.8 L170.2,636.8 L172.3,636.7" fill="none" stroke="#28a040" stroke-width="1.7" stroke-linejoin="round" stroke-linecap="round"/>
<path d="M129.8,671.0 L130.0,669.4 L130.3,667.0 L130.6,664.3 L131.0,661.5 L131.5,658.7 L132.1,656.3 L132.9,654.2 L133.8,652.2 L134.9,650.3 L136.0,648.5 L137.1,646.9 L138.3,645.5 L139.5,644.4 L140.8,643.4 L142.1,642.7 L143.4,642.1 L144.7,641.5 L146.0,640.8 L147.2,640.1 L148.2,639.4 L149.2,638.7 L150.3,638.0 L151.8,637.4 L153.7,637.0 L156.4,636.7 L159.8,636.5 L163.5,636.4 L167.1,636.3 L170.2,636.3 L172.3,636.2" fill="none" stroke="#3a80d0" stroke-width="1.7" stroke-linejoin="round" stroke-linecap="round"/>
<path d="M129.8,671.0 L130.3,670.0 L131.0,668.6 L131.8,666.9 L132.6,665.2 L133.5,663.7 L134.4,662.5 L135.2,661.6 L135.9,661.0 L136.7,660.5 L137.6,660.1 L138.6,659.7 L139.8,659.4 L141.3,659.1 L143.1,658.8 L145.0,658.6 L146.9,658.4 L148.8,658.3 L150.6,658.3 L152.2,658.3 L153.7,658.4 L155.2,658.6 L156.7,658.8 L158.3,659.1 L160.0,659.4 L162.0,659.8 L164.3,660.3 L166.7,660.8 L169.0,661.3 L170.9,661.7 L172.3,662.0" fill="none" stroke="#e08080" stroke-width="2.0" stroke-linejoin="round" stroke-linecap="round"/>
<path d="M129.8,671.0 L130.3,670.0 L131.0,668.6 L131.8,666.9 L132.6,665.2 L133.5,663.7 L134.4,662.5 L135.2,661.6 L135.9,661.0 L136.7,660.5 L137.6,660.1 L138.6,659.7 L139.8,659.4 L141.3,659.1 L143.1,658.8 L145.0,658.6 L146.9,658.4 L148.8,658.3 L150.6,658.3 L152.2,658.3 L153.7,658.4 L155.2,658.6 L156.7,658.8 L158.3,659.1 L160.0,659.4 L162.0,659.8 L164.3,660.3 L166.7,660.8 L169.0,661.3 L170.9,661.7 L172.3,662.0" fill="none" stroke="#2040a0" stroke-width="1.5" stroke-linejoin="round" stroke-linecap="round"/>
<path d="M129.8,672.5 L130.0,674.3 L130.4,676.9 L130.8,679.9 L131.2,683.1 L131.6,686.1 L132.1,688.7 L132.6,690.9 L133.0,692.9 L133.5,694.8 L134.0,696.5 L134.6,698.1 L135.2,699.5 L135.6,700.8 L135.6,701.9 L135.7,702.9 L136.1,703.7 L137.4,704.4 L139.8,705.0 L144.0,705.4 L149.8,705.6 L156.3,705.7 L162.8,705.7 L168.4,705.7 L172.3,705.7" fill="none" stroke="#30c8e0" stroke-width="1.6" stroke-linejoin="round" stroke-linecap="round"/>
<line x1="31.3" y1="740.0" x2="46.9" y2="740.0" stroke="#22b04b" stroke-width="3.0" stroke-dasharray="3.6,0.7"/>
<text x="49" y="743.0" font-family="Liberation Serif" font-size="8.5" font-weight="normal" font-style="normal" text-anchor="start" fill="#444" textLength="32.8" lengthAdjust="spacingAndGlyphs" stroke="#444" stroke-width="0.12">Tumor cell</text>
<line x1="31.3" y1="751.65" x2="46.9" y2="751.65" stroke="#f02a2a" stroke-width="3.0" stroke-dasharray="3.6,0.7"/>
<text x="49" y="754.65" font-family="Liberation Serif" font-size="8.5" font-weight="normal" font-style="normal" text-anchor="start" fill="#444" textLength="54" lengthAdjust="spacingAndGlyphs" stroke="#444" stroke-width="0.12">Tumor cell+T cell</text>
<line x1="31.3" y1="763.3" x2="46.9" y2="763.3" stroke="#c89090" stroke-width="3.0" stroke-dasharray="3.6,0.7"/>
<text x="49" y="766.3" font-family="Liberation Serif" font-size="8.5" font-weight="normal" font-style="normal" text-anchor="start" fill="#444" textLength="99.5" lengthAdjust="spacingAndGlyphs" stroke="#444" stroke-width="0.12">Tumor cell+HER2-CD3-Fc 1:100</text>
<line x1="31.3" y1="774.95" x2="46.9" y2="774.95" stroke="#33d0e0" stroke-width="3.0" stroke-dasharray="3.6,0.7"/>
<text x="49" y="777.95" font-family="Liberation Serif" font-size="8.5" font-weight="normal" font-style="normal" text-anchor="start" fill="#444" textLength="120" lengthAdjust="spacingAndGlyphs" stroke="#444" stroke-width="0.12">Tumor cell+T cell+HER2-CD3-Fc 1:100</text>
<line x1="31.3" y1="786.6" x2="46.9" y2="786.6" stroke="#2a80d0" stroke-width="3.0" stroke-dasharray="3.6,0.7"/>
<text x="49" y="789.6" font-family="Liberation Serif" font-size="8.5" font-weight="normal" font-style="normal" text-anchor="start" fill="#444" textLength="105.5" lengthAdjust="spacingAndGlyphs" stroke="#444" stroke-width="0.12">Tumor cell+HER2-mCD3-Fc 1:100</text>
<line x1="31.3" y1="798.25" x2="46.9" y2="798.25" stroke="#2040a0" stroke-width="3.0" stroke-dasharray="3.6,0.7"/>
<text x="49" y="801.25" font-family="Liberation Serif" font-size="8.5" font-weight="normal" font-style="normal" text-anchor="start" fill="#444" textLength="126" lengthAdjust="spacingAndGlyphs" stroke="#444" stroke-width="0.12">Tumor cell+T cell+HER2-mCD3-Fc 1:100</text>
<text x="249.5" y="552.2" font-family="Liberation Serif" font-size="11" font-weight="normal" font-style="normal" text-anchor="start" fill="#222" textLength="17.7" lengthAdjust="spacingAndGlyphs" stroke="#222" stroke-width="0.18">4T1</text>
<line x1="212.3" y1="573.72" x2="212.3" y2="637.2" stroke="#444" stroke-width="0.8"/>
<line x1="210.10000000000002" y1="637.2" x2="212.3" y2="637.2" stroke="#444" stroke-width="0.6"/>
<text x="209.60000000000002" y="638.7" font-family="Liberation Sans" font-size="4.0" font-weight="bold" font-style="normal" text-anchor="end" fill="#3a3a3a">0</text>
<line x1="210.10000000000002" y1="626.62" x2="212.3" y2="626.62" stroke="#444" stroke-width="0.6"/>
<text x="209.60000000000002" y="628.12" font-family="Liberation Sans" font-size="4.0" font-weight="bold" font-style="normal" text-anchor="end" fill="#3a3a3a">1000</text>
<line x1="210.10000000000002" y1="616.0400000000001" x2="212.3" y2="616.0400000000001" stroke="#444" stroke-width="0.6"/>
<text x="209.60000000000002" y="617.5400000000001" font-family="Liberation Sans" font-size="4.0" font-weight="bold" font-style="normal" text-anchor="end" fill="#3a3a3a">2000</text>
<line x1="210.10000000000002" y1="605.46" x2="212.3" y2="605.46" stroke="#444" stroke-width="0.6"/>
<text x="209.60000000000002" y="606.96" font-family="Liberation Sans" font-size="4.0" font-weight="bold" font-style="normal" text-anchor="end" fill="#3a3a3a">3000</text>
<line x1="210.10000000000002" y1="594.88" x2="212.3" y2="594.88" stroke="#444" stroke-width="0.6"/>
<text x="209.60000000000002" y="596.38" font-family="Liberation Sans" font-size="4.0" font-weight="bold" font-style="normal" text-anchor="end" fill="#3a3a3a">4000</text>
<line x1="210.10000000000002" y1="584.3000000000001" x2="212.3" y2="584.3000000000001" stroke="#444" stroke-width="0.6"/>
<text x="209.60000000000002" y="585.8000000000001" font-family="Liberation Sans" font-size="4.0" font-weight="bold" font-style="normal" text-anchor="end" fill="#3a3a3a">5000</text>
<line x1="210.10000000000002" y1="573.72" x2="212.3" y2="573.72" stroke="#444" stroke-width="0.6"/>
<text x="209.60000000000002" y="575.22" font-family="Liberation Sans" font-size="4.0" font-weight="bold" font-style="normal" text-anchor="end" fill="#3a3a3a">6000</text>
<line x1="212.3" y1="637.2" x2="302.7" y2="637.2" stroke="#444" stroke-width="0.9"/>
<text x="198.6" y="601.4" font-family="Liberation Serif" font-size="8.5" font-weight="bold" font-style="normal" text-anchor="middle" fill="#111" textLength="50" lengthAdjust="spacingAndGlyphs" transform="rotate(-90 198.6 601.4)" stroke="#111" stroke-width="0.15">IFN-λ (pg/ml)</text>
<rect x="217.7" y="636.2" width="8.300000000000011" height="1.0" fill="#22b14c"/>
<rect x="232.3" y="626" width="7.699999999999989" height="11.200000000000045" fill="#ff1a1a"/>
<rect x="246.8" y="636.5" width="7.699999999999989" height="0.7000000000000455" fill="#c89696"/>
<rect x="261" y="624.2" width="8" height="13.0" fill="#22c4dc"/>
<rect x="275" y="636.5" width="8" height="0.7000000000000455" fill="#2c80c8"/>
<rect x="289" y="628.2" width="8.600000000000023" height="9.0" fill="#2249a0"/>
<line x1="221.8" y1="637.2" x2="221.8" y2="639.0" stroke="#444" stroke-width="0.5"/>
<line x1="236" y1="637.2" x2="236" y2="639.0" stroke="#444" stroke-width="0.5"/>
<line x1="250.7" y1="637.2" x2="250.7" y2="639.0" stroke="#444" stroke-width="0.5"/>
<line x1="265" y1="637.2" x2="265" y2="639.0" stroke="#444" stroke-width="0.5"/>
<line x1="279" y1="637.2" x2="279" y2="639.0" stroke="#444" stroke-width="0.5"/>
<line x1="293.3" y1="637.2" x2="293.3" y2="639.0" stroke="#444" stroke-width="0.5"/>
<line x1="264" y1="575.1" x2="293.3" y2="575.1" stroke="#6a6a6a" stroke-width="0.9"/>
<text x="278.65" y="573.5" font-family="Liberation Sans" font-size="7.4" font-weight="normal" font-style="normal" text-anchor="middle" fill="#333" textLength="10.5" lengthAdjust="spacingAndGlyphs" stroke="#333" stroke-width="0.15">N.S.</text>
<line x1="235.5" y1="587.3" x2="293.3" y2="587.3" stroke="#6a6a6a" stroke-width="0.9"/>
<text x="264.4" y="585.6999999999999" font-family="Liberation Sans" font-size="7.4" font-weight="normal" font-style="normal" text-anchor="middle" fill="#333" textLength="10.5" lengthAdjust="spacingAndGlyphs" stroke="#333" stroke-width="0.15">N.S.</text>
<line x1="235.5" y1="599.1" x2="264.6" y2="599.1" stroke="#6a6a6a" stroke-width="0.9"/>
<text x="250.05" y="597.5" font-family="Liberation Sans" font-size="7.4" font-weight="normal" font-style="normal" text-anchor="middle" fill="#333" textLength="10.5" lengthAdjust="spacingAndGlyphs" stroke="#333" stroke-width="0.15">N.S.</text>
<text x="338.2" y="552" font-family="Liberation Serif" font-size="11" font-weight="normal" font-style="normal" text-anchor="start" fill="#222" textLength="70.8" lengthAdjust="spacingAndGlyphs" stroke="#222" stroke-width="0.18">4T1-HER2-ECD</text>
<line x1="328.5" y1="573.6" x2="328.5" y2="636.9" stroke="#444" stroke-width="0.8"/>
<line x1="326.3" y1="636.9" x2="328.5" y2="636.9" stroke="#444" stroke-width="0.6"/>
<text x="325.8" y="638.4" font-family="Liberation Sans" font-size="4.0" font-weight="bold" font-style="normal" text-anchor="end" fill="#3a3a3a">0</text>
<line x1="326.3" y1="626.35" x2="328.5" y2="626.35" stroke="#444" stroke-width="0.6"/>
<text x="325.8" y="627.85" font-family="Liberation Sans" font-size="4.0" font-weight="bold" font-style="normal" text-anchor="end" fill="#3a3a3a">1000</text>
<line x1="326.3" y1="615.8" x2="328.5" y2="615.8" stroke="#444" stroke-width="0.6"/>
<text x="325.8" y="617.3" font-family="Liberation Sans" font-size="4.0" font-weight="bold" font-style="normal" text-anchor="end" fill="#3a3a3a">2000</text>
<line x1="326.3" y1="605.25" x2="328.5" y2="605.25" stroke="#444" stroke-width="0.6"/>
<text x="325.8" y="606.75" font-family="Liberation Sans" font-size="4.0" font-weight="bold" font-style="normal" text-anchor="end" fill="#3a3a3a">3000</text>
<line x1="326.3" y1="594.6999999999999" x2="328.5" y2="594.6999999999999" stroke="#444" stroke-width="0.6"/>
<text x="325.8" y="596.1999999999999" font-family="Liberation Sans" font-size="4.0" font-weight="bold" font-style="normal" text-anchor="end" fill="#3a3a3a">4000</text>
<line x1="326.3" y1="584.15" x2="328.5" y2="584.15" stroke="#444" stroke-width="0.6"/>
<text x="325.8" y="585.65" font-family="Liberation Sans" font-size="4.0" font-weight="bold" font-style="normal" text-anchor="end" fill="#3a3a3a">5000</text>
<line x1="326.3" y1="573.6" x2="328.5" y2="573.6" stroke="#444" stroke-width="0.6"/>
<text x="325.8" y="575.1" font-family="Liberation Sans" font-size="4.0" font-weight="bold" font-style="normal" text-anchor="end" fill="#3a3a3a">6000</text>
<line x1="328.5" y1="636.9" x2="419.6" y2="636.9" stroke="#444" stroke-width="0.9"/>
<text x="315" y="601" font-family="Liberation Serif" font-size="8.5" font-weight="bold" font-style="normal" text-anchor="middle" fill="#111" textLength="50" lengthAdjust="spacingAndGlyphs" transform="rotate(-90 315 601)" stroke="#111" stroke-width="0.15">IFN-λ (pg/ml)</text>
<rect x="335" y="635" width="8" height="1.8999999999999773" fill="#22b14c"/>
<rect x="349" y="633.6" width="8.600000000000023" height="3.2999999999999545" fill="#ff1a1a"/>
<rect x="363.5" y="636.5" width="8.0" height="0.39999999999997726" fill="#c89696"/>
<rect x="377.8" y="597.4" width="8.199999999999989" height="39.5" fill="#22c4dc"/>
<rect x="392.2" y="633.7" width="7.800000000000011" height="3.199999999999932" fill="#2c80c8"/>
<rect x="406.4" y="630.8" width="7.800000000000011" height="6.100000000000023" fill="#2249a0"/>
<line x1="339" y1="636.9" x2="339" y2="638.6999999999999" stroke="#444" stroke-width="0.5"/>
<line x1="353.3" y1="636.9" x2="353.3" y2="638.6999999999999" stroke="#444" stroke-width="0.5"/>
<line x1="367.5" y1="636.9" x2="367.5" y2="638.6999999999999" stroke="#444" stroke-width="0.5"/>
<line x1="381.9" y1="636.9" x2="381.9" y2="638.6999999999999" stroke="#444" stroke-width="0.5"/>
<line x1="396.1" y1="636.9" x2="396.1" y2="638.6999999999999" stroke="#444" stroke-width="0.5"/>
<line x1="410.3" y1="636.9" x2="410.3" y2="638.6999999999999" stroke="#444" stroke-width="0.5"/>
<line x1="381.8" y1="570.1" x2="410.5" y2="570.1" stroke="#6a6a6a" stroke-width="0.9"/>
<circle cx="394.50" cy="567.20" r="1.25" fill="#333"/>
<circle cx="397.80" cy="567.20" r="1.25" fill="#333"/>
<line x1="353.3" y1="580.3" x2="410.5" y2="580.3" stroke="#6a6a6a" stroke-width="0.9"/>
<text x="381.9" y="578.6999999999999" font-family="Liberation Sans" font-size="7.4" font-weight="normal" font-style="normal" text-anchor="middle" fill="#333" textLength="10.5" lengthAdjust="spacingAndGlyphs" stroke="#333" stroke-width="0.15">N.S.</text>
<line x1="353.3" y1="587.8" x2="381.8" y2="587.8" stroke="#6a6a6a" stroke-width="0.9"/>
<circle cx="365.90" cy="584.90" r="1.25" fill="#333"/>
<circle cx="369.20" cy="584.90" r="1.25" fill="#333"/>
<text x="447" y="552" font-family="Liberation Serif" font-size="11" font-weight="normal" font-style="normal" text-anchor="start" fill="#222" textLength="85.4" lengthAdjust="spacingAndGlyphs" stroke="#222" stroke-width="0.18">4T1-HER2-ECD-IV</text>
<line x1="448.7" y1="573.68" x2="448.7" y2="636.8" stroke="#444" stroke-width="0.8"/>
<line x1="446.5" y1="636.8" x2="448.7" y2="636.8" stroke="#444" stroke-width="0.6"/>
<text x="446.0" y="638.3" font-family="Liberation Sans" font-size="4.0" font-weight="bold" font-style="normal" text-anchor="end" fill="#3a3a3a">0</text>
<line x1="446.5" y1="626.28" x2="448.7" y2="626.28" stroke="#444" stroke-width="0.6"/>
<text x="446.0" y="627.78" font-family="Liberation Sans" font-size="4.0" font-weight="bold" font-style="normal" text-anchor="end" fill="#3a3a3a">1000</text>
<line x1="446.5" y1="615.76" x2="448.7" y2="615.76" stroke="#444" stroke-width="0.6"/>
<text x="446.0" y="617.26" font-family="Liberation Sans" font-size="4.0" font-weight="bold" font-style="normal" text-anchor="end" fill="#3a3a3a">2000</text>
<line x1="446.5" y1="605.24" x2="448.7" y2="605.24" stroke="#444" stroke-width="0.6"/>
<text x="446.0" y="606.74" font-family="Liberation Sans" font-size="4.0" font-weight="bold" font-style="normal" text-anchor="end" fill="#3a3a3a">3000</text>
<line x1="446.5" y1="594.7199999999999" x2="448.7" y2="594.7199999999999" stroke="#444" stroke-width="0.6"/>
<text x="446.0" y="596.2199999999999" font-family="Liberation Sans" font-size="4.0" font-weight="bold" font-style="normal" text-anchor="end" fill="#3a3a3a">4000</text>
<line x1="446.5" y1="584.1999999999999" x2="448.7" y2="584.1999999999999" stroke="#444" stroke-width="0.6"/>
<text x="446.0" y="585.6999999999999" font-family="Liberation Sans" font-size="4.0" font-weight="bold" font-style="normal" text-anchor="end" fill="#3a3a3a">5000</text>
<line x1="446.5" y1="573.68" x2="448.7" y2="573.68" stroke="#444" stroke-width="0.6"/>
<text x="446.0" y="575.18" font-family="Liberation Sans" font-size="4.0" font-weight="bold" font-style="normal" text-anchor="end" fill="#3a3a3a">6000</text>
<line x1="448.7" y1="636.8" x2="539" y2="636.8" stroke="#444" stroke-width="0.9"/>
<text x="434.5" y="601" font-family="Liberation Serif" font-size="8.5" font-weight="bold" font-style="normal" text-anchor="middle" fill="#111" textLength="50" lengthAdjust="spacingAndGlyphs" transform="rotate(-90 434.5 601)" stroke="#111" stroke-width="0.15">IFN-λ (pg/ml)</text>
<rect x="455" y="635" width="8" height="1.7999999999999545" fill="#22b14c"/>
<rect x="469" y="626" width="8" height="10.799999999999955" fill="#ff1a1a"/>
<rect x="483.3" y="636.4" width="8.0" height="0.39999999999997726" fill="#c89696"/>
<rect x="497.6" y="585.6" width="8.0" height="51.19999999999993" fill="#22c4dc"/>
<rect x="512" y="636" width="8" height="0.7999999999999545" fill="#2c80c8"/>
<rect x="526" y="628.4" width="8" height="8.399999999999977" fill="#2249a0"/>
<line x1="459" y1="636.8" x2="459" y2="638.5999999999999" stroke="#444" stroke-width="0.5"/>
<line x1="473" y1="636.8" x2="473" y2="638.5999999999999" stroke="#444" stroke-width="0.5"/>
<line x1="487.3" y1="636.8" x2="487.3" y2="638.5999999999999" stroke="#444" stroke-width="0.5"/>
<line x1="501.6" y1="636.8" x2="501.6" y2="638.5999999999999" stroke="#444" stroke-width="0.5"/>
<line x1="516" y1="636.8" x2="516" y2="638.5999999999999" stroke="#444" stroke-width="0.5"/>
<line x1="530" y1="636.8" x2="530" y2="638.5999999999999" stroke="#444" stroke-width="0.5"/>
<line x1="503" y1="564.4" x2="531" y2="564.4" stroke="#6a6a6a" stroke-width="0.9"/>
<circle cx="512.05" cy="561.50" r="1.25" fill="#333"/>
<circle cx="515.35" cy="561.50" r="1.25" fill="#333"/>
<circle cx="518.65" cy="561.50" r="1.25" fill="#333"/>
<circle cx="521.95" cy="561.50" r="1.25" fill="#333"/>
<line x1="473" y1="574" x2="531" y2="574" stroke="#6a6a6a" stroke-width="0.9"/>
<text x="502.0" y="572.4" font-family="Liberation Sans" font-size="7.4" font-weight="normal" font-style="normal" text-anchor="middle" fill="#333" textLength="10.5" lengthAdjust="spacingAndGlyphs" stroke="#333" stroke-width="0.15">N.S.</text>
<line x1="473" y1="582" x2="502" y2="582" stroke="#6a6a6a" stroke-width="0.9"/>
<circle cx="484.20" cy="579.10" r="1.25" fill="#333"/>
<circle cx="487.50" cy="579.10" r="1.25" fill="#333"/>
<circle cx="490.80" cy="579.10" r="1.25" fill="#333"/>
<text x="246.8" y="681.4" font-family="Liberation Serif" font-size="11" font-weight="normal" font-style="normal" text-anchor="start" fill="#222" textLength="17.7" lengthAdjust="spacingAndGlyphs" stroke="#222" stroke-width="0.18">4T1</text>
<line x1="212.3" y1="708.3" x2="212.3" y2="774" stroke="#444" stroke-width="0.8"/>
<line x1="210.10000000000002" y1="774.0" x2="212.3" y2="774.0" stroke="#444" stroke-width="0.6"/>
<text x="209.60000000000002" y="775.5" font-family="Liberation Sans" font-size="4.0" font-weight="bold" font-style="normal" text-anchor="end" fill="#3a3a3a">0</text>
<line x1="210.10000000000002" y1="755.4" x2="212.3" y2="755.4" stroke="#444" stroke-width="0.6"/>
<text x="209.60000000000002" y="756.9" font-family="Liberation Sans" font-size="4.0" font-weight="bold" font-style="normal" text-anchor="end" fill="#3a3a3a">20000</text>
<line x1="210.10000000000002" y1="736.8" x2="212.3" y2="736.8" stroke="#444" stroke-width="0.6"/>
<text x="209.60000000000002" y="738.3" font-family="Liberation Sans" font-size="4.0" font-weight="bold" font-style="normal" text-anchor="end" fill="#3a3a3a">40000</text>
<line x1="210.10000000000002" y1="718.2" x2="212.3" y2="718.2" stroke="#444" stroke-width="0.6"/>
<text x="209.60000000000002" y="719.7" font-family="Liberation Sans" font-size="4.0" font-weight="bold" font-style="normal" text-anchor="end" fill="#3a3a3a">60000</text>
<line x1="212.3" y1="774" x2="302.7" y2="774" stroke="#444" stroke-width="0.9"/>
<text x="197.5" y="739" font-family="Liberation Serif" font-size="8.5" font-weight="bold" font-style="normal" text-anchor="middle" fill="#111" textLength="78" lengthAdjust="spacingAndGlyphs" transform="rotate(-90 197.5 739)" stroke="#111" stroke-width="0.15">Granzyme B (pg/ml)</text>
<rect x="232.3" y="761.8" width="7.699999999999989" height="12.200000000000045" fill="#ff1a1a"/>
<rect x="261" y="761.8" width="8" height="12.200000000000045" fill="#22c4dc"/>
<rect x="289.5" y="761" width="8.100000000000023" height="13" fill="#2249a0"/>
<line x1="221.8" y1="774" x2="221.8" y2="775.8" stroke="#444" stroke-width="0.5"/>
<line x1="236" y1="774" x2="236" y2="775.8" stroke="#444" stroke-width="0.5"/>
<line x1="250.7" y1="774" x2="250.7" y2="775.8" stroke="#444" stroke-width="0.5"/>
<line x1="265" y1="774" x2="265" y2="775.8" stroke="#444" stroke-width="0.5"/>
<line x1="279" y1="774" x2="279" y2="775.8" stroke="#444" stroke-width="0.5"/>
<line x1="293.3" y1="774" x2="293.3" y2="775.8" stroke="#444" stroke-width="0.5"/>
<line x1="265" y1="711.4" x2="293.6" y2="711.4" stroke="#6a6a6a" stroke-width="0.9"/>
<text x="279.3" y="709.8" font-family="Liberation Sans" font-size="7.4" font-weight="normal" font-style="normal" text-anchor="middle" fill="#333" textLength="10.5" lengthAdjust="spacingAndGlyphs" stroke="#333" stroke-width="0.15">N.S.</text>
<line x1="236.3" y1="723.5" x2="293.6" y2="723.5" stroke="#6a6a6a" stroke-width="0.9"/>
<text x="264.95000000000005" y="721.9" font-family="Liberation Sans" font-size="7.4" font-weight="normal" font-style="normal" text-anchor="middle" fill="#333" textLength="10.5" lengthAdjust="spacingAndGlyphs" stroke="#333" stroke-width="0.15">N.S.</text>
<line x1="236.3" y1="735.4" x2="265" y2="735.4" stroke="#6a6a6a" stroke-width="0.9"/>
<text x="250.65" y="733.8" font-family="Liberation Sans" font-size="7.4" font-weight="normal" font-style="normal" text-anchor="middle" fill="#333" textLength="10.5" lengthAdjust="spacingAndGlyphs" stroke="#333" stroke-width="0.15">N.S.</text>
<text x="340" y="681.5" font-family="Liberation Serif" font-size="11" font-weight="normal" font-style="normal" text-anchor="start" fill="#222" textLength="70.8" lengthAdjust="spacingAndGlyphs" stroke="#222" stroke-width="0.18">4T1-HER2-ECD</text>
<line x1="329" y1="709" x2="329" y2="774" stroke="#444" stroke-width="0.8"/>
<line x1="326.8" y1="774.0" x2="329" y2="774.0" stroke="#444" stroke-width="0.6"/>
<text x="326.3" y="775.5" font-family="Liberation Sans" font-size="4.0" font-weight="bold" font-style="normal" text-anchor="end" fill="#3a3a3a">0</text>
<line x1="326.8" y1="755.5" x2="329" y2="755.5" stroke="#444" stroke-width="0.6"/>
<text x="326.3" y="757.0" font-family="Liberation Sans" font-size="4.0" font-weight="bold" font-style="normal" text-anchor="end" fill="#3a3a3a">20000</text>
<line x1="326.8" y1="737.0" x2="329" y2="737.0" stroke="#444" stroke-width="0.6"/>
<text x="326.3" y="738.5" font-family="Liberation Sans" font-size="4.0" font-weight="bold" font-style="normal" text-anchor="end" fill="#3a3a3a">40000</text>
<line x1="326.8" y1="718.5" x2="329" y2="718.5" stroke="#444" stroke-width="0.6"/>
<text x="326.3" y="720.0" font-family="Liberation Sans" font-size="4.0" font-weight="bold" font-style="normal" text-anchor="end" fill="#3a3a3a">60000</text>
<line x1="329" y1="774" x2="420.4" y2="774" stroke="#444" stroke-width="0.9"/>
<text x="315" y="739" font-family="Liberation Serif" font-size="8.5" font-weight="bold" font-style="normal" text-anchor="middle" fill="#111" textLength="78" lengthAdjust="spacingAndGlyphs" transform="rotate(-90 315 739)" stroke="#111" stroke-width="0.15">Granzyme B (pg/ml)</text>
<rect x="350" y="757.8" width="8.199999999999989" height="16.200000000000045" fill="#ff1a1a"/>
<rect x="378.5" y="723.3" width="7.899999999999977" height="50.700000000000045" fill="#22c4dc"/>
<rect x="407" y="757.3" width="8" height="16.700000000000045" fill="#2249a0"/>
<line x1="339.5" y1="774" x2="339.5" y2="775.8" stroke="#444" stroke-width="0.5"/>
<line x1="354" y1="774" x2="354" y2="775.8" stroke="#444" stroke-width="0.5"/>
<line x1="368" y1="774" x2="368" y2="775.8" stroke="#444" stroke-width="0.5"/>
<line x1="382.4" y1="774" x2="382.4" y2="775.8" stroke="#444" stroke-width="0.5"/>
<line x1="396.8" y1="774" x2="396.8" y2="775.8" stroke="#444" stroke-width="0.5"/>
<line x1="411" y1="774" x2="411" y2="775.8" stroke="#444" stroke-width="0.5"/>
<line x1="381.8" y1="698.8" x2="411.3" y2="698.8" stroke="#6a6a6a" stroke-width="0.9"/>
<circle cx="391.60" cy="695.90" r="1.25" fill="#333"/>
<circle cx="394.90" cy="695.90" r="1.25" fill="#333"/>
<circle cx="398.20" cy="695.90" r="1.25" fill="#333"/>
<circle cx="401.50" cy="695.90" r="1.25" fill="#333"/>
<line x1="353.3" y1="709.2" x2="411.3" y2="709.2" stroke="#6a6a6a" stroke-width="0.9"/>
<text x="382.3" y="707.6" font-family="Liberation Sans" font-size="7.4" font-weight="normal" font-style="normal" text-anchor="middle" fill="#333" textLength="10.5" lengthAdjust="spacingAndGlyphs" stroke="#333" stroke-width="0.15">N.S.</text>
<line x1="353.3" y1="717" x2="381.8" y2="717" stroke="#6a6a6a" stroke-width="0.9"/>
<circle cx="362.60" cy="714.10" r="1.25" fill="#333"/>
<circle cx="365.90" cy="714.10" r="1.25" fill="#333"/>
<circle cx="369.20" cy="714.10" r="1.25" fill="#333"/>
<circle cx="372.50" cy="714.10" r="1.25" fill="#333"/>
<text x="450" y="682" font-family="Liberation Serif" font-size="11" font-weight="normal" font-style="normal" text-anchor="start" fill="#222" textLength="85" lengthAdjust="spacingAndGlyphs" stroke="#222" stroke-width="0.18">4T1-HER2-ECD-IV</text>
<line x1="449.3" y1="707.5" x2="449.3" y2="773.5" stroke="#444" stroke-width="0.8"/>
<line x1="447.1" y1="773.5" x2="449.3" y2="773.5" stroke="#444" stroke-width="0.6"/>
<text x="446.6" y="775.0" font-family="Liberation Sans" font-size="4.0" font-weight="bold" font-style="normal" text-anchor="end" fill="#3a3a3a">0</text>
<line x1="447.1" y1="754.9" x2="449.3" y2="754.9" stroke="#444" stroke-width="0.6"/>
<text x="446.6" y="756.4" font-family="Liberation Sans" font-size="4.0" font-weight="bold" font-style="normal" text-anchor="end" fill="#3a3a3a">20000</text>
<line x1="447.1" y1="736.3" x2="449.3" y2="736.3" stroke="#444" stroke-width="0.6"/>
<text x="446.6" y="737.8" font-family="Liberation Sans" font-size="4.0" font-weight="bold" font-style="normal" text-anchor="end" fill="#3a3a3a">40000</text>
<line x1="447.1" y1="717.7" x2="449.3" y2="717.7" stroke="#444" stroke-width="0.6"/>
<text x="446.6" y="719.2" font-family="Liberation Sans" font-size="4.0" font-weight="bold" font-style="normal" text-anchor="end" fill="#3a3a3a">60000</text>
<line x1="449.3" y1="773.5" x2="539" y2="773.5" stroke="#444" stroke-width="0.9"/>
<text x="435" y="739" font-family="Liberation Serif" font-size="8.5" font-weight="bold" font-style="normal" text-anchor="middle" fill="#111" textLength="78" lengthAdjust="spacingAndGlyphs" transform="rotate(-90 435 739)" stroke="#111" stroke-width="0.15">Granzyme B (pg/ml)</text>
<rect x="469" y="753.4" width="8" height="20.100000000000023" fill="#ff1a1a"/>
<rect x="497.6" y="713.6" width="8.0" height="59.89999999999998" fill="#22c4dc"/>
<rect x="526" y="755.4" width="8" height="18.100000000000023" fill="#2249a0"/>
<line x1="459" y1="773.5" x2="459" y2="775.3" stroke="#444" stroke-width="0.5"/>
<line x1="473" y1="773.5" x2="473" y2="775.3" stroke="#444" stroke-width="0.5"/>
<line x1="487.3" y1="773.5" x2="487.3" y2="775.3" stroke="#444" stroke-width="0.5"/>
<line x1="501.6" y1="773.5" x2="501.6" y2="775.3" stroke="#444" stroke-width="0.5"/>
<line x1="516" y1="773.5" x2="516" y2="775.3" stroke="#444" stroke-width="0.5"/>
<line x1="530" y1="773.5" x2="530" y2="775.3" stroke="#444" stroke-width="0.5"/>
<line x1="501" y1="692" x2="530.4" y2="692" stroke="#6a6a6a" stroke-width="0.9"/>
<circle cx="510.75" cy="689.10" r="1.25" fill="#333"/>
<circle cx="514.05" cy="689.10" r="1.25" fill="#333"/>
<circle cx="517.35" cy="689.10" r="1.25" fill="#333"/>
<circle cx="520.65" cy="689.10" r="1.25" fill="#333"/>
<line x1="472.4" y1="702" x2="530.4" y2="702" stroke="#6a6a6a" stroke-width="0.9"/>
<text x="501.4" y="700.4" font-family="Liberation Sans" font-size="7.4" font-weight="normal" font-style="normal" text-anchor="middle" fill="#333" textLength="10.5" lengthAdjust="spacingAndGlyphs" stroke="#333" stroke-width="0.15">N.S.</text>
<line x1="472.4" y1="709.6" x2="501" y2="709.6" stroke="#6a6a6a" stroke-width="0.9"/>
<circle cx="481.75" cy="706.70" r="1.25" fill="#333"/>
<circle cx="485.05" cy="706.70" r="1.25" fill="#333"/>
<circle cx="488.35" cy="706.70" r="1.25" fill="#333"/>
<circle cx="491.65" cy="706.70" r="1.25" fill="#333"/>
<rect x="191" y="783" width="9" height="6.3" fill="#22b14c"/>
<text x="202.5" y="789.0999999999999" font-family="Liberation Serif" font-size="8" font-weight="normal" font-style="normal" text-anchor="start" fill="#333" textLength="33" lengthAdjust="spacingAndGlyphs" stroke="#333" stroke-width="0.15">Tumor cell</text>
<rect x="191" y="795" width="9" height="6.3" fill="#ff1a1a"/>
<text x="202.5" y="801.0999999999999" font-family="Liberation Serif" font-size="8" font-weight="normal" font-style="normal" text-anchor="start" fill="#333" textLength="54" lengthAdjust="spacingAndGlyphs" stroke="#333" stroke-width="0.15">Tumor cell+T cell</text>
<rect x="262.7" y="783" width="9" height="6.3" fill="#c89696"/>
<text x="274.2" y="789.0999999999999" font-family="Liberation Serif" font-size="8" font-weight="normal" font-style="normal" text-anchor="start" fill="#333" textLength="110" lengthAdjust="spacingAndGlyphs" stroke="#333" stroke-width="0.15">Tumor cell+HER2-CD3-Fc Ab 1:100</text>
<rect x="262.7" y="795" width="9" height="6.3" fill="#2c80c8"/>
<text x="274.2" y="801.0999999999999" font-family="Liberation Serif" font-size="8" font-weight="normal" font-style="normal" text-anchor="start" fill="#333" textLength="115" lengthAdjust="spacingAndGlyphs" stroke="#333" stroke-width="0.15">Tumor cell+HER2-mCD3-Fc Ab 1:100</text>
<rect x="394.2" y="783" width="9" height="6.3" fill="#22c4dc"/>
<text x="405.7" y="789.0999999999999" font-family="Liberation Serif" font-size="8" font-weight="normal" font-style="normal" text-anchor="start" fill="#333" textLength="131" lengthAdjust="spacingAndGlyphs" stroke="#333" stroke-width="0.15">Tumor cell+T cell+HER2-CD3-Fc Ab 1:100</text>
<rect x="394.2" y="795" width="9" height="6.3" fill="#6a5ab0"/>
<text x="405.7" y="801.0999999999999" font-family="Liberation Serif" font-size="8" font-weight="normal" font-style="normal" text-anchor="start" fill="#333" textLength="137" lengthAdjust="spacingAndGlyphs" stroke="#333" stroke-width="0.15">Tumor cell+T cell+HER2-mCD3-Fc Ab 1:100</text>
</svg>
</body></html>
